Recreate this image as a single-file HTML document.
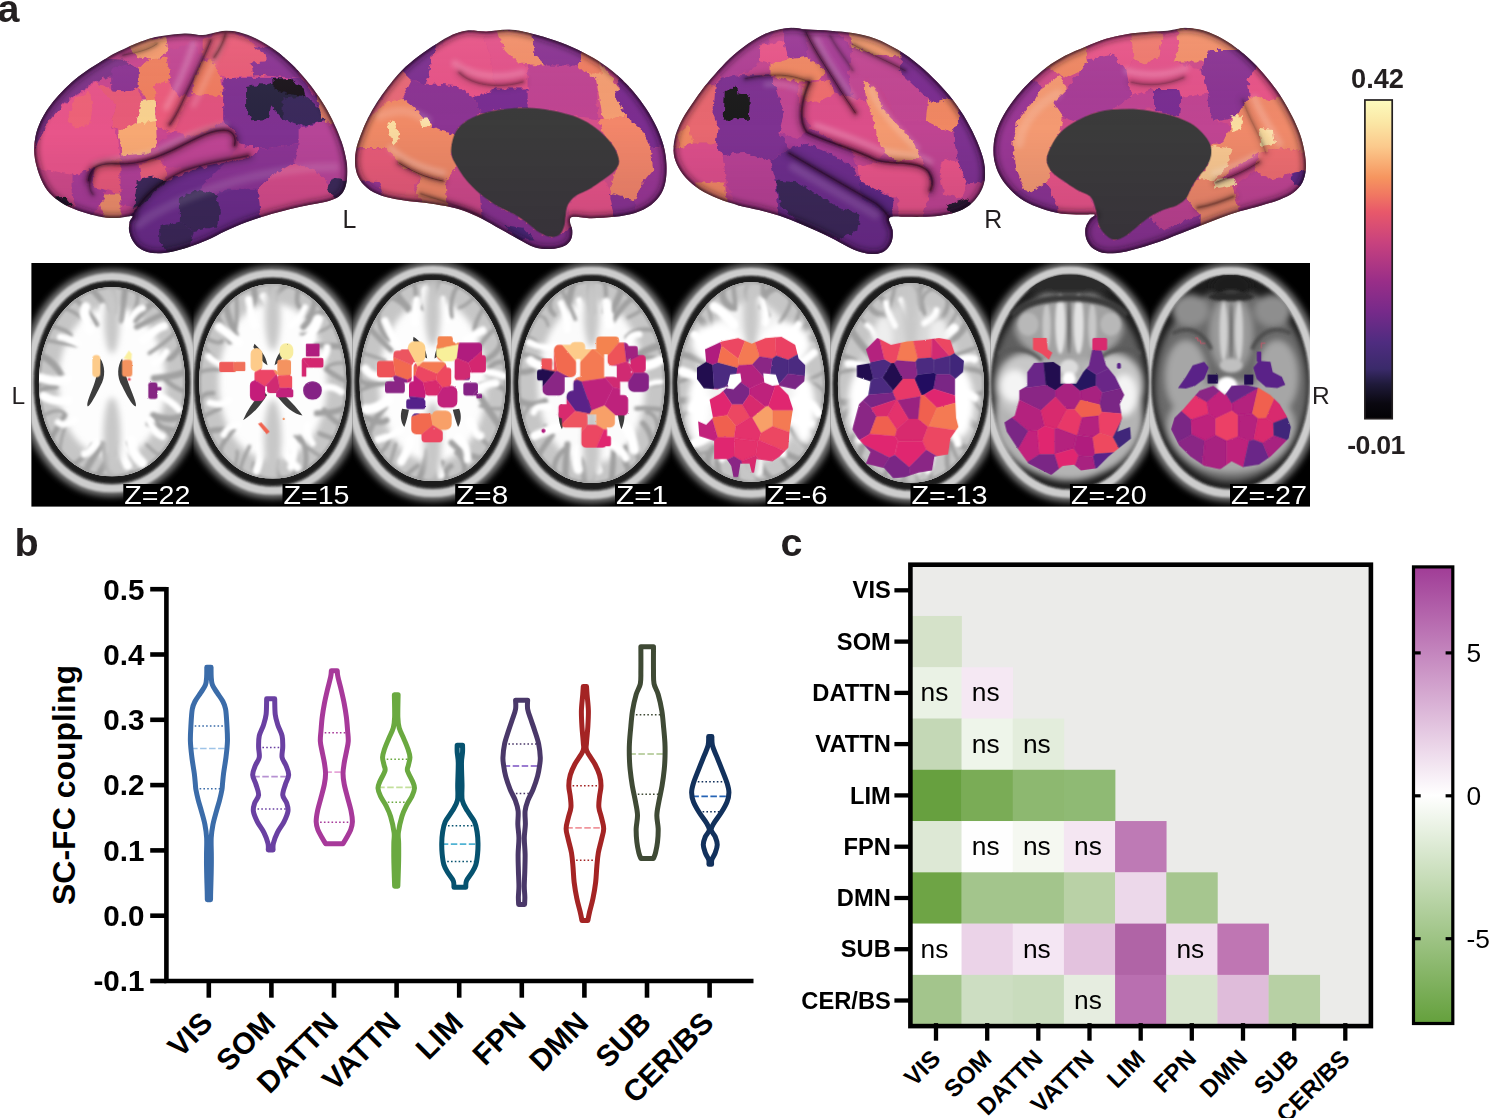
<!DOCTYPE html>
<html><head><meta charset="utf-8"><title>Figure</title>
<style>html,body{margin:0;padding:0;background:#fff}svg{display:block}text{font-family:"Liberation Sans",sans-serif}</style>
</head><body>
<svg width="1489" height="1118" viewBox="0 0 1489 1118">
<rect width="1489" height="1118" fill="#fff"/>
<g id="mri">
<defs>
<filter id="bl2" x="-30%" y="-30%" width="160%" height="160%"><feGaussianBlur stdDeviation="2"/></filter>
<filter id="bl3" x="-30%" y="-30%" width="160%" height="160%"><feGaussianBlur stdDeviation="3"/></filter>
<filter id="bl5" x="-30%" y="-30%" width="160%" height="160%"><feGaussianBlur stdDeviation="5"/></filter>
<filter id="bl8" x="-30%" y="-30%" width="160%" height="160%"><feGaussianBlur stdDeviation="8"/></filter>
<filter id="bl14" x="-30%" y="-30%" width="160%" height="160%"><feGaussianBlur stdDeviation="14"/></filter>
<filter id="bl22" x="-30%" y="-30%" width="160%" height="160%"><feGaussianBlur stdDeviation="22"/></filter>
<clipPath id="sc0"><rect x="31.4" y="263" width="161.9" height="243.6"/></clipPath>
<clipPath id="sc1"><rect x="193.3" y="263" width="159.2" height="243.6"/></clipPath>
<clipPath id="sc2"><rect x="352.5" y="263" width="158.7" height="243.6"/></clipPath>
<clipPath id="sc3"><rect x="511.2" y="263" width="159.8" height="243.6"/></clipPath>
<clipPath id="sc4"><rect x="671.0" y="263" width="159.6" height="243.6"/></clipPath>
<clipPath id="sc5"><rect x="830.6" y="263" width="159.9" height="243.6"/></clipPath>
<clipPath id="sc6"><rect x="990.5" y="263" width="159.4" height="243.6"/></clipPath>
<clipPath id="sc7"><rect x="1149.9" y="263" width="160.1" height="243.6"/></clipPath>
<clipPath id="strip"><rect x="31.4" y="263" width="1278.6" height="243.6"/></clipPath>
</defs>
<rect x="31.4" y="263" width="1278.6" height="243.6" fill="#000"/>
<g clip-path="url(#sc0)">
<g transform="translate(25 258) scale(0.22836)"><g filter="url(#bl14)"><path d="M381.0 48.0 L419.4 49.8 L455.0 55.2 L489.3 64.2 L522.3 76.6 L554.1 92.5 L584.3 111.8 L613.0 134.2 L640.0 159.6 L665.0 188.0 L688.0 219.1 L708.8 252.7 L727.2 288.6 L743.1 326.7 L756.4 366.7 L766.9 408.5 L774.6 452.0 L779.3 497.2 L781.0 546.0 L779.6 594.8 L775.2 640.0 L768.0 683.5 L758.0 725.3 L745.2 765.3 L729.8 803.4 L711.8 839.3 L691.3 872.9 L668.5 904.0 L643.6 932.4 L616.6 957.8 L587.7 980.2 L557.1 999.5 L525.0 1015.4 L491.4 1027.8 L456.5 1036.8 L420.2 1042.2 L381.0 1044.0 L341.8 1042.2 L305.5 1036.8 L270.6 1027.8 L237.0 1015.4 L204.9 999.5 L174.3 980.2 L145.4 957.8 L118.4 932.4 L93.5 904.0 L70.7 872.9 L50.2 839.3 L32.2 803.4 L16.8 765.3 L4.0 725.3 L-6.0 683.5 L-13.2 640.0 L-17.6 594.8 L-19.0 546.0 L-17.3 497.2 L-12.6 452.0 L-4.9 408.5 L5.6 366.7 L18.9 326.7 L34.8 288.6 L53.2 252.7 L74.0 219.1 L97.0 188.0 L122.0 159.6 L149.0 134.2 L177.7 111.8 L207.9 92.5 L239.7 76.6 L272.7 64.2 L307.0 55.2 L342.6 49.8Z" fill="#7c7c7c"/></g><g filter="url(#bl5)"><path d="M381.0 83.0 L415.6 84.7 L447.8 89.7 L478.7 98.0 L508.6 109.6 L537.2 124.4 L564.5 142.3 L590.4 163.1 L614.7 186.8 L637.3 213.2 L658.1 242.1 L676.8 273.3 L693.4 306.7 L707.8 342.1 L719.8 379.3 L729.3 418.2 L736.2 458.6 L740.5 500.7 L742.0 546.0 L740.7 591.3 L736.8 633.4 L730.3 673.8 L721.2 712.7 L709.7 749.9 L695.8 785.3 L679.5 818.7 L661.1 849.9 L640.5 878.8 L618.0 905.2 L593.6 928.9 L567.6 949.7 L540.0 967.6 L510.9 982.4 L480.6 994.0 L449.1 1002.3 L416.3 1007.3 L381.0 1009.0 L345.7 1007.3 L312.9 1002.3 L281.4 994.0 L251.1 982.4 L222.0 967.6 L194.4 949.7 L168.4 928.9 L144.0 905.2 L121.5 878.8 L100.9 849.9 L82.5 818.7 L66.2 785.3 L52.3 749.9 L40.8 712.7 L31.7 673.8 L25.2 633.4 L21.3 591.3 L20.0 546.0 L21.5 500.7 L25.8 458.6 L32.7 418.2 L42.2 379.3 L54.2 342.1 L68.6 306.7 L85.2 273.3 L103.9 242.1 L124.7 213.2 L147.3 186.8 L171.6 163.1 L197.5 142.3 L224.8 124.4 L253.4 109.6 L283.3 98.0 L314.2 89.7 L346.4 84.7Z" fill="none" stroke="#cdcdcd" stroke-width="34"/></g><g filter="url(#bl5)"><path d="M381.0 101.0 L413.6 102.6 L443.9 107.4 L473.0 115.4 L501.0 126.5 L528.0 140.6 L553.8 157.7 L578.2 177.7 L601.2 200.3 L622.5 225.5 L642.2 253.2 L659.9 283.1 L675.7 315.1 L689.3 348.9 L700.7 384.5 L709.8 421.7 L716.4 460.4 L720.5 500.6 L722.0 544.0 L720.8 587.4 L717.1 627.6 L710.9 666.3 L702.4 703.5 L691.5 739.1 L678.3 772.9 L663.0 804.9 L645.6 834.8 L626.1 862.5 L604.9 887.7 L581.8 910.3 L557.2 930.3 L531.1 947.4 L503.7 961.5 L475.1 972.6 L445.4 980.6 L414.4 985.4 L381.0 987.0 L347.6 985.4 L316.6 980.6 L286.9 972.6 L258.3 961.5 L230.9 947.4 L204.8 930.3 L180.2 910.3 L157.1 887.7 L135.9 862.5 L116.4 834.8 L99.0 804.9 L83.7 772.9 L70.5 739.1 L59.6 703.5 L51.1 666.3 L44.9 627.6 L41.2 587.4 L40.0 544.0 L41.5 500.6 L45.6 460.4 L52.2 421.7 L61.3 384.5 L72.7 348.9 L86.3 315.1 L102.1 283.1 L119.8 253.2 L139.5 225.5 L160.8 200.3 L183.8 177.7 L208.2 157.7 L234.0 140.6 L261.0 126.5 L289.0 115.4 L318.1 107.4 L348.4 102.6Z" fill="#1a1a1a"/></g><clipPath id="bc0"><path d="M381.0 128.0 L411.1 129.5 L439.0 134.0 L466.0 141.4 L492.0 151.8 L517.0 165.0 L541.0 181.0 L563.8 199.6 L585.3 220.8 L605.4 244.4 L624.0 270.2 L640.8 298.2 L655.9 328.1 L669.0 359.7 L680.0 393.0 L688.8 427.7 L695.3 463.9 L699.4 501.5 L701.0 542.0 L699.8 582.5 L696.4 620.1 L690.6 656.3 L682.6 691.0 L672.4 724.3 L660.0 755.9 L645.6 785.8 L629.3 813.8 L611.0 839.6 L591.1 863.2 L569.5 884.4 L546.4 903.0 L521.9 919.0 L496.2 932.2 L469.3 942.6 L441.4 950.0 L412.3 954.5 L381.0 956.0 L349.7 954.5 L320.6 950.0 L292.7 942.6 L265.8 932.2 L240.1 919.0 L215.6 903.0 L192.5 884.4 L170.9 863.2 L151.0 839.6 L132.7 813.8 L116.4 785.8 L102.0 755.9 L89.6 724.3 L79.4 691.0 L71.4 656.3 L65.6 620.1 L62.2 582.5 L61.0 542.0 L62.6 501.5 L66.7 463.9 L73.2 427.7 L82.0 393.0 L93.0 359.7 L106.1 328.1 L121.2 298.2 L138.0 270.2 L156.6 244.4 L176.7 220.8 L198.2 199.6 L221.0 181.0 L245.0 165.0 L270.0 151.8 L296.0 141.4 L323.0 134.0 L350.9 129.5Z"/></clipPath><g filter="url(#bl3)"><path d="M381.0 128.0 L411.1 129.5 L439.0 134.0 L466.0 141.4 L492.0 151.8 L517.0 165.0 L541.0 181.0 L563.8 199.6 L585.3 220.8 L605.4 244.4 L624.0 270.2 L640.8 298.2 L655.9 328.1 L669.0 359.7 L680.0 393.0 L688.8 427.7 L695.3 463.9 L699.4 501.5 L701.0 542.0 L699.8 582.5 L696.4 620.1 L690.6 656.3 L682.6 691.0 L672.4 724.3 L660.0 755.9 L645.6 785.8 L629.3 813.8 L611.0 839.6 L591.1 863.2 L569.5 884.4 L546.4 903.0 L521.9 919.0 L496.2 932.2 L469.3 942.6 L441.4 950.0 L412.3 954.5 L381.0 956.0 L349.7 954.5 L320.6 950.0 L292.7 942.6 L265.8 932.2 L240.1 919.0 L215.6 903.0 L192.5 884.4 L170.9 863.2 L151.0 839.6 L132.7 813.8 L116.4 785.8 L102.0 755.9 L89.6 724.3 L79.4 691.0 L71.4 656.3 L65.6 620.1 L62.2 582.5 L61.0 542.0 L62.6 501.5 L66.7 463.9 L73.2 427.7 L82.0 393.0 L93.0 359.7 L106.1 328.1 L121.2 298.2 L138.0 270.2 L156.6 244.4 L176.7 220.8 L198.2 199.6 L221.0 181.0 L245.0 165.0 L270.0 151.8 L296.0 141.4 L323.0 134.0 L350.9 129.5Z" fill="#fdfdfd"/></g><g clip-path="url(#bc0)"><g filter="url(#bl14)"><path d="M381.0 128.0 L411.1 129.5 L439.0 134.0 L466.0 141.4 L492.0 151.8 L517.0 165.0 L541.0 181.0 L563.8 199.6 L585.3 220.8 L605.4 244.4 L624.0 270.2 L640.8 298.2 L655.9 328.1 L669.0 359.7 L680.0 393.0 L688.8 427.7 L695.3 463.9 L699.4 501.5 L701.0 542.0 L699.8 582.5 L696.4 620.1 L690.6 656.3 L682.6 691.0 L672.4 724.3 L660.0 755.9 L645.6 785.8 L629.3 813.8 L611.0 839.6 L591.1 863.2 L569.5 884.4 L546.4 903.0 L521.9 919.0 L496.2 932.2 L469.3 942.6 L441.4 950.0 L412.3 954.5 L381.0 956.0 L349.7 954.5 L320.6 950.0 L292.7 942.6 L265.8 932.2 L240.1 919.0 L215.6 903.0 L192.5 884.4 L170.9 863.2 L151.0 839.6 L132.7 813.8 L116.4 785.8 L102.0 755.9 L89.6 724.3 L79.4 691.0 L71.4 656.3 L65.6 620.1 L62.2 582.5 L61.0 542.0 L62.6 501.5 L66.7 463.9 L73.2 427.7 L82.0 393.0 L93.0 359.7 L106.1 328.1 L121.2 298.2 L138.0 270.2 L156.6 244.4 L176.7 220.8 L198.2 199.6 L221.0 181.0 L245.0 165.0 L270.0 151.8 L296.0 141.4 L323.0 134.0 L350.9 129.5Z" fill="none" stroke="#c6c6c6" stroke-width="170"/></g><g filter="url(#bl5)"><path d="M381.0 128.0 L411.1 129.5 L439.0 134.0 L466.0 141.4 L492.0 151.8 L517.0 165.0 L541.0 181.0 L563.8 199.6 L585.3 220.8 L605.4 244.4 L624.0 270.2 L640.8 298.2 L655.9 328.1 L669.0 359.7 L680.0 393.0 L688.8 427.7 L695.3 463.9 L699.4 501.5 L701.0 542.0 L699.8 582.5 L696.4 620.1 L690.6 656.3 L682.6 691.0 L672.4 724.3 L660.0 755.9 L645.6 785.8 L629.3 813.8 L611.0 839.6 L591.1 863.2 L569.5 884.4 L546.4 903.0 L521.9 919.0 L496.2 932.2 L469.3 942.6 L441.4 950.0 L412.3 954.5 L381.0 956.0 L349.7 954.5 L320.6 950.0 L292.7 942.6 L265.8 932.2 L240.1 919.0 L215.6 903.0 L192.5 884.4 L170.9 863.2 L151.0 839.6 L132.7 813.8 L116.4 785.8 L102.0 755.9 L89.6 724.3 L79.4 691.0 L71.4 656.3 L65.6 620.1 L62.2 582.5 L61.0 542.0 L62.6 501.5 L66.7 463.9 L73.2 427.7 L82.0 393.0 L93.0 359.7 L106.1 328.1 L121.2 298.2 L138.0 270.2 L156.6 244.4 L176.7 220.8 L198.2 199.6 L221.0 181.0 L245.0 165.0 L270.0 151.8 L296.0 141.4 L323.0 134.0 L350.9 129.5Z" fill="none" stroke="#a4a4a4" stroke-width="16"/></g><g filter="url(#bl8)"><path d="M381 128 Q395 189 397 236" stroke="#a0a0a0" stroke-width="14" fill="none" stroke-linecap="round"/><path d="M439 134 Q432 186 419 274" stroke="#a0a0a0" stroke-width="27" fill="none" stroke-linecap="round"/><path d="M492 152 Q501 189 467 258" stroke="#a0a0a0" stroke-width="16" fill="none" stroke-linecap="round"/><path d="M564 200 Q534 209 483 270" stroke="#a0a0a0" stroke-width="30" fill="none" stroke-linecap="round"/><path d="M605 244 Q533 279 489 302" stroke="#a0a0a0" stroke-width="24" fill="none" stroke-linecap="round"/><path d="M656 328 Q618 369 544 417" stroke="#a0a0a0" stroke-width="16" fill="none" stroke-linecap="round"/><path d="M680 393 Q639 445 631 441" stroke="#a0a0a0" stroke-width="25" fill="none" stroke-linecap="round"/><path d="M699 501 Q652 519 565 527" stroke="#a0a0a0" stroke-width="29" fill="none" stroke-linecap="round"/><path d="M700 583 Q663 579 604 524" stroke="#a0a0a0" stroke-width="20" fill="none" stroke-linecap="round"/><path d="M683 691 Q644 719 562 690" stroke="#a0a0a0" stroke-width="30" fill="none" stroke-linecap="round"/><path d="M660 756 Q619 746 539 727" stroke="#a0a0a0" stroke-width="21" fill="none" stroke-linecap="round"/><path d="M646 786 Q608 740 573 713" stroke="#a0a0a0" stroke-width="14" fill="none" stroke-linecap="round"/><path d="M591 863 Q578 863 533 818" stroke="#a0a0a0" stroke-width="13" fill="none" stroke-linecap="round"/><path d="M522 919 Q492 868 452 811" stroke="#a0a0a0" stroke-width="20" fill="none" stroke-linecap="round"/><path d="M469 943 Q409 882 400 810" stroke="#a0a0a0" stroke-width="13" fill="none" stroke-linecap="round"/><path d="M381 956 Q350 896 348 812" stroke="#a0a0a0" stroke-width="22" fill="none" stroke-linecap="round"/><path d="M321 950 Q356 888 406 831" stroke="#a0a0a0" stroke-width="28" fill="none" stroke-linecap="round"/><path d="M266 932 Q278 902 338 815" stroke="#a0a0a0" stroke-width="28" fill="none" stroke-linecap="round"/><path d="M216 903 Q282 857 296 818" stroke="#a0a0a0" stroke-width="20" fill="none" stroke-linecap="round"/><path d="M151 840 Q158 791 176 733" stroke="#a0a0a0" stroke-width="12" fill="none" stroke-linecap="round"/><path d="M116 786 Q153 727 174 688" stroke="#a0a0a0" stroke-width="23" fill="none" stroke-linecap="round"/><path d="M79 691 Q139 656 170 677" stroke="#a0a0a0" stroke-width="13" fill="none" stroke-linecap="round"/><path d="M62 583 Q100 563 122 567" stroke="#a0a0a0" stroke-width="22" fill="none" stroke-linecap="round"/><path d="M61 542 Q118 539 135 563" stroke="#a0a0a0" stroke-width="24" fill="none" stroke-linecap="round"/><path d="M73 428 Q130 454 165 524" stroke="#a0a0a0" stroke-width="28" fill="none" stroke-linecap="round"/><path d="M93 360 Q139 368 223 384" stroke="#a0a0a0" stroke-width="15" fill="none" stroke-linecap="round"/><path d="M121 298 Q181 314 201 338" stroke="#a0a0a0" stroke-width="17" fill="none" stroke-linecap="round"/><path d="M177 221 Q233 242 282 291" stroke="#a0a0a0" stroke-width="15" fill="none" stroke-linecap="round"/><path d="M221 181 Q289 241 316 292" stroke="#a0a0a0" stroke-width="20" fill="none" stroke-linecap="round"/><path d="M296 141 Q347 198 384 243" stroke="#a0a0a0" stroke-width="25" fill="none" stroke-linecap="round"/></g><g filter="url(#bl8)"><path d="M381 279 Q349 273 344 213" stroke="#ffffff" stroke-width="32" fill="none" stroke-linecap="round"/><path d="M446 295 Q477 229 515 219" stroke="#ffffff" stroke-width="30" fill="none" stroke-linecap="round"/><path d="M518 359 Q585 301 609 298" stroke="#ffffff" stroke-width="36" fill="none" stroke-linecap="round"/><path d="M566 459 Q593 454 619 410" stroke="#ffffff" stroke-width="29" fill="none" stroke-linecap="round"/><path d="M576 599 Q639 622 674 664" stroke="#ffffff" stroke-width="30" fill="none" stroke-linecap="round"/><path d="M544 709 Q560 763 602 782" stroke="#ffffff" stroke-width="31" fill="none" stroke-linecap="round"/><path d="M465 800 Q463 854 513 898" stroke="#ffffff" stroke-width="44" fill="none" stroke-linecap="round"/><path d="M415 821 Q414 851 450 911" stroke="#ffffff" stroke-width="40" fill="none" stroke-linecap="round"/><path d="M313 809 Q278 859 262 858" stroke="#ffffff" stroke-width="35" fill="none" stroke-linecap="round"/><path d="M218 709 Q167 742 145 720" stroke="#ffffff" stroke-width="30" fill="none" stroke-linecap="round"/><path d="M189 623 Q132 634 80 605" stroke="#ffffff" stroke-width="39" fill="none" stroke-linecap="round"/><path d="M184 528 Q149 551 65 524" stroke="#ffffff" stroke-width="40" fill="none" stroke-linecap="round"/><path d="M232 376 Q181 347 154 346" stroke="#ffffff" stroke-width="28" fill="none" stroke-linecap="round"/><path d="M285 315 Q249 246 266 214" stroke="#ffffff" stroke-width="42" fill="none" stroke-linecap="round"/></g><g filter="url(#bl14)"><ellipse cx="381.0" cy="268.0" rx="34.0" ry="150.0" fill="#c8c8c8"/><ellipse cx="381.0" cy="786.0" rx="38.0" ry="175.0" fill="#c8c8c8"/></g><g filter="url(#bl5)"><path d="M381 133 V418 M381 951 V626" stroke="#8a8a8a" stroke-width="11" fill="none"/></g><g filter="url(#bl3)" transform="translate(0 0)"><path d="M330 440 C350 470 355 520 330 560 C310 600 290 640 275 650 C265 640 290 590 305 545 C320 500 322 470 330 440Z M425 440 C405 470 400 520 425 560 C445 600 465 640 485 650 C492 640 468 590 452 545 C436 500 433 470 425 440Z" fill="#3c3c3c"/></g></g></g>
</g>
<g clip-path="url(#sc1)">
<g transform="translate(25 258) scale(0.22836)"><g filter="url(#bl14)"><path d="M1085.0 34.0 L1123.6 35.8 L1159.4 41.4 L1193.9 50.6 L1227.1 63.3 L1258.9 79.6 L1289.4 99.3 L1318.2 122.2 L1345.3 148.3 L1370.5 177.4 L1393.6 209.2 L1414.4 243.6 L1432.9 280.4 L1448.9 319.4 L1462.2 360.4 L1472.8 403.2 L1480.5 447.7 L1485.3 494.1 L1487.0 544.0 L1485.5 593.9 L1481.2 640.3 L1473.9 684.8 L1463.9 727.6 L1451.0 768.6 L1435.5 807.6 L1417.4 844.4 L1396.9 878.8 L1374.0 910.6 L1348.9 939.7 L1321.8 965.8 L1292.7 988.7 L1262.0 1008.4 L1229.7 1024.7 L1196.0 1037.4 L1160.9 1046.6 L1124.4 1052.2 L1085.0 1054.0 L1045.6 1052.2 L1009.1 1046.6 L974.0 1037.4 L940.3 1024.7 L908.0 1008.4 L877.3 988.7 L848.2 965.8 L821.1 939.7 L796.0 910.6 L773.1 878.8 L752.6 844.4 L734.5 807.6 L719.0 768.6 L706.1 727.6 L696.1 684.8 L688.8 640.3 L684.5 593.9 L683.0 544.0 L684.7 494.1 L689.5 447.7 L697.2 403.2 L707.8 360.4 L721.1 319.4 L737.1 280.4 L755.6 243.6 L776.4 209.2 L799.5 177.4 L824.7 148.3 L851.8 122.2 L880.6 99.3 L911.1 79.6 L942.9 63.3 L976.1 50.6 L1010.6 41.4 L1046.4 35.8Z" fill="#7c7c7c"/></g><g filter="url(#bl5)"><path d="M1085.0 69.0 L1119.8 70.7 L1152.2 75.9 L1183.3 84.4 L1213.3 96.3 L1242.1 111.5 L1269.5 129.8 L1295.6 151.2 L1320.0 175.5 L1342.8 202.5 L1363.6 232.2 L1382.5 264.2 L1399.2 298.5 L1413.6 334.9 L1425.6 373.0 L1435.2 412.9 L1442.2 454.3 L1446.5 497.5 L1448.0 544.0 L1446.7 590.5 L1442.7 633.7 L1436.2 675.1 L1427.1 715.0 L1415.5 753.1 L1401.5 789.5 L1385.2 823.8 L1366.6 855.8 L1346.0 885.5 L1323.3 912.5 L1298.8 936.8 L1272.6 958.2 L1244.8 976.5 L1215.7 991.7 L1185.2 1003.6 L1153.5 1012.1 L1120.5 1017.3 L1085.0 1019.0 L1049.5 1017.3 L1016.5 1012.1 L984.8 1003.6 L954.3 991.7 L925.2 976.5 L897.4 958.2 L871.2 936.8 L846.7 912.5 L824.0 885.5 L803.4 855.8 L784.8 823.8 L768.5 789.5 L754.5 753.1 L742.9 715.0 L733.8 675.1 L727.3 633.7 L723.3 590.5 L722.0 544.0 L723.5 497.5 L727.8 454.3 L734.8 412.9 L744.4 373.0 L756.4 334.9 L770.8 298.5 L787.5 264.2 L806.4 232.2 L827.2 202.5 L850.0 175.5 L874.4 151.2 L900.5 129.8 L927.9 111.5 L956.7 96.3 L986.7 84.4 L1017.8 75.9 L1050.2 70.7Z" fill="none" stroke="#cdcdcd" stroke-width="34"/></g><g filter="url(#bl5)"><path d="M1085.0 87.0 L1117.8 88.6 L1148.2 93.6 L1177.5 101.8 L1205.8 113.2 L1232.9 127.7 L1258.8 145.3 L1283.4 165.7 L1306.5 189.0 L1328.0 214.9 L1347.7 243.3 L1365.6 274.0 L1381.4 306.9 L1395.1 341.7 L1406.6 378.2 L1415.7 416.4 L1422.4 456.1 L1426.5 497.5 L1428.0 542.0 L1426.8 586.5 L1423.0 627.9 L1416.9 667.6 L1408.3 705.8 L1397.3 742.3 L1384.1 777.1 L1368.7 810.0 L1351.1 840.7 L1331.6 869.1 L1310.2 895.0 L1287.0 918.3 L1262.3 938.7 L1236.0 956.3 L1208.5 970.8 L1179.7 982.2 L1149.7 990.4 L1118.6 995.4 L1085.0 997.0 L1051.4 995.4 L1020.3 990.4 L990.3 982.2 L961.5 970.8 L934.0 956.3 L907.7 938.7 L883.0 918.3 L859.8 895.0 L838.4 869.1 L818.9 840.7 L801.3 810.0 L785.9 777.1 L772.7 742.3 L761.7 705.8 L753.1 667.6 L747.0 627.9 L743.2 586.5 L742.0 542.0 L743.5 497.5 L747.6 456.1 L754.3 416.4 L763.4 378.2 L774.9 341.7 L788.6 306.9 L804.4 274.0 L822.3 243.3 L842.0 214.9 L863.5 189.0 L886.6 165.7 L911.2 145.3 L937.1 127.7 L964.2 113.2 L992.5 101.8 L1021.8 93.6 L1052.2 88.6Z" fill="#1a1a1a"/></g><clipPath id="bc1"><path d="M1085.0 114.0 L1115.3 115.5 L1143.4 120.2 L1170.5 127.8 L1196.7 138.5 L1221.9 152.1 L1246.0 168.5 L1268.9 187.7 L1290.6 209.5 L1310.8 233.8 L1329.5 260.3 L1346.5 289.1 L1361.6 319.9 L1374.8 352.4 L1385.9 386.7 L1394.7 422.4 L1401.3 459.6 L1405.4 498.3 L1407.0 540.0 L1405.8 581.7 L1402.3 620.4 L1396.5 657.6 L1388.5 693.3 L1378.2 727.6 L1365.8 760.1 L1351.3 790.9 L1334.8 819.7 L1316.5 846.2 L1296.4 870.5 L1274.6 892.3 L1251.4 911.5 L1226.8 927.9 L1200.9 941.5 L1173.9 952.2 L1145.8 959.8 L1116.5 964.5 L1085.0 966.0 L1053.5 964.5 L1024.2 959.8 L996.1 952.2 L969.1 941.5 L943.2 927.9 L918.6 911.5 L895.4 892.3 L873.6 870.5 L853.5 846.2 L835.2 819.7 L818.7 790.9 L804.2 760.1 L791.8 727.6 L781.5 693.3 L773.5 657.6 L767.7 620.4 L764.2 581.7 L763.0 540.0 L764.6 498.3 L768.7 459.6 L775.3 422.4 L784.1 386.7 L795.2 352.4 L808.4 319.9 L823.5 289.1 L840.5 260.3 L859.2 233.8 L879.4 209.5 L901.1 187.7 L924.0 168.5 L948.1 152.1 L973.3 138.5 L999.5 127.8 L1026.6 120.2 L1054.7 115.5Z"/></clipPath><g filter="url(#bl3)"><path d="M1085.0 114.0 L1115.3 115.5 L1143.4 120.2 L1170.5 127.8 L1196.7 138.5 L1221.9 152.1 L1246.0 168.5 L1268.9 187.7 L1290.6 209.5 L1310.8 233.8 L1329.5 260.3 L1346.5 289.1 L1361.6 319.9 L1374.8 352.4 L1385.9 386.7 L1394.7 422.4 L1401.3 459.6 L1405.4 498.3 L1407.0 540.0 L1405.8 581.7 L1402.3 620.4 L1396.5 657.6 L1388.5 693.3 L1378.2 727.6 L1365.8 760.1 L1351.3 790.9 L1334.8 819.7 L1316.5 846.2 L1296.4 870.5 L1274.6 892.3 L1251.4 911.5 L1226.8 927.9 L1200.9 941.5 L1173.9 952.2 L1145.8 959.8 L1116.5 964.5 L1085.0 966.0 L1053.5 964.5 L1024.2 959.8 L996.1 952.2 L969.1 941.5 L943.2 927.9 L918.6 911.5 L895.4 892.3 L873.6 870.5 L853.5 846.2 L835.2 819.7 L818.7 790.9 L804.2 760.1 L791.8 727.6 L781.5 693.3 L773.5 657.6 L767.7 620.4 L764.2 581.7 L763.0 540.0 L764.6 498.3 L768.7 459.6 L775.3 422.4 L784.1 386.7 L795.2 352.4 L808.4 319.9 L823.5 289.1 L840.5 260.3 L859.2 233.8 L879.4 209.5 L901.1 187.7 L924.0 168.5 L948.1 152.1 L973.3 138.5 L999.5 127.8 L1026.6 120.2 L1054.7 115.5Z" fill="#fdfdfd"/></g><g clip-path="url(#bc1)"><g filter="url(#bl14)"><path d="M1085.0 114.0 L1115.3 115.5 L1143.4 120.2 L1170.5 127.8 L1196.7 138.5 L1221.9 152.1 L1246.0 168.5 L1268.9 187.7 L1290.6 209.5 L1310.8 233.8 L1329.5 260.3 L1346.5 289.1 L1361.6 319.9 L1374.8 352.4 L1385.9 386.7 L1394.7 422.4 L1401.3 459.6 L1405.4 498.3 L1407.0 540.0 L1405.8 581.7 L1402.3 620.4 L1396.5 657.6 L1388.5 693.3 L1378.2 727.6 L1365.8 760.1 L1351.3 790.9 L1334.8 819.7 L1316.5 846.2 L1296.4 870.5 L1274.6 892.3 L1251.4 911.5 L1226.8 927.9 L1200.9 941.5 L1173.9 952.2 L1145.8 959.8 L1116.5 964.5 L1085.0 966.0 L1053.5 964.5 L1024.2 959.8 L996.1 952.2 L969.1 941.5 L943.2 927.9 L918.6 911.5 L895.4 892.3 L873.6 870.5 L853.5 846.2 L835.2 819.7 L818.7 790.9 L804.2 760.1 L791.8 727.6 L781.5 693.3 L773.5 657.6 L767.7 620.4 L764.2 581.7 L763.0 540.0 L764.6 498.3 L768.7 459.6 L775.3 422.4 L784.1 386.7 L795.2 352.4 L808.4 319.9 L823.5 289.1 L840.5 260.3 L859.2 233.8 L879.4 209.5 L901.1 187.7 L924.0 168.5 L948.1 152.1 L973.3 138.5 L999.5 127.8 L1026.6 120.2 L1054.7 115.5Z" fill="none" stroke="#c6c6c6" stroke-width="170"/></g><g filter="url(#bl5)"><path d="M1085.0 114.0 L1115.3 115.5 L1143.4 120.2 L1170.5 127.8 L1196.7 138.5 L1221.9 152.1 L1246.0 168.5 L1268.9 187.7 L1290.6 209.5 L1310.8 233.8 L1329.5 260.3 L1346.5 289.1 L1361.6 319.9 L1374.8 352.4 L1385.9 386.7 L1394.7 422.4 L1401.3 459.6 L1405.4 498.3 L1407.0 540.0 L1405.8 581.7 L1402.3 620.4 L1396.5 657.6 L1388.5 693.3 L1378.2 727.6 L1365.8 760.1 L1351.3 790.9 L1334.8 819.7 L1316.5 846.2 L1296.4 870.5 L1274.6 892.3 L1251.4 911.5 L1226.8 927.9 L1200.9 941.5 L1173.9 952.2 L1145.8 959.8 L1116.5 964.5 L1085.0 966.0 L1053.5 964.5 L1024.2 959.8 L996.1 952.2 L969.1 941.5 L943.2 927.9 L918.6 911.5 L895.4 892.3 L873.6 870.5 L853.5 846.2 L835.2 819.7 L818.7 790.9 L804.2 760.1 L791.8 727.6 L781.5 693.3 L773.5 657.6 L767.7 620.4 L764.2 581.7 L763.0 540.0 L764.6 498.3 L768.7 459.6 L775.3 422.4 L784.1 386.7 L795.2 352.4 L808.4 319.9 L823.5 289.1 L840.5 260.3 L859.2 233.8 L879.4 209.5 L901.1 187.7 L924.0 168.5 L948.1 152.1 L973.3 138.5 L999.5 127.8 L1026.6 120.2 L1054.7 115.5Z" fill="none" stroke="#a4a4a4" stroke-width="16"/></g><g filter="url(#bl8)"><path d="M1085 114 Q1068 122 1093 183" stroke="#a0a0a0" stroke-width="24" fill="none" stroke-linecap="round"/><path d="M1143 120 Q1089 154 1087 185" stroke="#a0a0a0" stroke-width="23" fill="none" stroke-linecap="round"/><path d="M1197 139 Q1183 202 1204 214" stroke="#a0a0a0" stroke-width="20" fill="none" stroke-linecap="round"/><path d="M1269 188 Q1263 238 1241 260" stroke="#a0a0a0" stroke-width="23" fill="none" stroke-linecap="round"/><path d="M1311 234 Q1265 248 1219 302" stroke="#a0a0a0" stroke-width="27" fill="none" stroke-linecap="round"/><path d="M1346 289 Q1304 331 1208 333" stroke="#a0a0a0" stroke-width="12" fill="none" stroke-linecap="round"/><path d="M1386 387 Q1351 385 1274 383" stroke="#a0a0a0" stroke-width="25" fill="none" stroke-linecap="round"/><path d="M1401 460 Q1344 456 1318 481" stroke="#a0a0a0" stroke-width="13" fill="none" stroke-linecap="round"/><path d="M1407 540 Q1365 522 1320 487" stroke="#a0a0a0" stroke-width="22" fill="none" stroke-linecap="round"/><path d="M1397 658 Q1362 677 1278 680" stroke="#a0a0a0" stroke-width="26" fill="none" stroke-linecap="round"/><path d="M1378 728 Q1334 700 1311 665" stroke="#a0a0a0" stroke-width="22" fill="none" stroke-linecap="round"/><path d="M1351 791 Q1336 787 1290 769" stroke="#a0a0a0" stroke-width="19" fill="none" stroke-linecap="round"/><path d="M1296 871 Q1211 817 1183 781" stroke="#a0a0a0" stroke-width="14" fill="none" stroke-linecap="round"/><path d="M1227 928 Q1242 827 1202 784" stroke="#a0a0a0" stroke-width="21" fill="none" stroke-linecap="round"/><path d="M1174 952 Q1192 938 1167 879" stroke="#a0a0a0" stroke-width="14" fill="none" stroke-linecap="round"/><path d="M1117 964 Q1089 919 1105 888" stroke="#a0a0a0" stroke-width="17" fill="none" stroke-linecap="round"/><path d="M1024 960 Q995 948 1005 902" stroke="#a0a0a0" stroke-width="23" fill="none" stroke-linecap="round"/><path d="M943 928 Q945 901 983 824" stroke="#a0a0a0" stroke-width="15" fill="none" stroke-linecap="round"/><path d="M919 911 Q934 858 928 847" stroke="#a0a0a0" stroke-width="13" fill="none" stroke-linecap="round"/><path d="M854 846 Q856 819 913 751" stroke="#a0a0a0" stroke-width="21" fill="none" stroke-linecap="round"/><path d="M804 760 Q851 744 901 758" stroke="#a0a0a0" stroke-width="25" fill="none" stroke-linecap="round"/><path d="M782 693 Q826 672 853 659" stroke="#a0a0a0" stroke-width="18" fill="none" stroke-linecap="round"/><path d="M768 620 Q780 589 824 592" stroke="#a0a0a0" stroke-width="19" fill="none" stroke-linecap="round"/><path d="M765 498 Q830 483 848 491" stroke="#a0a0a0" stroke-width="15" fill="none" stroke-linecap="round"/><path d="M784 387 Q826 440 849 458" stroke="#a0a0a0" stroke-width="13" fill="none" stroke-linecap="round"/><path d="M795 352 Q851 382 863 363" stroke="#a0a0a0" stroke-width="17" fill="none" stroke-linecap="round"/><path d="M840 260 Q878 331 898 365" stroke="#a0a0a0" stroke-width="28" fill="none" stroke-linecap="round"/><path d="M879 209 Q891 266 922 335" stroke="#a0a0a0" stroke-width="27" fill="none" stroke-linecap="round"/><path d="M924 169 Q933 215 922 316" stroke="#a0a0a0" stroke-width="16" fill="none" stroke-linecap="round"/><path d="M1000 128 Q1016 181 988 211" stroke="#a0a0a0" stroke-width="26" fill="none" stroke-linecap="round"/></g><g filter="url(#bl8)"><path d="M1085 269 Q1090 223 1046 168" stroke="#ffffff" stroke-width="35" fill="none" stroke-linecap="round"/><path d="M1166 295 Q1202 272 1227 215" stroke="#ffffff" stroke-width="26" fill="none" stroke-linecap="round"/><path d="M1235 369 Q1272 299 1283 268" stroke="#ffffff" stroke-width="44" fill="none" stroke-linecap="round"/><path d="M1271 454 Q1319 443 1323 392" stroke="#ffffff" stroke-width="32" fill="none" stroke-linecap="round"/><path d="M1284 575 Q1338 551 1385 586" stroke="#ffffff" stroke-width="29" fill="none" stroke-linecap="round"/><path d="M1238 731 Q1222 761 1260 813" stroke="#ffffff" stroke-width="26" fill="none" stroke-linecap="round"/><path d="M1169 805 Q1188 848 1164 916" stroke="#ffffff" stroke-width="30" fill="none" stroke-linecap="round"/><path d="M1120 827 Q1165 893 1192 917" stroke="#ffffff" stroke-width="33" fill="none" stroke-linecap="round"/><path d="M1033 822 Q1037 873 1013 933" stroke="#ffffff" stroke-width="34" fill="none" stroke-linecap="round"/><path d="M932 731 Q890 731 870 774" stroke="#ffffff" stroke-width="28" fill="none" stroke-linecap="round"/><path d="M892 623 Q872 649 809 634" stroke="#ffffff" stroke-width="30" fill="none" stroke-linecap="round"/><path d="M893 477 Q824 456 805 431" stroke="#ffffff" stroke-width="29" fill="none" stroke-linecap="round"/><path d="M935 369 Q907 347 851 302" stroke="#ffffff" stroke-width="39" fill="none" stroke-linecap="round"/><path d="M1004 295 Q994 264 980 182" stroke="#ffffff" stroke-width="33" fill="none" stroke-linecap="round"/></g><g filter="url(#bl14)"><ellipse cx="1085.0" cy="254.0" rx="34.0" ry="150.0" fill="#c8c8c8"/><ellipse cx="1085.0" cy="796.0" rx="38.0" ry="175.0" fill="#c8c8c8"/></g><g filter="url(#bl5)"><path d="M1085 119 V404 M1085 961 V636" stroke="#8a8a8a" stroke-width="11" fill="none"/></g><g filter="url(#bl3)" transform="translate(0 0)"><path d="M1005 375 C1030 400 1055 425 1062 470 C1040 460 1015 420 1000 390Z M1150 375 C1125 400 1100 425 1093 470 C1115 460 1140 420 1155 390Z M1040 580 C1010 620 975 660 955 710 C990 690 1030 650 1060 600Z M1120 580 C1150 620 1190 650 1215 690 C1180 685 1135 650 1100 600Z" fill="#3c3c3c"/></g></g></g>
</g>
<g clip-path="url(#sc2)">
<g transform="translate(345 258) scale(0.22836)"><g filter="url(#bl14)"><path d="M384.0 17.0 L422.0 18.9 L457.3 24.6 L491.3 34.0 L524.0 47.1 L555.5 63.9 L585.7 84.1 L614.3 107.7 L641.2 134.5 L666.3 164.3 L689.4 197.0 L710.3 232.4 L728.9 270.2 L745.0 310.3 L758.5 352.4 L769.3 396.4 L777.2 442.1 L782.2 489.7 L784.0 541.0 L782.6 592.3 L778.2 639.9 L771.0 685.6 L761.0 729.6 L748.2 771.7 L732.8 811.8 L714.8 849.6 L694.3 885.0 L671.5 917.7 L646.6 947.5 L619.6 974.3 L590.7 997.9 L560.1 1018.1 L528.0 1034.9 L494.4 1048.0 L459.5 1057.4 L423.2 1063.1 L384.0 1065.0 L344.8 1063.1 L308.5 1057.4 L273.6 1048.0 L240.0 1034.9 L207.9 1018.1 L177.3 997.9 L148.4 974.3 L121.4 947.5 L96.5 917.7 L73.7 885.0 L53.2 849.6 L35.2 811.8 L19.8 771.7 L7.0 729.6 L-3.0 685.6 L-10.2 639.9 L-14.6 592.3 L-16.0 541.0 L-14.2 489.7 L-9.2 442.1 L-1.3 396.4 L9.5 352.4 L23.0 310.3 L39.1 270.2 L57.7 232.4 L78.6 197.0 L101.7 164.3 L126.8 134.5 L153.7 107.7 L182.3 84.1 L212.5 63.9 L244.0 47.1 L276.7 34.0 L310.7 24.6 L346.0 18.9Z" fill="#7c7c7c"/></g><g filter="url(#bl5)"><path d="M384.0 52.0 L418.3 53.8 L450.1 59.1 L480.8 67.9 L510.4 80.1 L538.8 95.7 L566.0 114.6 L591.8 136.6 L616.1 161.6 L638.8 189.5 L659.6 220.0 L678.5 253.0 L695.3 288.3 L709.8 325.7 L722.0 365.0 L731.8 406.0 L738.9 448.7 L743.4 493.1 L745.0 541.0 L743.7 588.9 L739.8 633.3 L733.3 676.0 L724.2 717.0 L712.7 756.3 L698.8 793.7 L682.5 829.0 L664.1 862.0 L643.5 892.5 L621.0 920.4 L596.6 945.4 L570.6 967.4 L543.0 986.3 L513.9 1001.9 L483.6 1014.1 L452.1 1022.9 L419.3 1028.2 L384.0 1030.0 L348.7 1028.2 L315.9 1022.9 L284.4 1014.1 L254.1 1001.9 L225.0 986.3 L197.4 967.4 L171.4 945.4 L147.0 920.4 L124.5 892.5 L103.9 862.0 L85.5 829.0 L69.2 793.7 L55.3 756.3 L43.8 717.0 L34.7 676.0 L28.2 633.3 L24.3 588.9 L23.0 541.0 L24.6 493.1 L29.1 448.7 L36.2 406.0 L46.0 365.0 L58.2 325.7 L72.7 288.3 L89.5 253.0 L108.4 220.0 L129.2 189.5 L151.9 161.6 L176.2 136.6 L202.0 114.6 L229.2 95.7 L257.6 80.1 L287.2 67.9 L317.9 59.1 L349.7 53.8Z" fill="none" stroke="#cdcdcd" stroke-width="34"/></g><g filter="url(#bl5)"><path d="M384.0 70.0 L416.2 71.7 L446.1 76.8 L474.9 85.2 L502.7 97.0 L529.4 111.9 L555.1 130.0 L579.4 151.2 L602.3 175.1 L623.8 201.8 L643.5 231.1 L661.4 262.8 L677.4 296.6 L691.2 332.5 L702.9 370.2 L712.2 409.5 L719.1 450.5 L723.4 493.1 L725.0 539.0 L723.8 584.9 L720.1 627.5 L713.9 668.5 L705.4 707.8 L694.5 745.5 L681.3 781.4 L666.0 815.2 L648.6 846.9 L629.1 876.2 L607.9 902.9 L584.8 926.8 L560.2 948.0 L534.1 966.1 L506.7 981.0 L478.1 992.8 L448.4 1001.2 L417.4 1006.3 L384.0 1008.0 L350.6 1006.3 L319.6 1001.2 L289.9 992.8 L261.3 981.0 L233.9 966.1 L207.8 948.0 L183.2 926.8 L160.1 902.9 L138.9 876.2 L119.4 846.9 L102.0 815.2 L86.7 781.4 L73.5 745.5 L62.6 707.8 L54.1 668.5 L47.9 627.5 L44.2 584.9 L43.0 539.0 L44.6 493.1 L48.9 450.5 L55.8 409.5 L65.1 370.2 L76.8 332.5 L90.6 296.6 L106.6 262.8 L124.5 231.1 L144.2 201.8 L165.7 175.1 L188.6 151.2 L212.9 130.0 L238.6 111.9 L265.3 97.0 L293.1 85.2 L321.9 76.8 L351.8 71.7Z" fill="#1a1a1a"/></g><clipPath id="bc2"><path d="M384.0 97.0 L413.5 98.6 L440.9 103.4 L467.3 111.3 L492.9 122.3 L517.6 136.4 L541.3 153.3 L564.0 173.1 L585.5 195.6 L605.6 220.7 L624.3 248.2 L641.5 277.9 L656.8 309.6 L670.3 343.3 L681.7 378.6 L690.9 415.5 L697.8 454.0 L702.3 493.9 L704.0 537.0 L702.8 580.1 L699.4 620.0 L693.6 658.5 L685.6 695.4 L675.4 730.7 L663.0 764.4 L648.6 796.1 L632.3 825.8 L614.0 853.3 L594.1 878.4 L572.5 900.9 L549.4 920.7 L524.9 937.6 L499.2 951.7 L472.3 962.7 L444.4 970.6 L415.3 975.4 L384.0 977.0 L352.7 975.4 L323.6 970.6 L295.7 962.7 L268.8 951.7 L243.1 937.6 L218.6 920.7 L195.5 900.9 L173.9 878.4 L154.0 853.3 L135.7 825.8 L119.4 796.1 L105.0 764.4 L92.6 730.7 L82.4 695.4 L74.4 658.5 L68.6 620.0 L65.2 580.1 L64.0 537.0 L65.7 493.9 L70.2 454.0 L77.1 415.5 L86.3 378.6 L97.7 343.3 L111.2 309.6 L126.5 277.9 L143.7 248.2 L162.4 220.7 L182.5 195.6 L204.0 173.1 L226.7 153.3 L250.4 136.4 L275.1 122.3 L300.7 111.3 L327.1 103.4 L354.5 98.6Z"/></clipPath><g filter="url(#bl3)"><path d="M384.0 97.0 L413.5 98.6 L440.9 103.4 L467.3 111.3 L492.9 122.3 L517.6 136.4 L541.3 153.3 L564.0 173.1 L585.5 195.6 L605.6 220.7 L624.3 248.2 L641.5 277.9 L656.8 309.6 L670.3 343.3 L681.7 378.6 L690.9 415.5 L697.8 454.0 L702.3 493.9 L704.0 537.0 L702.8 580.1 L699.4 620.0 L693.6 658.5 L685.6 695.4 L675.4 730.7 L663.0 764.4 L648.6 796.1 L632.3 825.8 L614.0 853.3 L594.1 878.4 L572.5 900.9 L549.4 920.7 L524.9 937.6 L499.2 951.7 L472.3 962.7 L444.4 970.6 L415.3 975.4 L384.0 977.0 L352.7 975.4 L323.6 970.6 L295.7 962.7 L268.8 951.7 L243.1 937.6 L218.6 920.7 L195.5 900.9 L173.9 878.4 L154.0 853.3 L135.7 825.8 L119.4 796.1 L105.0 764.4 L92.6 730.7 L82.4 695.4 L74.4 658.5 L68.6 620.0 L65.2 580.1 L64.0 537.0 L65.7 493.9 L70.2 454.0 L77.1 415.5 L86.3 378.6 L97.7 343.3 L111.2 309.6 L126.5 277.9 L143.7 248.2 L162.4 220.7 L182.5 195.6 L204.0 173.1 L226.7 153.3 L250.4 136.4 L275.1 122.3 L300.7 111.3 L327.1 103.4 L354.5 98.6Z" fill="#fdfdfd"/></g><g clip-path="url(#bc2)"><g filter="url(#bl14)"><path d="M384.0 97.0 L413.5 98.6 L440.9 103.4 L467.3 111.3 L492.9 122.3 L517.6 136.4 L541.3 153.3 L564.0 173.1 L585.5 195.6 L605.6 220.7 L624.3 248.2 L641.5 277.9 L656.8 309.6 L670.3 343.3 L681.7 378.6 L690.9 415.5 L697.8 454.0 L702.3 493.9 L704.0 537.0 L702.8 580.1 L699.4 620.0 L693.6 658.5 L685.6 695.4 L675.4 730.7 L663.0 764.4 L648.6 796.1 L632.3 825.8 L614.0 853.3 L594.1 878.4 L572.5 900.9 L549.4 920.7 L524.9 937.6 L499.2 951.7 L472.3 962.7 L444.4 970.6 L415.3 975.4 L384.0 977.0 L352.7 975.4 L323.6 970.6 L295.7 962.7 L268.8 951.7 L243.1 937.6 L218.6 920.7 L195.5 900.9 L173.9 878.4 L154.0 853.3 L135.7 825.8 L119.4 796.1 L105.0 764.4 L92.6 730.7 L82.4 695.4 L74.4 658.5 L68.6 620.0 L65.2 580.1 L64.0 537.0 L65.7 493.9 L70.2 454.0 L77.1 415.5 L86.3 378.6 L97.7 343.3 L111.2 309.6 L126.5 277.9 L143.7 248.2 L162.4 220.7 L182.5 195.6 L204.0 173.1 L226.7 153.3 L250.4 136.4 L275.1 122.3 L300.7 111.3 L327.1 103.4 L354.5 98.6Z" fill="none" stroke="#c6c6c6" stroke-width="170"/></g><g filter="url(#bl5)"><path d="M384.0 97.0 L413.5 98.6 L440.9 103.4 L467.3 111.3 L492.9 122.3 L517.6 136.4 L541.3 153.3 L564.0 173.1 L585.5 195.6 L605.6 220.7 L624.3 248.2 L641.5 277.9 L656.8 309.6 L670.3 343.3 L681.7 378.6 L690.9 415.5 L697.8 454.0 L702.3 493.9 L704.0 537.0 L702.8 580.1 L699.4 620.0 L693.6 658.5 L685.6 695.4 L675.4 730.7 L663.0 764.4 L648.6 796.1 L632.3 825.8 L614.0 853.3 L594.1 878.4 L572.5 900.9 L549.4 920.7 L524.9 937.6 L499.2 951.7 L472.3 962.7 L444.4 970.6 L415.3 975.4 L384.0 977.0 L352.7 975.4 L323.6 970.6 L295.7 962.7 L268.8 951.7 L243.1 937.6 L218.6 920.7 L195.5 900.9 L173.9 878.4 L154.0 853.3 L135.7 825.8 L119.4 796.1 L105.0 764.4 L92.6 730.7 L82.4 695.4 L74.4 658.5 L68.6 620.0 L65.2 580.1 L64.0 537.0 L65.7 493.9 L70.2 454.0 L77.1 415.5 L86.3 378.6 L97.7 343.3 L111.2 309.6 L126.5 277.9 L143.7 248.2 L162.4 220.7 L182.5 195.6 L204.0 173.1 L226.7 153.3 L250.4 136.4 L275.1 122.3 L300.7 111.3 L327.1 103.4 L354.5 98.6Z" fill="none" stroke="#a4a4a4" stroke-width="16"/></g><g filter="url(#bl8)"><path d="M384 97 Q390 171 344 217" stroke="#a0a0a0" stroke-width="28" fill="none" stroke-linecap="round"/><path d="M413 99 Q395 166 358 184" stroke="#a0a0a0" stroke-width="15" fill="none" stroke-linecap="round"/><path d="M493 122 Q456 175 467 258" stroke="#a0a0a0" stroke-width="18" fill="none" stroke-linecap="round"/><path d="M564 173 Q526 211 501 217" stroke="#a0a0a0" stroke-width="14" fill="none" stroke-linecap="round"/><path d="M606 221 Q558 298 571 331" stroke="#a0a0a0" stroke-width="18" fill="none" stroke-linecap="round"/><path d="M657 310 Q595 358 572 429" stroke="#a0a0a0" stroke-width="18" fill="none" stroke-linecap="round"/><path d="M682 379 Q663 430 591 459" stroke="#a0a0a0" stroke-width="24" fill="none" stroke-linecap="round"/><path d="M698 454 Q638 453 620 504" stroke="#a0a0a0" stroke-width="21" fill="none" stroke-linecap="round"/><path d="M703 580 Q660 542 593 556" stroke="#a0a0a0" stroke-width="23" fill="none" stroke-linecap="round"/><path d="M694 658 Q641 666 591 648" stroke="#a0a0a0" stroke-width="13" fill="none" stroke-linecap="round"/><path d="M675 731 Q627 665 595 610" stroke="#a0a0a0" stroke-width="29" fill="none" stroke-linecap="round"/><path d="M632 826 Q572 764 570 757" stroke="#a0a0a0" stroke-width="17" fill="none" stroke-linecap="round"/><path d="M594 878 Q515 863 466 809" stroke="#a0a0a0" stroke-width="26" fill="none" stroke-linecap="round"/><path d="M525 938 Q524 872 490 853" stroke="#a0a0a0" stroke-width="23" fill="none" stroke-linecap="round"/><path d="M444 971 Q430 931 464 911" stroke="#a0a0a0" stroke-width="23" fill="none" stroke-linecap="round"/><path d="M384 977 Q407 925 425 896" stroke="#a0a0a0" stroke-width="22" fill="none" stroke-linecap="round"/><path d="M324 971 Q357 896 364 845" stroke="#a0a0a0" stroke-width="27" fill="none" stroke-linecap="round"/><path d="M269 952 Q295 925 318 910" stroke="#a0a0a0" stroke-width="19" fill="none" stroke-linecap="round"/><path d="M196 901 Q218 836 222 814" stroke="#a0a0a0" stroke-width="13" fill="none" stroke-linecap="round"/><path d="M154 853 Q201 816 190 771" stroke="#a0a0a0" stroke-width="16" fill="none" stroke-linecap="round"/><path d="M105 764 Q136 688 175 653" stroke="#a0a0a0" stroke-width="25" fill="none" stroke-linecap="round"/><path d="M82 695 Q153 732 182 711" stroke="#a0a0a0" stroke-width="26" fill="none" stroke-linecap="round"/><path d="M65 580 Q110 560 181 543" stroke="#a0a0a0" stroke-width="16" fill="none" stroke-linecap="round"/><path d="M64 537 Q112 566 198 542" stroke="#a0a0a0" stroke-width="22" fill="none" stroke-linecap="round"/><path d="M77 416 Q129 432 176 449" stroke="#a0a0a0" stroke-width="14" fill="none" stroke-linecap="round"/><path d="M111 310 Q166 372 201 403" stroke="#a0a0a0" stroke-width="23" fill="none" stroke-linecap="round"/><path d="M144 248 Q155 331 194 357" stroke="#a0a0a0" stroke-width="21" fill="none" stroke-linecap="round"/><path d="M204 173 Q261 199 275 229" stroke="#a0a0a0" stroke-width="20" fill="none" stroke-linecap="round"/><path d="M227 153 Q254 196 282 218" stroke="#a0a0a0" stroke-width="23" fill="none" stroke-linecap="round"/><path d="M301 111 Q319 161 298 229" stroke="#a0a0a0" stroke-width="17" fill="none" stroke-linecap="round"/></g><g filter="url(#bl8)"><path d="M384 257 Q353 213 355 141" stroke="#ffffff" stroke-width="43" fill="none" stroke-linecap="round"/><path d="M448 274 Q420 226 426 178" stroke="#ffffff" stroke-width="26" fill="none" stroke-linecap="round"/><path d="M531 360 Q562 336 603 317" stroke="#ffffff" stroke-width="34" fill="none" stroke-linecap="round"/><path d="M579 497 Q649 497 696 517" stroke="#ffffff" stroke-width="30" fill="none" stroke-linecap="round"/><path d="M582 572 Q614 552 660 548" stroke="#ffffff" stroke-width="37" fill="none" stroke-linecap="round"/><path d="M547 714 Q571 775 592 779" stroke="#ffffff" stroke-width="38" fill="none" stroke-linecap="round"/><path d="M498 785 Q540 826 537 883" stroke="#ffffff" stroke-width="32" fill="none" stroke-linecap="round"/><path d="M384 837 Q389 868 419 950" stroke="#ffffff" stroke-width="33" fill="none" stroke-linecap="round"/><path d="M285 798 Q286 825 246 892" stroke="#ffffff" stroke-width="37" fill="none" stroke-linecap="round"/><path d="M244 752 Q204 780 146 795" stroke="#ffffff" stroke-width="31" fill="none" stroke-linecap="round"/><path d="M192 622 Q129 668 92 662" stroke="#ffffff" stroke-width="43" fill="none" stroke-linecap="round"/><path d="M187 522 Q111 523 89 485" stroke="#ffffff" stroke-width="36" fill="none" stroke-linecap="round"/><path d="M226 380 Q205 341 175 275" stroke="#ffffff" stroke-width="32" fill="none" stroke-linecap="round"/><path d="M304 284 Q306 220 313 184" stroke="#ffffff" stroke-width="33" fill="none" stroke-linecap="round"/></g><g filter="url(#bl14)"><ellipse cx="384.0" cy="237.0" rx="34.0" ry="150.0" fill="#c8c8c8"/><ellipse cx="384.0" cy="807.0" rx="38.0" ry="175.0" fill="#c8c8c8"/></g><g filter="url(#bl5)"><path d="M384 102 V387 M384 972 V647" stroke="#8a8a8a" stroke-width="11" fill="none"/></g><g filter="url(#bl3)" transform="translate(0 0)"><path d="M300 345 C330 365 355 395 360 440 C340 430 315 395 298 360Z M450 345 C420 365 395 395 392 440 C412 430 435 395 452 360Z M250 660 C240 690 245 720 260 740 C270 715 275 690 280 665Z M500 660 C512 690 508 720 495 740 C485 715 478 690 472 665Z" fill="#3c3c3c"/></g></g></g>
</g>
<g clip-path="url(#sc3)">
<g transform="translate(345 258) scale(0.22836)"><g filter="url(#bl14)"><path d="M1080.0 21.0 L1117.6 22.9 L1152.5 28.6 L1186.2 38.1 L1218.7 51.3 L1250.0 68.0 L1280.0 88.3 L1308.5 112.0 L1335.4 138.9 L1360.5 168.9 L1383.7 201.7 L1404.8 237.2 L1423.6 275.2 L1440.0 315.4 L1453.7 357.7 L1464.8 401.8 L1472.9 447.7 L1478.1 495.5 L1480.0 547.0 L1478.6 598.5 L1474.2 646.3 L1467.0 692.2 L1457.0 736.3 L1444.2 778.6 L1428.8 818.8 L1410.8 856.8 L1390.3 892.3 L1367.5 925.1 L1342.6 955.1 L1315.6 982.0 L1286.7 1005.7 L1256.1 1026.0 L1224.0 1042.7 L1190.4 1055.9 L1155.5 1065.4 L1119.2 1071.1 L1080.0 1073.0 L1040.8 1071.1 L1004.5 1065.4 L969.6 1055.9 L936.0 1042.7 L903.9 1026.0 L873.3 1005.7 L844.4 982.0 L817.4 955.1 L792.5 925.1 L769.7 892.3 L749.2 856.8 L731.2 818.8 L715.8 778.6 L703.0 736.3 L693.0 692.2 L685.8 646.3 L681.4 598.5 L680.0 547.0 L681.9 495.5 L687.1 447.7 L695.2 401.8 L706.3 357.7 L720.0 315.4 L736.4 275.2 L755.2 237.2 L776.3 201.7 L799.5 168.9 L824.6 138.9 L851.5 112.0 L880.0 88.3 L910.0 68.0 L941.3 51.3 L973.8 38.1 L1007.5 28.6 L1042.4 22.9Z" fill="#7c7c7c"/></g><g filter="url(#bl5)"><path d="M1080.0 56.0 L1113.9 57.8 L1145.5 63.1 L1175.9 71.9 L1205.2 84.2 L1233.4 99.9 L1260.5 118.9 L1286.2 141.0 L1310.5 166.1 L1333.2 194.0 L1354.1 224.7 L1373.1 257.8 L1390.1 293.3 L1404.9 330.8 L1417.3 370.3 L1427.2 411.5 L1434.6 454.3 L1439.3 498.9 L1441.0 547.0 L1439.7 595.1 L1435.8 639.7 L1429.3 682.5 L1420.2 723.7 L1408.7 763.2 L1394.8 800.7 L1378.5 836.2 L1360.1 869.3 L1339.5 900.0 L1317.0 927.9 L1292.6 953.0 L1266.6 975.1 L1239.0 994.1 L1209.9 1009.8 L1179.6 1022.1 L1148.1 1030.9 L1115.3 1036.2 L1080.0 1038.0 L1044.7 1036.2 L1011.9 1030.9 L980.4 1022.1 L950.1 1009.8 L921.0 994.1 L893.4 975.1 L867.4 953.0 L843.0 927.9 L820.5 900.0 L799.9 869.3 L781.5 836.2 L765.2 800.7 L751.3 763.2 L739.8 723.7 L730.7 682.5 L724.2 639.7 L720.3 595.1 L719.0 547.0 L720.7 498.9 L725.4 454.3 L732.8 411.5 L742.7 370.3 L755.1 330.8 L769.9 293.3 L786.9 257.8 L805.9 224.7 L826.8 194.0 L849.5 166.1 L873.8 141.0 L899.5 118.9 L926.6 99.9 L954.8 84.2 L984.1 71.9 L1014.5 63.1 L1046.1 57.8Z" fill="none" stroke="#cdcdcd" stroke-width="34"/></g><g filter="url(#bl5)"><path d="M1080.0 74.0 L1111.8 75.7 L1141.3 80.8 L1169.8 89.3 L1197.4 101.1 L1223.9 116.1 L1249.3 134.3 L1273.6 155.5 L1296.5 179.6 L1318.0 206.4 L1337.8 235.8 L1355.9 267.6 L1372.0 301.6 L1386.1 337.6 L1398.1 375.5 L1407.6 415.0 L1414.7 456.1 L1419.3 498.9 L1421.0 545.0 L1419.8 591.1 L1416.1 633.9 L1409.9 675.0 L1401.4 714.5 L1390.5 752.4 L1377.3 788.4 L1362.0 822.4 L1344.6 854.2 L1325.1 883.6 L1303.9 910.4 L1280.8 934.5 L1256.2 955.7 L1230.1 973.9 L1202.7 988.9 L1174.1 1000.7 L1144.4 1009.2 L1113.4 1014.3 L1080.0 1016.0 L1046.6 1014.3 L1015.6 1009.2 L985.9 1000.7 L957.3 988.9 L929.9 973.9 L903.8 955.7 L879.2 934.5 L856.1 910.4 L834.9 883.6 L815.4 854.2 L798.0 822.4 L782.7 788.4 L769.5 752.4 L758.6 714.5 L750.1 675.0 L743.9 633.9 L740.2 591.1 L739.0 545.0 L740.7 498.9 L745.3 456.1 L752.4 415.0 L761.9 375.5 L773.9 337.6 L788.0 301.6 L804.1 267.6 L822.2 235.8 L842.0 206.4 L863.5 179.6 L886.4 155.5 L910.7 134.3 L936.1 116.1 L962.6 101.1 L990.2 89.3 L1018.7 80.8 L1048.2 75.7Z" fill="#1a1a1a"/></g><clipPath id="bc3"><path d="M1080.0 101.0 L1108.8 102.6 L1135.7 107.4 L1161.6 115.4 L1186.8 126.4 L1211.1 140.5 L1234.6 157.6 L1257.1 177.5 L1278.6 200.1 L1298.8 225.3 L1317.7 252.8 L1335.1 282.7 L1350.7 314.6 L1364.6 348.4 L1376.4 383.9 L1386.0 421.0 L1393.3 459.6 L1398.1 499.7 L1400.0 543.0 L1398.8 586.3 L1395.4 626.4 L1389.6 665.0 L1381.6 702.1 L1371.4 737.6 L1359.0 771.4 L1344.6 803.3 L1328.3 833.2 L1310.0 860.7 L1290.1 885.9 L1268.5 908.5 L1245.4 928.4 L1220.9 945.5 L1195.2 959.6 L1168.3 970.6 L1140.4 978.6 L1111.3 983.4 L1080.0 985.0 L1048.7 983.4 L1019.6 978.6 L991.7 970.6 L964.8 959.6 L939.1 945.5 L914.6 928.4 L891.5 908.5 L869.9 885.9 L850.0 860.7 L831.7 833.2 L815.4 803.3 L801.0 771.4 L788.6 737.6 L778.4 702.1 L770.4 665.0 L764.6 626.4 L761.2 586.3 L760.0 543.0 L761.9 499.7 L766.7 459.6 L774.0 421.0 L783.6 383.9 L795.4 348.4 L809.3 314.6 L824.9 282.7 L842.3 252.8 L861.2 225.3 L881.4 200.1 L902.9 177.5 L925.4 157.6 L948.9 140.5 L973.2 126.4 L998.4 115.4 L1024.3 107.4 L1051.2 102.6Z"/></clipPath><g filter="url(#bl3)"><path d="M1080.0 101.0 L1108.8 102.6 L1135.7 107.4 L1161.6 115.4 L1186.8 126.4 L1211.1 140.5 L1234.6 157.6 L1257.1 177.5 L1278.6 200.1 L1298.8 225.3 L1317.7 252.8 L1335.1 282.7 L1350.7 314.6 L1364.6 348.4 L1376.4 383.9 L1386.0 421.0 L1393.3 459.6 L1398.1 499.7 L1400.0 543.0 L1398.8 586.3 L1395.4 626.4 L1389.6 665.0 L1381.6 702.1 L1371.4 737.6 L1359.0 771.4 L1344.6 803.3 L1328.3 833.2 L1310.0 860.7 L1290.1 885.9 L1268.5 908.5 L1245.4 928.4 L1220.9 945.5 L1195.2 959.6 L1168.3 970.6 L1140.4 978.6 L1111.3 983.4 L1080.0 985.0 L1048.7 983.4 L1019.6 978.6 L991.7 970.6 L964.8 959.6 L939.1 945.5 L914.6 928.4 L891.5 908.5 L869.9 885.9 L850.0 860.7 L831.7 833.2 L815.4 803.3 L801.0 771.4 L788.6 737.6 L778.4 702.1 L770.4 665.0 L764.6 626.4 L761.2 586.3 L760.0 543.0 L761.9 499.7 L766.7 459.6 L774.0 421.0 L783.6 383.9 L795.4 348.4 L809.3 314.6 L824.9 282.7 L842.3 252.8 L861.2 225.3 L881.4 200.1 L902.9 177.5 L925.4 157.6 L948.9 140.5 L973.2 126.4 L998.4 115.4 L1024.3 107.4 L1051.2 102.6Z" fill="#fbfbfb"/></g><g clip-path="url(#bc3)"><g filter="url(#bl14)"><path d="M1080.0 101.0 L1108.8 102.6 L1135.7 107.4 L1161.6 115.4 L1186.8 126.4 L1211.1 140.5 L1234.6 157.6 L1257.1 177.5 L1278.6 200.1 L1298.8 225.3 L1317.7 252.8 L1335.1 282.7 L1350.7 314.6 L1364.6 348.4 L1376.4 383.9 L1386.0 421.0 L1393.3 459.6 L1398.1 499.7 L1400.0 543.0 L1398.8 586.3 L1395.4 626.4 L1389.6 665.0 L1381.6 702.1 L1371.4 737.6 L1359.0 771.4 L1344.6 803.3 L1328.3 833.2 L1310.0 860.7 L1290.1 885.9 L1268.5 908.5 L1245.4 928.4 L1220.9 945.5 L1195.2 959.6 L1168.3 970.6 L1140.4 978.6 L1111.3 983.4 L1080.0 985.0 L1048.7 983.4 L1019.6 978.6 L991.7 970.6 L964.8 959.6 L939.1 945.5 L914.6 928.4 L891.5 908.5 L869.9 885.9 L850.0 860.7 L831.7 833.2 L815.4 803.3 L801.0 771.4 L788.6 737.6 L778.4 702.1 L770.4 665.0 L764.6 626.4 L761.2 586.3 L760.0 543.0 L761.9 499.7 L766.7 459.6 L774.0 421.0 L783.6 383.9 L795.4 348.4 L809.3 314.6 L824.9 282.7 L842.3 252.8 L861.2 225.3 L881.4 200.1 L902.9 177.5 L925.4 157.6 L948.9 140.5 L973.2 126.4 L998.4 115.4 L1024.3 107.4 L1051.2 102.6Z" fill="none" stroke="#c6c6c6" stroke-width="170"/></g><g filter="url(#bl5)"><path d="M1080.0 101.0 L1108.8 102.6 L1135.7 107.4 L1161.6 115.4 L1186.8 126.4 L1211.1 140.5 L1234.6 157.6 L1257.1 177.5 L1278.6 200.1 L1298.8 225.3 L1317.7 252.8 L1335.1 282.7 L1350.7 314.6 L1364.6 348.4 L1376.4 383.9 L1386.0 421.0 L1393.3 459.6 L1398.1 499.7 L1400.0 543.0 L1398.8 586.3 L1395.4 626.4 L1389.6 665.0 L1381.6 702.1 L1371.4 737.6 L1359.0 771.4 L1344.6 803.3 L1328.3 833.2 L1310.0 860.7 L1290.1 885.9 L1268.5 908.5 L1245.4 928.4 L1220.9 945.5 L1195.2 959.6 L1168.3 970.6 L1140.4 978.6 L1111.3 983.4 L1080.0 985.0 L1048.7 983.4 L1019.6 978.6 L991.7 970.6 L964.8 959.6 L939.1 945.5 L914.6 928.4 L891.5 908.5 L869.9 885.9 L850.0 860.7 L831.7 833.2 L815.4 803.3 L801.0 771.4 L788.6 737.6 L778.4 702.1 L770.4 665.0 L764.6 626.4 L761.2 586.3 L760.0 543.0 L761.9 499.7 L766.7 459.6 L774.0 421.0 L783.6 383.9 L795.4 348.4 L809.3 314.6 L824.9 282.7 L842.3 252.8 L861.2 225.3 L881.4 200.1 L902.9 177.5 L925.4 157.6 L948.9 140.5 L973.2 126.4 L998.4 115.4 L1024.3 107.4 L1051.2 102.6Z" fill="none" stroke="#a4a4a4" stroke-width="16"/></g><g filter="url(#bl8)"><path d="M1080 101 Q1067 138 1082 235" stroke="#a0a0a0" stroke-width="30" fill="none" stroke-linecap="round"/><path d="M1136 107 Q1151 158 1133 236" stroke="#a0a0a0" stroke-width="18" fill="none" stroke-linecap="round"/><path d="M1211 141 Q1202 166 1171 229" stroke="#a0a0a0" stroke-width="29" fill="none" stroke-linecap="round"/><path d="M1257 177 Q1222 200 1174 272" stroke="#a0a0a0" stroke-width="25" fill="none" stroke-linecap="round"/><path d="M1299 225 Q1288 239 1240 260" stroke="#a0a0a0" stroke-width="15" fill="none" stroke-linecap="round"/><path d="M1351 315 Q1267 304 1232 347" stroke="#a0a0a0" stroke-width="18" fill="none" stroke-linecap="round"/><path d="M1376 384 Q1331 395 1247 442" stroke="#a0a0a0" stroke-width="30" fill="none" stroke-linecap="round"/><path d="M1393 460 Q1361 424 1271 444" stroke="#a0a0a0" stroke-width="23" fill="none" stroke-linecap="round"/><path d="M1400 543 Q1328 551 1303 558" stroke="#a0a0a0" stroke-width="28" fill="none" stroke-linecap="round"/><path d="M1390 665 Q1345 655 1275 659" stroke="#a0a0a0" stroke-width="19" fill="none" stroke-linecap="round"/><path d="M1371 738 Q1359 678 1322 676" stroke="#a0a0a0" stroke-width="17" fill="none" stroke-linecap="round"/><path d="M1345 803 Q1332 751 1305 723" stroke="#a0a0a0" stroke-width="24" fill="none" stroke-linecap="round"/><path d="M1290 886 Q1270 828 1252 809" stroke="#a0a0a0" stroke-width="24" fill="none" stroke-linecap="round"/><path d="M1245 928 Q1213 885 1230 830" stroke="#a0a0a0" stroke-width="26" fill="none" stroke-linecap="round"/><path d="M1168 971 Q1174 902 1178 836" stroke="#a0a0a0" stroke-width="25" fill="none" stroke-linecap="round"/><path d="M1080 985 Q1085 960 1095 909" stroke="#a0a0a0" stroke-width="17" fill="none" stroke-linecap="round"/><path d="M1049 983 Q1057 911 1029 877" stroke="#a0a0a0" stroke-width="28" fill="none" stroke-linecap="round"/><path d="M965 960 Q964 911 974 816" stroke="#a0a0a0" stroke-width="27" fill="none" stroke-linecap="round"/><path d="M915 928 Q916 875 961 837" stroke="#a0a0a0" stroke-width="21" fill="none" stroke-linecap="round"/><path d="M850 861 Q858 843 907 776" stroke="#a0a0a0" stroke-width="24" fill="none" stroke-linecap="round"/><path d="M801 771 Q868 768 878 737" stroke="#a0a0a0" stroke-width="17" fill="none" stroke-linecap="round"/><path d="M778 702 Q801 641 829 632" stroke="#a0a0a0" stroke-width="12" fill="none" stroke-linecap="round"/><path d="M765 626 Q813 655 876 626" stroke="#a0a0a0" stroke-width="27" fill="none" stroke-linecap="round"/><path d="M762 500 Q821 499 826 485" stroke="#a0a0a0" stroke-width="25" fill="none" stroke-linecap="round"/><path d="M774 421 Q811 427 899 465" stroke="#a0a0a0" stroke-width="23" fill="none" stroke-linecap="round"/><path d="M795 348 Q831 349 854 392" stroke="#a0a0a0" stroke-width="15" fill="none" stroke-linecap="round"/><path d="M842 253 Q879 249 889 296" stroke="#a0a0a0" stroke-width="12" fill="none" stroke-linecap="round"/><path d="M903 177 Q884 220 916 248" stroke="#a0a0a0" stroke-width="20" fill="none" stroke-linecap="round"/><path d="M949 141 Q990 222 1009 268" stroke="#a0a0a0" stroke-width="16" fill="none" stroke-linecap="round"/><path d="M998 115 Q988 149 980 190" stroke="#a0a0a0" stroke-width="29" fill="none" stroke-linecap="round"/></g><g filter="url(#bl8)"><path d="M1064 262 Q1043 235 1026 186" stroke="#ffffff" stroke-width="29" fill="none" stroke-linecap="round"/><path d="M1158 289 Q1146 234 1143 195" stroke="#ffffff" stroke-width="43" fill="none" stroke-linecap="round"/><path d="M1237 386 Q1236 336 1288 334" stroke="#ffffff" stroke-width="29" fill="none" stroke-linecap="round"/><path d="M1270 477 Q1325 479 1381 448" stroke="#ffffff" stroke-width="42" fill="none" stroke-linecap="round"/><path d="M1278 578 Q1335 541 1382 542" stroke="#ffffff" stroke-width="27" fill="none" stroke-linecap="round"/><path d="M1232 741 Q1251 766 1267 840" stroke="#ffffff" stroke-width="44" fill="none" stroke-linecap="round"/><path d="M1164 817 Q1217 844 1229 875" stroke="#ffffff" stroke-width="36" fill="none" stroke-linecap="round"/><path d="M1097 844 Q1081 861 1109 930" stroke="#ffffff" stroke-width="36" fill="none" stroke-linecap="round"/><path d="M1029 835 Q1007 886 1022 925" stroke="#ffffff" stroke-width="43" fill="none" stroke-linecap="round"/><path d="M928 741 Q893 751 830 778" stroke="#ffffff" stroke-width="39" fill="none" stroke-linecap="round"/><path d="M894 653 Q835 642 826 676" stroke="#ffffff" stroke-width="28" fill="none" stroke-linecap="round"/><path d="M890 477 Q840 475 812 449" stroke="#ffffff" stroke-width="39" fill="none" stroke-linecap="round"/><path d="M923 386 Q889 407 806 370" stroke="#ffffff" stroke-width="29" fill="none" stroke-linecap="round"/><path d="M973 314 Q979 273 946 198" stroke="#ffffff" stroke-width="29" fill="none" stroke-linecap="round"/></g><g filter="url(#bl14)"><ellipse cx="1080.0" cy="241.0" rx="34.0" ry="150.0" fill="#c8c8c8"/><ellipse cx="1080.0" cy="815.0" rx="38.0" ry="175.0" fill="#c8c8c8"/></g><g filter="url(#bl5)"><path d="M1080 106 V391 M1080 980 V655" stroke="#8a8a8a" stroke-width="11" fill="none"/></g><g filter="url(#bl3)" transform="translate(0 0)"><path d="M945 640 C930 680 935 720 950 750 C960 720 965 690 970 650Z M1215 640 C1230 680 1225 720 1210 750 C1200 720 1195 690 1190 650Z M1060 620 C1070 660 1090 660 1100 620Z" fill="#3c3c3c"/></g></g></g>
</g>
<g clip-path="url(#sc4)">
<g transform="translate(665 258) scale(0.22836)"><g filter="url(#bl14)"><path d="M377.0 26.0 L414.0 27.9 L448.4 33.5 L481.6 42.9 L513.8 56.0 L544.8 72.6 L574.6 92.7 L603.1 116.1 L630.1 142.8 L655.4 172.5 L678.9 205.0 L700.4 240.2 L719.7 277.8 L736.6 317.6 L751.0 359.5 L762.6 403.2 L771.2 448.7 L776.8 496.0 L779.0 547.0 L777.5 598.0 L773.2 645.3 L765.9 690.8 L755.9 734.5 L743.0 776.4 L727.5 816.2 L709.4 853.8 L688.9 889.0 L666.0 921.5 L640.9 951.2 L613.8 977.9 L584.7 1001.3 L554.0 1021.4 L521.7 1038.0 L488.0 1051.1 L452.9 1060.5 L416.4 1066.1 L377.0 1068.0 L337.6 1066.1 L301.1 1060.5 L266.0 1051.1 L232.3 1038.0 L200.0 1021.4 L169.3 1001.3 L140.2 977.9 L113.1 951.2 L88.0 921.5 L65.1 889.0 L44.6 853.8 L26.5 816.2 L11.0 776.4 L-1.9 734.5 L-11.9 690.8 L-19.2 645.3 L-23.5 598.0 L-25.0 547.0 L-22.8 496.0 L-17.2 448.7 L-8.6 403.2 L3.0 359.5 L17.4 317.6 L34.3 277.8 L53.6 240.2 L75.1 205.0 L98.6 172.5 L123.9 142.8 L150.9 116.1 L179.4 92.7 L209.2 72.6 L240.2 56.0 L272.4 42.9 L305.6 33.5 L340.0 27.9Z" fill="#7c7c7c"/></g><g filter="url(#bl5)"><path d="M377.0 61.0 L410.4 62.8 L441.5 68.0 L471.5 76.8 L500.5 89.0 L528.5 104.5 L555.4 123.2 L581.1 145.1 L605.5 169.9 L628.4 197.6 L649.6 228.0 L669.0 260.8 L686.5 295.8 L701.7 333.0 L714.7 372.1 L725.2 412.9 L733.0 455.3 L738.0 499.4 L740.0 547.0 L738.7 594.6 L734.7 638.7 L728.2 681.1 L719.1 721.9 L707.5 761.0 L693.5 798.2 L677.2 833.2 L658.6 866.0 L638.0 896.4 L615.3 924.1 L590.8 948.9 L564.6 970.8 L536.8 989.5 L507.7 1005.0 L477.2 1017.2 L445.5 1026.0 L412.5 1031.2 L377.0 1033.0 L341.5 1031.2 L308.5 1026.0 L276.8 1017.2 L246.3 1005.0 L217.2 989.5 L189.4 970.8 L163.2 948.9 L138.7 924.1 L116.0 896.4 L95.4 866.0 L76.8 833.2 L60.5 798.2 L46.5 761.0 L34.9 721.9 L25.8 681.1 L19.3 638.7 L15.3 594.6 L14.0 547.0 L16.0 499.4 L21.0 455.3 L28.8 412.9 L39.3 372.1 L52.3 333.0 L67.5 295.8 L85.0 260.8 L104.4 228.0 L125.6 197.6 L148.5 169.9 L172.9 145.1 L198.6 123.2 L225.5 104.5 L253.5 89.0 L282.5 76.8 L312.5 68.0 L343.6 62.8Z" fill="none" stroke="#cdcdcd" stroke-width="34"/></g><g filter="url(#bl5)"><path d="M377.0 79.0 L408.2 80.7 L437.2 85.7 L465.2 94.1 L492.3 105.8 L518.6 120.7 L543.9 138.7 L568.1 159.6 L591.1 183.5 L612.8 210.0 L632.9 239.1 L651.4 270.5 L668.1 304.2 L682.8 339.8 L695.2 377.3 L705.4 416.4 L713.0 457.0 L718.0 499.4 L720.0 545.0 L718.8 590.6 L715.0 633.0 L708.9 673.6 L700.3 712.7 L689.3 750.2 L676.1 785.8 L660.7 819.5 L643.1 850.9 L623.6 880.0 L602.2 906.5 L579.0 930.4 L554.3 951.3 L528.0 969.3 L500.5 984.2 L471.7 995.9 L441.7 1004.3 L410.6 1009.3 L377.0 1011.0 L343.4 1009.3 L312.3 1004.3 L282.3 995.9 L253.5 984.2 L226.0 969.3 L199.7 951.3 L175.0 930.4 L151.8 906.5 L130.4 880.0 L110.9 850.9 L93.3 819.5 L77.9 785.8 L64.7 750.2 L53.7 712.7 L45.1 673.6 L39.0 633.0 L35.2 590.6 L34.0 545.0 L36.0 499.4 L41.0 457.0 L48.6 416.4 L58.8 377.3 L71.2 339.8 L85.9 304.2 L102.6 270.5 L121.1 239.1 L141.2 210.0 L162.9 183.5 L185.9 159.6 L210.1 138.7 L235.4 120.7 L261.7 105.8 L288.8 94.1 L316.8 85.7 L345.8 80.7Z" fill="#1a1a1a"/></g><clipPath id="bc4"><path d="M377.0 106.0 L404.8 107.6 L430.6 112.3 L455.7 120.2 L480.2 131.1 L504.0 145.1 L527.1 161.9 L549.5 181.6 L571.0 204.0 L591.5 228.9 L610.9 256.1 L628.8 285.6 L645.3 317.2 L659.9 350.6 L672.6 385.7 L683.1 422.4 L691.2 460.5 L696.7 500.2 L699.0 543.0 L697.8 585.8 L694.3 625.5 L688.5 663.6 L680.5 700.3 L670.2 735.4 L657.8 768.8 L643.3 800.4 L626.8 829.9 L608.5 857.1 L588.4 882.0 L566.6 904.4 L543.4 924.1 L518.8 940.9 L492.9 954.9 L465.9 965.8 L437.8 973.7 L408.5 978.4 L377.0 980.0 L345.5 978.4 L316.2 973.7 L288.1 965.8 L261.1 954.9 L235.2 940.9 L210.6 924.1 L187.4 904.4 L165.6 882.0 L145.5 857.1 L127.2 829.9 L110.7 800.4 L96.2 768.8 L83.8 735.4 L73.5 700.3 L65.5 663.6 L59.7 625.5 L56.2 585.8 L55.0 543.0 L57.3 500.2 L62.8 460.5 L70.9 422.4 L81.4 385.7 L94.1 350.6 L108.7 317.2 L125.2 285.6 L143.1 256.1 L162.5 228.9 L183.0 204.0 L204.5 181.6 L226.9 161.9 L250.0 145.1 L273.8 131.1 L298.3 120.2 L323.4 112.3 L349.2 107.6Z"/></clipPath><g filter="url(#bl3)"><path d="M377.0 106.0 L404.8 107.6 L430.6 112.3 L455.7 120.2 L480.2 131.1 L504.0 145.1 L527.1 161.9 L549.5 181.6 L571.0 204.0 L591.5 228.9 L610.9 256.1 L628.8 285.6 L645.3 317.2 L659.9 350.6 L672.6 385.7 L683.1 422.4 L691.2 460.5 L696.7 500.2 L699.0 543.0 L697.8 585.8 L694.3 625.5 L688.5 663.6 L680.5 700.3 L670.2 735.4 L657.8 768.8 L643.3 800.4 L626.8 829.9 L608.5 857.1 L588.4 882.0 L566.6 904.4 L543.4 924.1 L518.8 940.9 L492.9 954.9 L465.9 965.8 L437.8 973.7 L408.5 978.4 L377.0 980.0 L345.5 978.4 L316.2 973.7 L288.1 965.8 L261.1 954.9 L235.2 940.9 L210.6 924.1 L187.4 904.4 L165.6 882.0 L145.5 857.1 L127.2 829.9 L110.7 800.4 L96.2 768.8 L83.8 735.4 L73.5 700.3 L65.5 663.6 L59.7 625.5 L56.2 585.8 L55.0 543.0 L57.3 500.2 L62.8 460.5 L70.9 422.4 L81.4 385.7 L94.1 350.6 L108.7 317.2 L125.2 285.6 L143.1 256.1 L162.5 228.9 L183.0 204.0 L204.5 181.6 L226.9 161.9 L250.0 145.1 L273.8 131.1 L298.3 120.2 L323.4 112.3 L349.2 107.6Z" fill="#f2f2f2"/></g><g clip-path="url(#bc4)"><g filter="url(#bl14)"><path d="M377.0 106.0 L404.8 107.6 L430.6 112.3 L455.7 120.2 L480.2 131.1 L504.0 145.1 L527.1 161.9 L549.5 181.6 L571.0 204.0 L591.5 228.9 L610.9 256.1 L628.8 285.6 L645.3 317.2 L659.9 350.6 L672.6 385.7 L683.1 422.4 L691.2 460.5 L696.7 500.2 L699.0 543.0 L697.8 585.8 L694.3 625.5 L688.5 663.6 L680.5 700.3 L670.2 735.4 L657.8 768.8 L643.3 800.4 L626.8 829.9 L608.5 857.1 L588.4 882.0 L566.6 904.4 L543.4 924.1 L518.8 940.9 L492.9 954.9 L465.9 965.8 L437.8 973.7 L408.5 978.4 L377.0 980.0 L345.5 978.4 L316.2 973.7 L288.1 965.8 L261.1 954.9 L235.2 940.9 L210.6 924.1 L187.4 904.4 L165.6 882.0 L145.5 857.1 L127.2 829.9 L110.7 800.4 L96.2 768.8 L83.8 735.4 L73.5 700.3 L65.5 663.6 L59.7 625.5 L56.2 585.8 L55.0 543.0 L57.3 500.2 L62.8 460.5 L70.9 422.4 L81.4 385.7 L94.1 350.6 L108.7 317.2 L125.2 285.6 L143.1 256.1 L162.5 228.9 L183.0 204.0 L204.5 181.6 L226.9 161.9 L250.0 145.1 L273.8 131.1 L298.3 120.2 L323.4 112.3 L349.2 107.6Z" fill="none" stroke="#c6c6c6" stroke-width="170"/></g><g filter="url(#bl5)"><path d="M377.0 106.0 L404.8 107.6 L430.6 112.3 L455.7 120.2 L480.2 131.1 L504.0 145.1 L527.1 161.9 L549.5 181.6 L571.0 204.0 L591.5 228.9 L610.9 256.1 L628.8 285.6 L645.3 317.2 L659.9 350.6 L672.6 385.7 L683.1 422.4 L691.2 460.5 L696.7 500.2 L699.0 543.0 L697.8 585.8 L694.3 625.5 L688.5 663.6 L680.5 700.3 L670.2 735.4 L657.8 768.8 L643.3 800.4 L626.8 829.9 L608.5 857.1 L588.4 882.0 L566.6 904.4 L543.4 924.1 L518.8 940.9 L492.9 954.9 L465.9 965.8 L437.8 973.7 L408.5 978.4 L377.0 980.0 L345.5 978.4 L316.2 973.7 L288.1 965.8 L261.1 954.9 L235.2 940.9 L210.6 924.1 L187.4 904.4 L165.6 882.0 L145.5 857.1 L127.2 829.9 L110.7 800.4 L96.2 768.8 L83.8 735.4 L73.5 700.3 L65.5 663.6 L59.7 625.5 L56.2 585.8 L55.0 543.0 L57.3 500.2 L62.8 460.5 L70.9 422.4 L81.4 385.7 L94.1 350.6 L108.7 317.2 L125.2 285.6 L143.1 256.1 L162.5 228.9 L183.0 204.0 L204.5 181.6 L226.9 161.9 L250.0 145.1 L273.8 131.1 L298.3 120.2 L323.4 112.3 L349.2 107.6Z" fill="none" stroke="#a4a4a4" stroke-width="16"/></g><g filter="url(#bl8)"><path d="M377 106 Q345 144 365 179" stroke="#a0a0a0" stroke-width="23" fill="none" stroke-linecap="round"/><path d="M431 112 Q417 177 453 252" stroke="#a0a0a0" stroke-width="19" fill="none" stroke-linecap="round"/><path d="M480 131 Q427 153 420 209" stroke="#a0a0a0" stroke-width="30" fill="none" stroke-linecap="round"/><path d="M550 182 Q555 205 503 284" stroke="#a0a0a0" stroke-width="16" fill="none" stroke-linecap="round"/><path d="M592 229 Q570 283 571 299" stroke="#a0a0a0" stroke-width="17" fill="none" stroke-linecap="round"/><path d="M629 286 Q576 346 571 381" stroke="#a0a0a0" stroke-width="30" fill="none" stroke-linecap="round"/><path d="M660 351 Q618 351 585 374" stroke="#a0a0a0" stroke-width="30" fill="none" stroke-linecap="round"/><path d="M697 500 Q635 534 611 535" stroke="#a0a0a0" stroke-width="14" fill="none" stroke-linecap="round"/><path d="M698 586 Q665 546 605 533" stroke="#a0a0a0" stroke-width="14" fill="none" stroke-linecap="round"/><path d="M689 664 Q627 636 607 610" stroke="#a0a0a0" stroke-width="13" fill="none" stroke-linecap="round"/><path d="M658 769 Q648 768 604 729" stroke="#a0a0a0" stroke-width="22" fill="none" stroke-linecap="round"/><path d="M627 830 Q586 808 550 746" stroke="#a0a0a0" stroke-width="20" fill="none" stroke-linecap="round"/><path d="M588 882 Q546 866 479 833" stroke="#a0a0a0" stroke-width="26" fill="none" stroke-linecap="round"/><path d="M543 924 Q500 877 514 834" stroke="#a0a0a0" stroke-width="17" fill="none" stroke-linecap="round"/><path d="M466 966 Q425 936 410 878" stroke="#a0a0a0" stroke-width="24" fill="none" stroke-linecap="round"/><path d="M409 978 Q369 922 336 861" stroke="#a0a0a0" stroke-width="16" fill="none" stroke-linecap="round"/><path d="M316 974 Q306 896 307 836" stroke="#a0a0a0" stroke-width="24" fill="none" stroke-linecap="round"/><path d="M235 941 Q221 888 240 867" stroke="#a0a0a0" stroke-width="27" fill="none" stroke-linecap="round"/><path d="M187 904 Q179 870 213 832" stroke="#a0a0a0" stroke-width="30" fill="none" stroke-linecap="round"/><path d="M146 857 Q205 852 210 827" stroke="#a0a0a0" stroke-width="13" fill="none" stroke-linecap="round"/><path d="M111 800 Q190 793 247 778" stroke="#a0a0a0" stroke-width="24" fill="none" stroke-linecap="round"/><path d="M74 700 Q81 666 141 683" stroke="#a0a0a0" stroke-width="18" fill="none" stroke-linecap="round"/><path d="M60 625 Q71 626 129 619" stroke="#a0a0a0" stroke-width="29" fill="none" stroke-linecap="round"/><path d="M55 543 Q118 527 135 497" stroke="#a0a0a0" stroke-width="16" fill="none" stroke-linecap="round"/><path d="M71 422 Q136 429 204 482" stroke="#a0a0a0" stroke-width="27" fill="none" stroke-linecap="round"/><path d="M109 317 Q127 321 194 373" stroke="#a0a0a0" stroke-width="22" fill="none" stroke-linecap="round"/><path d="M143 256 Q173 281 200 342" stroke="#a0a0a0" stroke-width="28" fill="none" stroke-linecap="round"/><path d="M183 204 Q208 252 203 324" stroke="#a0a0a0" stroke-width="14" fill="none" stroke-linecap="round"/><path d="M250 145 Q251 198 292 217" stroke="#a0a0a0" stroke-width="29" fill="none" stroke-linecap="round"/><path d="M298 120 Q309 190 307 225" stroke="#a0a0a0" stroke-width="18" fill="none" stroke-linecap="round"/></g><g filter="url(#bl8)"><path d="M377 265 Q376 205 413 179" stroke="#ffffff" stroke-width="26" fill="none" stroke-linecap="round"/><path d="M438 282 Q447 248 424 192" stroke="#ffffff" stroke-width="35" fill="none" stroke-linecap="round"/><path d="M520 368 Q564 318 585 290" stroke="#ffffff" stroke-width="28" fill="none" stroke-linecap="round"/><path d="M567 478 Q610 452 652 415" stroke="#ffffff" stroke-width="34" fill="none" stroke-linecap="round"/><path d="M570 628 Q649 626 672 680" stroke="#ffffff" stroke-width="38" fill="none" stroke-linecap="round"/><path d="M550 697 Q574 725 642 724" stroke="#ffffff" stroke-width="27" fill="none" stroke-linecap="round"/><path d="M492 789 Q516 838 515 857" stroke="#ffffff" stroke-width="36" fill="none" stroke-linecap="round"/><path d="M394 840 Q418 867 406 936" stroke="#ffffff" stroke-width="41" fill="none" stroke-linecap="round"/><path d="M293 814 Q262 867 249 882" stroke="#ffffff" stroke-width="27" fill="none" stroke-linecap="round"/><path d="M236 757 Q187 790 129 810" stroke="#ffffff" stroke-width="43" fill="none" stroke-linecap="round"/><path d="M184 628 Q135 621 122 661" stroke="#ffffff" stroke-width="36" fill="none" stroke-linecap="round"/><path d="M179 528 Q157 527 75 496" stroke="#ffffff" stroke-width="41" fill="none" stroke-linecap="round"/><path d="M211 409 Q190 379 129 335" stroke="#ffffff" stroke-width="35" fill="none" stroke-linecap="round"/><path d="M301 292 Q254 233 215 213" stroke="#ffffff" stroke-width="42" fill="none" stroke-linecap="round"/></g><g filter="url(#bl14)"><ellipse cx="377.0" cy="246.0" rx="34.0" ry="150.0" fill="#c8c8c8"/><ellipse cx="377.0" cy="810.0" rx="38.0" ry="175.0" fill="#c8c8c8"/></g><g filter="url(#bl5)"><path d="M377 111 V396 M377 975 V650" stroke="#8a8a8a" stroke-width="11" fill="none"/></g><g filter="url(#bl14)"><ellipse cx="227.0" cy="373.0" rx="110.0" ry="90.0" fill="#fff"/><ellipse cx="527.0" cy="373.0" rx="110.0" ry="90.0" fill="#fff"/><ellipse cx="147.0" cy="663.0" rx="50.0" ry="150.0" fill="#fff"/><ellipse cx="607.0" cy="663.0" rx="50.0" ry="150.0" fill="#fff"/></g></g></g>
</g>
<g clip-path="url(#sc5)">
<g transform="translate(665 258) scale(0.22836)"><g filter="url(#bl14)"><path d="M1077.0 30.0 L1112.7 31.9 L1145.9 37.5 L1178.0 46.9 L1209.1 60.0 L1239.4 76.6 L1268.6 96.7 L1296.6 120.1 L1323.4 146.8 L1348.8 176.5 L1372.5 209.0 L1394.3 244.2 L1414.1 281.8 L1431.6 321.6 L1446.7 363.5 L1459.0 407.2 L1468.3 452.7 L1474.5 500.0 L1477.0 551.0 L1475.6 602.0 L1471.2 649.3 L1464.0 694.8 L1454.0 738.5 L1441.2 780.4 L1425.8 820.2 L1407.8 857.8 L1387.3 893.0 L1364.5 925.5 L1339.6 955.2 L1312.6 981.9 L1283.7 1005.3 L1253.1 1025.4 L1221.0 1042.0 L1187.4 1055.1 L1152.5 1064.5 L1116.2 1070.1 L1077.0 1072.0 L1037.8 1070.1 L1001.5 1064.5 L966.6 1055.1 L933.0 1042.0 L900.9 1025.4 L870.3 1005.3 L841.4 981.9 L814.4 955.2 L789.5 925.5 L766.7 893.0 L746.2 857.8 L728.2 820.2 L712.8 780.4 L700.0 738.5 L690.0 694.8 L682.8 649.3 L678.4 602.0 L677.0 551.0 L679.5 500.0 L685.7 452.7 L695.0 407.2 L707.3 363.5 L722.4 321.6 L739.9 281.8 L759.7 244.2 L781.5 209.0 L805.2 176.5 L830.6 146.8 L857.4 120.1 L885.4 96.7 L914.6 76.6 L944.9 60.0 L976.0 46.9 L1008.1 37.5 L1041.3 31.9Z" fill="#7c7c7c"/></g><g filter="url(#bl5)"><path d="M1077.0 65.0 L1109.2 66.8 L1139.1 72.0 L1168.1 80.8 L1196.2 93.0 L1223.5 108.5 L1249.9 127.2 L1275.2 149.1 L1299.4 173.9 L1322.3 201.6 L1343.7 232.0 L1363.4 264.8 L1381.3 299.8 L1397.1 337.0 L1410.6 376.1 L1421.7 416.9 L1430.1 459.3 L1435.7 503.4 L1438.0 551.0 L1436.7 598.6 L1432.8 642.7 L1426.3 685.1 L1417.2 725.9 L1405.7 765.0 L1391.8 802.2 L1375.5 837.2 L1357.1 870.0 L1336.5 900.4 L1314.0 928.1 L1289.6 952.9 L1263.6 974.8 L1236.0 993.5 L1206.9 1009.0 L1176.6 1021.2 L1145.1 1030.0 L1112.3 1035.2 L1077.0 1037.0 L1041.7 1035.2 L1008.9 1030.0 L977.4 1021.2 L947.1 1009.0 L918.0 993.5 L890.4 974.8 L864.4 952.9 L840.0 928.1 L817.5 900.4 L796.9 870.0 L778.5 837.2 L762.2 802.2 L748.3 765.0 L736.8 725.9 L727.7 685.1 L721.2 642.7 L717.3 598.6 L716.0 551.0 L718.3 503.4 L723.9 459.3 L732.3 416.9 L743.4 376.1 L756.9 337.0 L772.7 299.8 L790.6 264.8 L810.3 232.0 L831.7 201.6 L854.6 173.9 L878.8 149.1 L904.1 127.2 L930.5 108.5 L957.8 93.0 L985.9 80.8 L1014.9 72.0 L1044.8 66.8Z" fill="none" stroke="#cdcdcd" stroke-width="34"/></g><g filter="url(#bl5)"><path d="M1077.0 83.0 L1106.8 84.7 L1134.6 89.7 L1161.5 98.1 L1187.6 109.8 L1213.1 124.7 L1237.7 142.7 L1261.5 163.6 L1284.3 187.5 L1306.0 214.0 L1326.4 243.1 L1345.2 274.5 L1362.4 308.2 L1377.7 343.8 L1390.9 381.3 L1401.8 420.4 L1410.1 461.0 L1415.6 503.4 L1418.0 549.0 L1416.8 594.6 L1413.1 637.0 L1406.9 677.6 L1398.4 716.7 L1387.5 754.2 L1374.3 789.8 L1359.0 823.5 L1341.6 854.9 L1322.1 884.0 L1300.9 910.5 L1277.8 934.4 L1253.2 955.3 L1227.1 973.3 L1199.7 988.2 L1171.1 999.9 L1141.4 1008.3 L1110.4 1013.3 L1077.0 1015.0 L1043.6 1013.3 L1012.6 1008.3 L982.9 999.9 L954.3 988.2 L926.9 973.3 L900.8 955.3 L876.2 934.4 L853.1 910.5 L831.9 884.0 L812.4 854.9 L795.0 823.5 L779.7 789.8 L766.5 754.2 L755.6 716.7 L747.1 677.6 L740.9 637.0 L737.2 594.6 L736.0 549.0 L738.4 503.4 L743.9 461.0 L752.2 420.4 L763.1 381.3 L776.3 343.8 L791.6 308.2 L808.8 274.5 L827.6 243.1 L848.0 214.0 L869.7 187.5 L892.5 163.6 L916.3 142.7 L940.9 124.7 L966.4 109.8 L992.5 98.1 L1019.4 89.7 L1047.2 84.7Z" fill="#1a1a1a"/></g><clipPath id="bc5"><path d="M1077.0 110.0 L1102.7 111.6 L1126.8 116.3 L1150.2 124.2 L1173.2 135.1 L1195.9 149.1 L1218.1 165.9 L1240.0 185.6 L1261.2 208.0 L1281.8 232.9 L1301.5 260.1 L1320.1 289.6 L1337.4 321.2 L1353.1 354.6 L1366.9 389.7 L1378.5 426.4 L1387.7 464.5 L1394.1 504.2 L1397.0 547.0 L1395.8 589.8 L1392.4 629.5 L1386.6 667.6 L1378.6 704.3 L1368.4 739.4 L1356.0 772.8 L1341.6 804.4 L1325.3 833.9 L1307.0 861.1 L1287.1 886.0 L1265.5 908.4 L1242.4 928.1 L1217.9 944.9 L1192.2 958.9 L1165.3 969.8 L1137.4 977.7 L1108.3 982.4 L1077.0 984.0 L1045.7 982.4 L1016.6 977.7 L988.7 969.8 L961.8 958.9 L936.1 944.9 L911.6 928.1 L888.5 908.4 L866.9 886.0 L847.0 861.1 L828.7 833.9 L812.4 804.4 L798.0 772.8 L785.6 739.4 L775.4 704.3 L767.4 667.6 L761.6 629.5 L758.2 589.8 L757.0 547.0 L759.9 504.2 L766.3 464.5 L775.5 426.4 L787.1 389.7 L800.9 354.6 L816.6 321.2 L833.9 289.6 L852.5 260.1 L872.2 232.9 L892.8 208.0 L914.0 185.6 L935.9 165.9 L958.1 149.1 L980.8 135.1 L1003.8 124.2 L1027.2 116.3 L1051.3 111.6Z"/></clipPath><g filter="url(#bl3)"><path d="M1077.0 110.0 L1102.7 111.6 L1126.8 116.3 L1150.2 124.2 L1173.2 135.1 L1195.9 149.1 L1218.1 165.9 L1240.0 185.6 L1261.2 208.0 L1281.8 232.9 L1301.5 260.1 L1320.1 289.6 L1337.4 321.2 L1353.1 354.6 L1366.9 389.7 L1378.5 426.4 L1387.7 464.5 L1394.1 504.2 L1397.0 547.0 L1395.8 589.8 L1392.4 629.5 L1386.6 667.6 L1378.6 704.3 L1368.4 739.4 L1356.0 772.8 L1341.6 804.4 L1325.3 833.9 L1307.0 861.1 L1287.1 886.0 L1265.5 908.4 L1242.4 928.1 L1217.9 944.9 L1192.2 958.9 L1165.3 969.8 L1137.4 977.7 L1108.3 982.4 L1077.0 984.0 L1045.7 982.4 L1016.6 977.7 L988.7 969.8 L961.8 958.9 L936.1 944.9 L911.6 928.1 L888.5 908.4 L866.9 886.0 L847.0 861.1 L828.7 833.9 L812.4 804.4 L798.0 772.8 L785.6 739.4 L775.4 704.3 L767.4 667.6 L761.6 629.5 L758.2 589.8 L757.0 547.0 L759.9 504.2 L766.3 464.5 L775.5 426.4 L787.1 389.7 L800.9 354.6 L816.6 321.2 L833.9 289.6 L852.5 260.1 L872.2 232.9 L892.8 208.0 L914.0 185.6 L935.9 165.9 L958.1 149.1 L980.8 135.1 L1003.8 124.2 L1027.2 116.3 L1051.3 111.6Z" fill="#d8d8d8"/></g><g clip-path="url(#bc5)"><g filter="url(#bl14)"><path d="M1077.0 110.0 L1102.7 111.6 L1126.8 116.3 L1150.2 124.2 L1173.2 135.1 L1195.9 149.1 L1218.1 165.9 L1240.0 185.6 L1261.2 208.0 L1281.8 232.9 L1301.5 260.1 L1320.1 289.6 L1337.4 321.2 L1353.1 354.6 L1366.9 389.7 L1378.5 426.4 L1387.7 464.5 L1394.1 504.2 L1397.0 547.0 L1395.8 589.8 L1392.4 629.5 L1386.6 667.6 L1378.6 704.3 L1368.4 739.4 L1356.0 772.8 L1341.6 804.4 L1325.3 833.9 L1307.0 861.1 L1287.1 886.0 L1265.5 908.4 L1242.4 928.1 L1217.9 944.9 L1192.2 958.9 L1165.3 969.8 L1137.4 977.7 L1108.3 982.4 L1077.0 984.0 L1045.7 982.4 L1016.6 977.7 L988.7 969.8 L961.8 958.9 L936.1 944.9 L911.6 928.1 L888.5 908.4 L866.9 886.0 L847.0 861.1 L828.7 833.9 L812.4 804.4 L798.0 772.8 L785.6 739.4 L775.4 704.3 L767.4 667.6 L761.6 629.5 L758.2 589.8 L757.0 547.0 L759.9 504.2 L766.3 464.5 L775.5 426.4 L787.1 389.7 L800.9 354.6 L816.6 321.2 L833.9 289.6 L852.5 260.1 L872.2 232.9 L892.8 208.0 L914.0 185.6 L935.9 165.9 L958.1 149.1 L980.8 135.1 L1003.8 124.2 L1027.2 116.3 L1051.3 111.6Z" fill="none" stroke="#c6c6c6" stroke-width="170"/></g><g filter="url(#bl5)"><path d="M1077.0 110.0 L1102.7 111.6 L1126.8 116.3 L1150.2 124.2 L1173.2 135.1 L1195.9 149.1 L1218.1 165.9 L1240.0 185.6 L1261.2 208.0 L1281.8 232.9 L1301.5 260.1 L1320.1 289.6 L1337.4 321.2 L1353.1 354.6 L1366.9 389.7 L1378.5 426.4 L1387.7 464.5 L1394.1 504.2 L1397.0 547.0 L1395.8 589.8 L1392.4 629.5 L1386.6 667.6 L1378.6 704.3 L1368.4 739.4 L1356.0 772.8 L1341.6 804.4 L1325.3 833.9 L1307.0 861.1 L1287.1 886.0 L1265.5 908.4 L1242.4 928.1 L1217.9 944.9 L1192.2 958.9 L1165.3 969.8 L1137.4 977.7 L1108.3 982.4 L1077.0 984.0 L1045.7 982.4 L1016.6 977.7 L988.7 969.8 L961.8 958.9 L936.1 944.9 L911.6 928.1 L888.5 908.4 L866.9 886.0 L847.0 861.1 L828.7 833.9 L812.4 804.4 L798.0 772.8 L785.6 739.4 L775.4 704.3 L767.4 667.6 L761.6 629.5 L758.2 589.8 L757.0 547.0 L759.9 504.2 L766.3 464.5 L775.5 426.4 L787.1 389.7 L800.9 354.6 L816.6 321.2 L833.9 289.6 L852.5 260.1 L872.2 232.9 L892.8 208.0 L914.0 185.6 L935.9 165.9 L958.1 149.1 L980.8 135.1 L1003.8 124.2 L1027.2 116.3 L1051.3 111.6Z" fill="none" stroke="#a4a4a4" stroke-width="16"/></g><g filter="url(#bl8)"><path d="M1077 110 Q1119 152 1136 244" stroke="#a0a0a0" stroke-width="19" fill="none" stroke-linecap="round"/><path d="M1127 116 Q1097 168 1123 222" stroke="#a0a0a0" stroke-width="24" fill="none" stroke-linecap="round"/><path d="M1173 135 Q1125 150 1127 197" stroke="#a0a0a0" stroke-width="12" fill="none" stroke-linecap="round"/><path d="M1240 186 Q1240 246 1190 280" stroke="#a0a0a0" stroke-width="20" fill="none" stroke-linecap="round"/><path d="M1282 233 Q1266 266 1211 346" stroke="#a0a0a0" stroke-width="13" fill="none" stroke-linecap="round"/><path d="M1320 290 Q1283 353 1227 369" stroke="#a0a0a0" stroke-width="30" fill="none" stroke-linecap="round"/><path d="M1367 390 Q1286 422 1260 431" stroke="#a0a0a0" stroke-width="16" fill="none" stroke-linecap="round"/><path d="M1394 504 Q1361 483 1283 488" stroke="#a0a0a0" stroke-width="23" fill="none" stroke-linecap="round"/><path d="M1396 590 Q1355 605 1301 616" stroke="#a0a0a0" stroke-width="22" fill="none" stroke-linecap="round"/><path d="M1387 668 Q1330 604 1273 576" stroke="#a0a0a0" stroke-width="16" fill="none" stroke-linecap="round"/><path d="M1368 739 Q1353 735 1301 687" stroke="#a0a0a0" stroke-width="29" fill="none" stroke-linecap="round"/><path d="M1325 834 Q1276 811 1245 817" stroke="#a0a0a0" stroke-width="25" fill="none" stroke-linecap="round"/><path d="M1287 886 Q1264 856 1251 807" stroke="#a0a0a0" stroke-width="15" fill="none" stroke-linecap="round"/><path d="M1242 928 Q1226 884 1245 808" stroke="#a0a0a0" stroke-width="21" fill="none" stroke-linecap="round"/><path d="M1165 970 Q1161 913 1116 848" stroke="#a0a0a0" stroke-width="19" fill="none" stroke-linecap="round"/><path d="M1108 982 Q1073 902 1087 874" stroke="#a0a0a0" stroke-width="15" fill="none" stroke-linecap="round"/><path d="M1046 982 Q1070 906 1090 871" stroke="#a0a0a0" stroke-width="28" fill="none" stroke-linecap="round"/><path d="M962 959 Q959 951 994 893" stroke="#a0a0a0" stroke-width="22" fill="none" stroke-linecap="round"/><path d="M889 908 Q921 899 972 834" stroke="#a0a0a0" stroke-width="12" fill="none" stroke-linecap="round"/><path d="M847 861 Q867 833 874 760" stroke="#a0a0a0" stroke-width="30" fill="none" stroke-linecap="round"/><path d="M812 804 Q823 756 879 744" stroke="#a0a0a0" stroke-width="19" fill="none" stroke-linecap="round"/><path d="M775 704 Q789 673 849 632" stroke="#a0a0a0" stroke-width="26" fill="none" stroke-linecap="round"/><path d="M762 629 Q798 643 884 606" stroke="#a0a0a0" stroke-width="30" fill="none" stroke-linecap="round"/><path d="M760 504 Q787 492 851 486" stroke="#a0a0a0" stroke-width="15" fill="none" stroke-linecap="round"/><path d="M775 426 Q827 448 831 451" stroke="#a0a0a0" stroke-width="25" fill="none" stroke-linecap="round"/><path d="M817 321 Q870 397 911 435" stroke="#a0a0a0" stroke-width="30" fill="none" stroke-linecap="round"/><path d="M853 260 Q895 299 907 319" stroke="#a0a0a0" stroke-width="12" fill="none" stroke-linecap="round"/><path d="M893 208 Q920 254 968 250" stroke="#a0a0a0" stroke-width="24" fill="none" stroke-linecap="round"/><path d="M936 166 Q981 198 968 246" stroke="#a0a0a0" stroke-width="22" fill="none" stroke-linecap="round"/><path d="M1004 124 Q1004 168 971 236" stroke="#a0a0a0" stroke-width="15" fill="none" stroke-linecap="round"/></g><g filter="url(#bl8)"><path d="M1077 269 Q1046 200 1035 183" stroke="#ffffff" stroke-width="26" fill="none" stroke-linecap="round"/><path d="M1134 286 Q1183 266 1189 229" stroke="#ffffff" stroke-width="28" fill="none" stroke-linecap="round"/><path d="M1202 353 Q1217 350 1267 306" stroke="#ffffff" stroke-width="39" fill="none" stroke-linecap="round"/><path d="M1257 458 Q1331 431 1355 443" stroke="#ffffff" stroke-width="34" fill="none" stroke-linecap="round"/><path d="M1272 607 Q1309 580 1356 611" stroke="#ffffff" stroke-width="36" fill="none" stroke-linecap="round"/><path d="M1240 722 Q1276 778 1283 813" stroke="#ffffff" stroke-width="34" fill="none" stroke-linecap="round"/><path d="M1161 818 Q1181 868 1151 935" stroke="#ffffff" stroke-width="26" fill="none" stroke-linecap="round"/><path d="M1094 844 Q1083 879 1107 928" stroke="#ffffff" stroke-width="38" fill="none" stroke-linecap="round"/><path d="M1009 828 Q1010 899 1025 924" stroke="#ffffff" stroke-width="26" fill="none" stroke-linecap="round"/><path d="M925 742 Q905 760 851 799" stroke="#ffffff" stroke-width="31" fill="none" stroke-linecap="round"/><path d="M891 656 Q891 667 838 727" stroke="#ffffff" stroke-width="44" fill="none" stroke-linecap="round"/><path d="M890 482 Q828 459 803 463" stroke="#ffffff" stroke-width="33" fill="none" stroke-linecap="round"/><path d="M939 372 Q912 312 886 294" stroke="#ffffff" stroke-width="26" fill="none" stroke-linecap="round"/><path d="M1006 296 Q968 228 968 196" stroke="#ffffff" stroke-width="28" fill="none" stroke-linecap="round"/></g><g filter="url(#bl14)"><ellipse cx="1077.0" cy="250.0" rx="34.0" ry="150.0" fill="#c8c8c8"/><ellipse cx="1077.0" cy="814.0" rx="38.0" ry="175.0" fill="#c8c8c8"/></g><g filter="url(#bl5)"><path d="M1077 115 V400 M1077 979 V654" stroke="#8a8a8a" stroke-width="11" fill="none"/></g><g filter="url(#bl14)"><ellipse cx="862.0" cy="637.0" rx="60.0" ry="150.0" fill="#fff"/><ellipse cx="1292.0" cy="637.0" rx="60.0" ry="150.0" fill="#fff"/><ellipse cx="957.0" cy="347.0" rx="40.0" ry="90.0" fill="#eee"/><ellipse cx="1197.0" cy="347.0" rx="40.0" ry="90.0" fill="#eee"/></g></g></g>
</g>
<g clip-path="url(#sc6)">
<g transform="translate(985 258) scale(0.22836)"><g filter="url(#bl14)"><path d="M372.0 20.0 L409.4 21.9 L444.2 27.6 L477.7 37.0 L510.1 50.1 L541.3 66.9 L571.3 87.1 L599.9 110.7 L626.9 137.5 L652.2 167.3 L675.6 200.0 L696.9 235.4 L716.0 273.2 L732.7 313.3 L746.8 355.4 L758.1 399.4 L766.6 445.1 L771.9 492.7 L774.0 544.0 L772.5 595.3 L768.2 642.9 L760.9 688.6 L750.9 732.6 L738.0 774.7 L722.5 814.8 L704.4 852.6 L683.9 888.0 L661.0 920.7 L635.9 950.5 L608.8 977.3 L579.7 1000.9 L549.0 1021.1 L516.7 1037.9 L483.0 1051.0 L447.9 1060.4 L411.4 1066.1 L372.0 1068.0 L332.6 1066.1 L296.1 1060.4 L261.0 1051.0 L227.3 1037.9 L195.0 1021.1 L164.3 1000.9 L135.2 977.3 L108.1 950.5 L83.0 920.7 L60.1 888.0 L39.6 852.6 L21.5 814.8 L6.0 774.7 L-6.9 732.6 L-16.9 688.6 L-24.2 642.9 L-28.5 595.3 L-30.0 544.0 L-27.9 492.7 L-22.6 445.1 L-14.1 399.4 L-2.8 355.4 L11.3 313.3 L28.0 273.2 L47.1 235.4 L68.4 200.0 L91.8 167.3 L117.1 137.5 L144.1 110.7 L172.7 87.1 L202.7 66.9 L233.9 50.1 L266.3 37.0 L299.8 27.6 L334.6 21.9Z" fill="#7c7c7c"/></g><g filter="url(#bl5)"><path d="M372.0 55.0 L405.8 56.8 L437.2 62.1 L467.4 70.9 L496.7 83.1 L524.9 98.7 L552.0 117.6 L577.8 139.6 L602.2 164.6 L625.0 192.5 L646.1 223.0 L665.4 256.0 L682.6 291.3 L697.7 328.7 L710.4 368.0 L720.7 409.0 L728.3 451.7 L733.1 496.1 L735.0 544.0 L733.7 591.9 L729.7 636.3 L723.2 679.0 L714.1 720.0 L702.5 759.3 L688.5 796.7 L672.2 832.0 L653.6 865.0 L633.0 895.5 L610.3 923.4 L585.8 948.4 L559.6 970.4 L531.8 989.3 L502.7 1004.9 L472.2 1017.1 L440.5 1025.9 L407.5 1031.2 L372.0 1033.0 L336.5 1031.2 L303.5 1025.9 L271.8 1017.1 L241.3 1004.9 L212.2 989.3 L184.4 970.4 L158.2 948.4 L133.7 923.4 L111.0 895.5 L90.4 865.0 L71.8 832.0 L55.5 796.7 L41.5 759.3 L29.9 720.0 L20.8 679.0 L14.3 636.3 L10.3 591.9 L9.0 544.0 L10.9 496.1 L15.7 451.7 L23.3 409.0 L33.6 368.0 L46.3 328.7 L61.4 291.3 L78.6 256.0 L97.9 223.0 L119.0 192.5 L141.8 164.6 L166.2 139.6 L192.0 117.6 L219.1 98.7 L247.3 83.1 L276.6 70.9 L306.8 62.1 L338.2 56.8Z" fill="none" stroke="#cdcdcd" stroke-width="34"/></g><g filter="url(#bl5)"><path d="M372.0 73.0 L403.6 74.7 L432.9 79.8 L461.3 88.2 L488.7 100.0 L515.2 114.9 L540.6 133.0 L564.9 154.2 L587.9 178.1 L609.6 204.8 L629.6 234.1 L648.0 265.8 L664.4 299.6 L678.8 335.5 L691.1 373.2 L701.0 412.5 L708.4 453.5 L713.1 496.1 L715.0 542.0 L713.8 587.9 L710.0 630.5 L703.9 671.5 L695.3 710.8 L684.3 748.5 L671.1 784.4 L655.7 818.2 L638.1 849.9 L618.6 879.2 L597.2 905.9 L574.0 929.8 L549.3 951.0 L523.0 969.1 L495.5 984.0 L466.7 995.8 L436.7 1004.2 L405.6 1009.3 L372.0 1011.0 L338.4 1009.3 L307.3 1004.2 L277.3 995.8 L248.5 984.0 L221.0 969.1 L194.7 951.0 L170.0 929.8 L146.8 905.9 L125.4 879.2 L105.9 849.9 L88.3 818.2 L72.9 784.4 L59.7 748.5 L48.7 710.8 L40.1 671.5 L34.0 630.5 L30.2 587.9 L29.0 542.0 L30.9 496.1 L35.6 453.5 L43.0 412.5 L52.9 373.2 L65.2 335.5 L79.6 299.6 L96.0 265.8 L114.4 234.1 L134.4 204.8 L156.1 178.1 L179.1 154.2 L203.4 133.0 L228.8 114.9 L255.3 100.0 L282.7 88.2 L311.1 79.8 L340.4 74.7Z" fill="#1a1a1a"/></g><clipPath id="bc6"><path d="M372.0 72.0 L404.4 73.7 L434.5 78.8 L463.6 87.3 L491.7 99.1 L518.9 114.2 L545.0 132.4 L570.0 153.7 L593.6 177.8 L615.8 204.7 L636.4 234.2 L655.2 266.0 L672.1 300.1 L686.9 336.2 L699.5 374.1 L709.6 413.7 L717.2 454.9 L722.1 497.8 L724.0 544.0 L722.7 590.2 L718.9 633.1 L712.6 674.3 L703.8 713.9 L692.5 751.8 L678.9 787.9 L663.1 822.0 L645.1 853.8 L625.0 883.3 L603.1 910.2 L579.3 934.3 L553.9 955.6 L527.0 973.8 L498.7 988.9 L469.2 1000.7 L438.4 1009.2 L406.5 1014.3 L372.0 1016.0 L337.5 1014.3 L305.6 1009.2 L274.8 1000.7 L245.3 988.9 L217.0 973.8 L190.1 955.6 L164.7 934.3 L140.9 910.2 L119.0 883.3 L98.9 853.8 L80.9 822.0 L65.1 787.9 L51.5 751.8 L40.2 713.9 L31.4 674.3 L25.1 633.1 L21.3 590.2 L20.0 544.0 L21.9 497.8 L26.8 454.9 L34.4 413.7 L44.5 374.1 L57.1 336.2 L71.9 300.1 L88.8 266.0 L107.6 234.2 L128.2 204.7 L150.4 177.8 L174.0 153.7 L199.0 132.4 L225.1 114.2 L252.3 99.1 L280.4 87.3 L309.5 78.8 L339.6 73.7Z"/></clipPath><g clip-path="url(#bc6)"><g filter="url(#bl14)"><ellipse cx="368.0" cy="560.0" rx="335.0" ry="420.0" fill="#5e5e5e"/><ellipse cx="368.0" cy="700.0" rx="325.0" ry="270.0" fill="#b4b4b4"/><ellipse cx="180.0" cy="560.0" rx="130.0" ry="140.0" fill="#c8c8c8"/><ellipse cx="560.0" cy="560.0" rx="130.0" ry="140.0" fill="#c8c8c8"/><ellipse cx="368.0" cy="300.0" rx="235.0" ry="150.0" fill="#a2a2a2"/><ellipse cx="368.0" cy="115.0" rx="200.0" ry="55.0" fill="#2a2a2a"/><ellipse cx="130.0" cy="560.0" rx="60.0" ry="70.0" fill="#f4f4f4"/><ellipse cx="610.0" cy="600.0" rx="55.0" ry="90.0" fill="#f4f4f4"/></g><g filter="url(#bl8)"><ellipse cx="330.0" cy="290.0" rx="22.0" ry="130.0" fill="#e2e2e2"/><ellipse cx="410.0" cy="290.0" rx="22.0" ry="130.0" fill="#e2e2e2"/><ellipse cx="270.0" cy="300.0" rx="18.0" ry="100.0" fill="#c8c8c8"/><ellipse cx="470.0" cy="300.0" rx="18.0" ry="100.0" fill="#c8c8c8"/><ellipse cx="368.0" cy="290.0" rx="8.0" ry="130.0" fill="#6a6a6a"/><ellipse cx="190.0" cy="290.0" rx="45.0" ry="50.0" fill="#b8b8b8"/><ellipse cx="550.0" cy="290.0" rx="45.0" ry="50.0" fill="#b8b8b8"/><ellipse cx="368.0" cy="480.0" rx="40.0" ry="35.0" fill="#dcdcdc"/><ellipse cx="368.0" cy="530.0" rx="30.0" ry="30.0" fill="#fff"/></g><g filter="url(#bl8)"><path d="M120 250 C200 150 540 150 620 250" stroke="#3a3a3a" stroke-width="30" fill="none"/><path d="M60 420 C120 380 200 400 250 450 M680 420 C620 380 540 400 490 450" stroke="#5a5a5a" stroke-width="16" fill="none"/></g></g></g>
</g>
<g clip-path="url(#sc7)">
<g transform="translate(985 258) scale(0.22836)"><g filter="url(#bl14)"><path d="M1074.0 22.0 L1111.4 23.9 L1146.2 29.6 L1179.7 39.0 L1212.1 52.0 L1243.3 68.7 L1273.3 88.8 L1301.9 112.3 L1328.9 139.0 L1354.2 168.7 L1377.6 201.3 L1398.9 236.6 L1418.0 274.2 L1434.7 314.2 L1448.8 356.1 L1460.1 399.9 L1468.6 445.5 L1473.9 492.9 L1476.0 544.0 L1474.5 595.1 L1470.2 642.5 L1462.9 688.1 L1452.9 731.9 L1440.0 773.8 L1424.5 813.8 L1406.4 851.4 L1385.9 886.7 L1363.0 919.3 L1337.9 949.0 L1310.8 975.7 L1281.7 999.2 L1251.0 1019.3 L1218.7 1036.0 L1185.0 1049.0 L1149.9 1058.4 L1113.4 1064.1 L1074.0 1066.0 L1034.6 1064.1 L998.1 1058.4 L963.0 1049.0 L929.3 1036.0 L897.0 1019.3 L866.3 999.2 L837.2 975.7 L810.1 949.0 L785.0 919.3 L762.1 886.7 L741.6 851.4 L723.5 813.8 L708.0 773.8 L695.1 731.9 L685.1 688.1 L677.8 642.5 L673.5 595.1 L672.0 544.0 L674.1 492.9 L679.4 445.5 L687.9 399.9 L699.2 356.1 L713.3 314.2 L730.0 274.2 L749.1 236.6 L770.4 201.3 L793.8 168.7 L819.1 139.0 L846.1 112.3 L874.7 88.8 L904.7 68.7 L935.9 52.0 L968.3 39.0 L1001.8 29.6 L1036.6 23.9Z" fill="#7c7c7c"/></g><g filter="url(#bl5)"><path d="M1074.0 57.0 L1107.8 58.8 L1139.2 64.0 L1169.4 72.8 L1198.7 85.0 L1226.9 100.6 L1254.0 119.3 L1279.8 141.3 L1304.2 166.2 L1327.0 193.9 L1348.1 224.3 L1367.4 257.2 L1384.6 292.3 L1399.7 329.6 L1412.4 368.7 L1422.7 409.6 L1430.3 452.1 L1435.1 496.3 L1437.0 544.0 L1435.7 591.7 L1431.7 635.9 L1425.2 678.4 L1416.1 719.3 L1404.5 758.4 L1390.5 795.7 L1374.2 830.8 L1355.6 863.7 L1335.0 894.1 L1312.3 921.8 L1287.8 946.7 L1261.6 968.7 L1233.8 987.4 L1204.7 1003.0 L1174.2 1015.2 L1142.5 1024.0 L1109.5 1029.2 L1074.0 1031.0 L1038.5 1029.2 L1005.5 1024.0 L973.8 1015.2 L943.3 1003.0 L914.2 987.4 L886.4 968.7 L860.2 946.7 L835.7 921.8 L813.0 894.1 L792.4 863.7 L773.8 830.8 L757.5 795.7 L743.5 758.4 L731.9 719.3 L722.8 678.4 L716.3 635.9 L712.3 591.7 L711.0 544.0 L712.9 496.3 L717.7 452.1 L725.3 409.6 L735.6 368.7 L748.3 329.6 L763.4 292.3 L780.6 257.2 L799.9 224.3 L821.0 193.9 L843.8 166.2 L868.2 141.3 L894.0 119.3 L921.1 100.6 L949.3 85.0 L978.6 72.8 L1008.8 64.0 L1040.2 58.8Z" fill="none" stroke="#cdcdcd" stroke-width="34"/></g><g filter="url(#bl5)"><path d="M1074.0 75.0 L1105.6 76.7 L1134.9 81.8 L1163.3 90.2 L1190.7 101.9 L1217.2 116.8 L1242.6 134.8 L1266.9 155.8 L1289.9 179.7 L1311.6 206.3 L1331.6 235.4 L1350.0 267.0 L1366.4 300.7 L1380.8 336.4 L1393.1 373.9 L1403.0 413.1 L1410.4 453.9 L1415.1 496.3 L1417.0 542.0 L1415.8 587.7 L1412.0 630.1 L1405.9 670.9 L1397.3 710.1 L1386.3 747.6 L1373.1 783.3 L1357.7 817.0 L1340.1 848.6 L1320.6 877.7 L1299.2 904.3 L1276.0 928.2 L1251.3 949.2 L1225.0 967.2 L1197.5 982.1 L1168.7 993.8 L1138.7 1002.2 L1107.6 1007.3 L1074.0 1009.0 L1040.4 1007.3 L1009.3 1002.2 L979.3 993.8 L950.5 982.1 L923.0 967.2 L896.7 949.2 L872.0 928.2 L848.8 904.3 L827.4 877.7 L807.9 848.6 L790.3 817.0 L774.9 783.3 L761.7 747.6 L750.7 710.1 L742.1 670.9 L736.0 630.1 L732.2 587.7 L731.0 542.0 L732.9 496.3 L737.6 453.9 L745.0 413.1 L754.9 373.9 L767.2 336.4 L781.6 300.7 L798.0 267.0 L816.4 235.4 L836.4 206.3 L858.1 179.7 L881.1 155.8 L905.4 134.8 L930.8 116.8 L957.3 101.9 L984.7 90.2 L1013.1 81.8 L1042.4 76.7Z" fill="#1a1a1a"/></g><clipPath id="bc7"><path d="M1074.0 74.0 L1106.4 75.7 L1136.5 80.8 L1165.6 89.3 L1193.7 101.0 L1220.9 116.0 L1247.0 134.2 L1272.0 155.3 L1295.6 179.4 L1317.8 206.1 L1338.4 235.5 L1357.2 267.2 L1374.1 301.1 L1388.9 337.1 L1401.5 374.8 L1411.6 414.3 L1419.2 455.3 L1424.1 498.0 L1426.0 544.0 L1424.7 590.0 L1420.9 632.7 L1414.6 673.7 L1405.8 713.2 L1394.5 750.9 L1380.9 786.9 L1365.1 820.8 L1347.1 852.5 L1327.0 881.9 L1305.1 908.6 L1281.3 932.7 L1255.9 953.8 L1229.0 972.0 L1200.7 987.0 L1171.2 998.7 L1140.4 1007.2 L1108.5 1012.3 L1074.0 1014.0 L1039.5 1012.3 L1007.6 1007.2 L976.8 998.7 L947.3 987.0 L919.0 972.0 L892.1 953.8 L866.7 932.7 L842.9 908.6 L821.0 881.9 L800.9 852.5 L782.9 820.8 L767.1 786.9 L753.5 750.9 L742.2 713.2 L733.4 673.7 L727.1 632.7 L723.3 590.0 L722.0 544.0 L723.9 498.0 L728.8 455.3 L736.4 414.3 L746.5 374.8 L759.1 337.1 L773.9 301.1 L790.8 267.2 L809.6 235.5 L830.2 206.1 L852.4 179.4 L876.0 155.3 L901.0 134.2 L927.1 116.0 L954.3 101.0 L982.4 89.3 L1011.5 80.8 L1041.6 75.7Z"/></clipPath><g clip-path="url(#bc7)"><g filter="url(#bl14)"><ellipse cx="1078.0" cy="560.0" rx="335.0" ry="420.0" fill="#6a6a6a"/><ellipse cx="1078.0" cy="740.0" rx="280.0" ry="200.0" fill="#a8a8a8"/><ellipse cx="880.0" cy="520.0" rx="90.0" ry="160.0" fill="#a6a6a6"/><ellipse cx="1280.0" cy="520.0" rx="90.0" ry="160.0" fill="#a6a6a6"/><ellipse cx="1078.0" cy="130.0" rx="90.0" ry="70.0" fill="#1c1c1c"/><ellipse cx="900.0" cy="230.0" rx="80.0" ry="70.0" fill="#8e8e8e"/><ellipse cx="1260.0" cy="230.0" rx="80.0" ry="70.0" fill="#8e8e8e"/><ellipse cx="1078.0" cy="330.0" rx="95.0" ry="170.0" fill="#9a9a9a"/></g><g filter="url(#bl8)"><ellipse cx="1045.0" cy="320.0" rx="18.0" ry="130.0" fill="#d0d0d0"/><ellipse cx="1112.0" cy="320.0" rx="18.0" ry="130.0" fill="#d0d0d0"/><ellipse cx="1078.0" cy="320.0" rx="8.0" ry="130.0" fill="#707070"/><ellipse cx="1078.0" cy="470.0" rx="50.0" ry="30.0" fill="#c0c0c0"/><ellipse cx="1060.0" cy="560.0" rx="45.0" ry="40.0" fill="#fff"/><ellipse cx="1078.0" cy="170.0" rx="100.0" ry="20.0" fill="#2a2a2a"/></g><g filter="url(#bl8)"><path d="M820 330 C900 290 960 330 990 400 M1340 330 C1260 290 1200 330 1170 400" stroke="#4e4e4e" stroke-width="18" fill="none"/></g></g></g>
</g>
<g clip-path="url(#strip)"><defs><filter id="jag2" x="-2%" y="-5%" width="104%" height="110%"><feTurbulence type="fractalNoise" baseFrequency="0.09" numOctaves="2" seed="3" result="n"/><feDisplacementMap in="SourceGraphic" in2="n" scale="7" xChannelSelector="R" yChannelSelector="G"/></filter></defs>
<g transform="translate(25 258) scale(0.22836)" filter="url(#jag2)"><rect x="295" y="425" width="35" height="97" rx="17" fill="#FDCB8A"/><path d="M432 440 L455 405 L468 420 L466 448Z" fill="#FBF0A0"/><rect x="425" y="445" width="45" height="75" rx="14" fill="#F4935F"/><rect x="450" y="525" width="13" height="13" rx="5" fill="#EE4A5C"/><rect x="540" y="545" width="40" height="72" rx="10" fill="#862583"/><rect x="575" y="565" width="23" height="15" rx="4" fill="#862583"/><clipPath id="m2"><rect x="850" y="455" width="75" height="45" rx="8"/><rect x="920" y="455" width="45" height="40" rx="4"/><rect x="988" y="395" width="52" height="102" rx="25"/><rect x="1115" y="373" width="60" height="72" rx="28"/><rect x="1105" y="445" width="60" height="72" rx="12"/><rect x="1005" y="490" width="100" height="72" rx="14"/><rect x="1105" y="515" width="65" height="62" rx="8"/><rect x="985" y="535" width="67" height="92" rx="24"/><rect x="1060" y="520" width="52" height="72" rx="14"/><rect x="1100" y="575" width="75" height="35" rx="6"/><rect x="1230" y="375" width="60" height="57" rx="4"/><rect x="1212" y="437" width="96" height="43" rx="10"/><rect x="1212" y="455" width="20" height="65" rx="3"/><rect x="1218" y="540" width="82" height="80" rx="38"/><rect x="1128" y="700" width="10" height="10" rx="4"/></clipPath><g clip-path="url(#m2)"><path d="M768 284 L906 284 L919 572 L768 764Z" fill="#EE5A58" stroke="#EE5A58" stroke-width="1.5"/><path d="M906 284 L906 284 L996 505 L989 522 L919 572Z" fill="#F0705A" stroke="#F0705A" stroke-width="1.5"/><path d="M906 284 L1039 284 L1082 437 L1074 466 L996 505Z" fill="#FDCB8A" stroke="#FDCB8A" stroke-width="1.5"/><path d="M1039 284 L1197 284 L1204 429 L1181 451 L1082 437Z" fill="#F8EDA0" stroke="#F8EDA0" stroke-width="1.5"/><path d="M1176 512 L1105 515 L1099 511 L1074 466 L1082 437 L1181 451Z" fill="#F49360" stroke="#F49360" stroke-width="1.5"/><path d="M989 522 L996 505 L1074 466 L1099 511 L1050 562Z" fill="#EC4466" stroke="#EC4466" stroke-width="1.5"/><path d="M1197 569 L1115 569 L1105 515 L1176 512 L1202 549Z" fill="#F05060" stroke="#F05060" stroke-width="1.5"/><path d="M879 825 L768 825 L768 764 L919 572 L989 522 L1050 562 L1074 627 L1072 646Z" fill="#C41E7A" stroke="#C41E7A" stroke-width="1.5"/><path d="M1074 627 L1050 562 L1099 511 L1105 515 L1115 569Z" fill="#D02A72" stroke="#D02A72" stroke-width="1.5"/><path d="M1072 646 L1074 627 L1115 569 L1197 569 L1205 652Z" fill="#C2207C" stroke="#C2207C" stroke-width="1.5"/><path d="M1197 284 L1380 284 L1380 431 L1209 431 L1204 429Z" fill="#B01E7E" stroke="#B01E7E" stroke-width="1.5"/><path d="M1380 431 L1380 520 L1276 519 L1209 431Z" fill="#D42670" stroke="#D42670" stroke-width="1.5"/><path d="M1202 549 L1176 512 L1181 451 L1204 429 L1209 431 L1276 519Z" fill="#D42670" stroke="#D42670" stroke-width="1.5"/><path d="M1380 520 L1380 825 L1377 825 L1205 652 L1197 569 L1202 549 L1276 519Z" fill="#852485" stroke="#852485" stroke-width="1.5"/><path d="M1377 825 L879 825 L1072 646 L1205 652Z" fill="#F49360" stroke="#F49360" stroke-width="1.5"/></g><path d="M1020 725 L1035 720 L1072 760 L1058 772Z" fill="#F06450"/></g>
<g transform="translate(345 258) scale(0.22836)" filter="url(#jag2)"><clipPath id="m3"><rect x="140" y="450" width="80" height="72" rx="14"/><rect x="212" y="405" width="80" height="140" rx="18"/><rect x="238" y="400" width="62" height="70" rx="14"/><rect x="175" y="540" width="87" height="52" rx="14"/><rect x="275" y="365" width="77" height="92" rx="28"/><rect x="405" y="343" width="67" height="57" rx="10"/><rect x="400" y="365" width="92" height="87" rx="28"/><rect x="300" y="458" width="145" height="107" rx="20"/><rect x="330" y="455" width="112" height="50" rx="12"/><rect x="400" y="480" width="65" height="82" rx="14"/><rect x="280" y="540" width="72" height="82" rx="18"/><rect x="350" y="530" width="62" height="72" rx="14"/><rect x="405" y="560" width="87" height="95" rx="26"/><rect x="268" y="618" width="84" height="44" rx="10"/><rect x="482" y="370" width="118" height="102" rx="16"/><rect x="540" y="425" width="77" height="77" rx="14"/><rect x="480" y="440" width="68" height="95" rx="14"/><rect x="518" y="545" width="64" height="57" rx="12"/><rect x="575" y="595" width="25" height="20" rx="5"/><rect x="290" y="680" width="98" height="92" rx="22"/><rect x="380" y="668" width="87" height="84" rx="26"/><rect x="335" y="750" width="93" height="57" rx="16"/></clipPath><g clip-path="url(#m3)"><path d="M60 252 L105 252 L209 433 L221 515 L60 593Z" fill="#EE5358" stroke="#EE5358" stroke-width="1.5"/><path d="M273 534 L221 515 L209 433 L317 479 L306 515Z" fill="#F26A50" stroke="#F26A50" stroke-width="1.5"/><path d="M105 252 L199 252 L319 475 L317 479 L209 433Z" fill="#EC5460" stroke="#EC5460" stroke-width="1.5"/><path d="M60 811 L60 593 L221 515 L273 534 L262 605 L153 741Z" fill="#8A2585" stroke="#8A2585" stroke-width="1.5"/><path d="M199 252 L332 252 L380 403 L380 414 L324 472 L319 475Z" fill="#FDD088" stroke="#FDD088" stroke-width="1.5"/><path d="M332 252 L560 252 L498 379 L380 403Z" fill="#F4834F" stroke="#F4834F" stroke-width="1.5"/><path d="M458 467 L441 465 L380 414 L380 403 L498 379 L490 439Z" fill="#F8F09A" stroke="#F8F09A" stroke-width="1.5"/><path d="M306 515 L317 479 L319 475 L324 472 L404 506 L399 535 L342 544Z" fill="#EC4662" stroke="#EC4662" stroke-width="1.5"/><path d="M324 472 L380 414 L441 465 L404 506Z" fill="#F47A52" stroke="#F47A52" stroke-width="1.5"/><path d="M488 556 L427 567 L399 535 L404 506 L441 465 L458 467 L491 548Z" fill="#EE4A5E" stroke="#EE4A5E" stroke-width="1.5"/><path d="M262 605 L273 534 L306 515 L342 544 L358 615Z" fill="#C41E7A" stroke="#C41E7A" stroke-width="1.5"/><path d="M358 615 L342 544 L399 535 L427 567 L383 639Z" fill="#D8296E" stroke="#D8296E" stroke-width="1.5"/><path d="M385 646 L383 639 L427 567 L488 556 L519 649 L519 679Z" fill="#C2207C" stroke="#C2207C" stroke-width="1.5"/><path d="M153 741 L262 605 L358 615 L383 639 L385 646 L372 667Z" fill="#54208A" stroke="#54208A" stroke-width="1.5"/><path d="M560 252 L708 252 L708 312 L540 459 L490 439 L498 379Z" fill="#B01E7E" stroke="#B01E7E" stroke-width="1.5"/><path d="M708 312 L708 526 L617 532 L562 518 L540 459Z" fill="#D42670" stroke="#D42670" stroke-width="1.5"/><path d="M491 548 L458 467 L490 439 L540 459 L562 518Z" fill="#D02A72" stroke="#D02A72" stroke-width="1.5"/><path d="M519 649 L488 556 L491 548 L562 518 L617 532Z" fill="#852485" stroke="#852485" stroke-width="1.5"/><path d="M708 526 L708 898 L660 898 L519 679 L519 649 L617 532Z" fill="#852485" stroke="#852485" stroke-width="1.5"/><path d="M180 898 L60 898 L60 811 L153 741 L372 667 L384 733Z" fill="#F26A50" stroke="#F26A50" stroke-width="1.5"/><path d="M660 898 L654 898 L384 733 L372 667 L385 646 L519 679Z" fill="#F8A068" stroke="#F8A068" stroke-width="1.5"/><path d="M654 898 L180 898 L384 733Z" fill="#EC4662" stroke="#EC4662" stroke-width="1.5"/></g><clipPath id="m4"><rect x="860" y="440" width="47" height="52" rx="6"/><rect x="840" y="488" width="67" height="49" rx="14"/><rect x="865" y="490" width="97" height="112" rx="24"/><rect x="915" y="380" width="97" height="142" rx="22"/><rect x="985" y="368" width="67" height="74" rx="20"/><rect x="1030" y="400" width="105" height="125" rx="10"/><rect x="1100" y="343" width="100" height="79" rx="18"/><rect x="1150" y="370" width="92" height="102" rx="20"/><rect x="1235" y="385" width="47" height="57" rx="10"/><rect x="1250" y="425" width="67" height="77" rx="16"/><rect x="1190" y="460" width="62" height="82" rx="14"/><rect x="1240" y="500" width="92" height="87" rx="26"/><rect x="1000" y="520" width="205" height="165" rx="30"/><rect x="1140" y="600" width="100" height="90" rx="20"/><rect x="970" y="580" width="102" height="102" rx="28"/><rect x="935" y="640" width="67" height="62" rx="14"/><rect x="950" y="680" width="112" height="62" rx="14"/><rect x="1100" y="658" width="82" height="84" rx="20"/><rect x="1035" y="730" width="113" height="102" rx="22"/><rect x="1120" y="780" width="45" height="45" rx="8"/><rect x="860" y="748" width="18" height="18" rx="8"/></clipPath><g clip-path="url(#m4)"><path d="M749 262 L873 262 L897 315 L930 494 L920 498 L749 461Z" fill="#EE5358" stroke="#EE5358" stroke-width="1.5"/><path d="M749 632 L749 461 L920 498 L806 634Z" fill="#231050" stroke="#231050" stroke-width="1.5"/><path d="M806 634 L920 498 L930 494 L1009 536 L957 601 L859 645Z" fill="#8A2585" stroke="#8A2585" stroke-width="1.5"/><path d="M1009 536 L930 494 L897 315 L1022 465 L1016 534Z" fill="#F26A50" stroke="#F26A50" stroke-width="1.5"/><path d="M873 262 L1062 262 L1085 396 L1022 465 L897 315Z" fill="#FDCB8A" stroke="#FDCB8A" stroke-width="1.5"/><path d="M1016 534 L1022 465 L1085 396 L1139 442 L1153 478 L1140 526 L1035 541Z" fill="#F47A52" stroke="#F47A52" stroke-width="1.5"/><path d="M1062 262 L1243 262 L1219 347 L1139 442 L1085 396Z" fill="#F4834F" stroke="#F4834F" stroke-width="1.5"/><path d="M1153 478 L1139 442 L1219 347 L1232 454Z" fill="#EE5358" stroke="#EE5358" stroke-width="1.5"/><path d="M1243 262 L1406 262 L1406 371 L1236 456 L1232 454 L1219 347Z" fill="#A02080" stroke="#A02080" stroke-width="1.5"/><path d="M1406 371 L1406 500 L1265 504 L1236 456Z" fill="#D42670" stroke="#D42670" stroke-width="1.5"/><path d="M1140 526 L1153 478 L1232 454 L1236 456 L1265 504 L1218 576 L1174 566Z" fill="#D02A72" stroke="#D02A72" stroke-width="1.5"/><path d="M1406 500 L1406 753 L1218 576 L1265 504Z" fill="#852485" stroke="#852485" stroke-width="1.5"/><path d="M1035 541 L1140 526 L1174 566 L1136 646 L1080 668Z" fill="#BE207C" stroke="#BE207C" stroke-width="1.5"/><path d="M1406 753 L1406 796 L1252 750 L1136 646 L1174 566 L1218 576Z" fill="#BE207C" stroke="#BE207C" stroke-width="1.5"/><path d="M957 601 L1009 536 L1016 534 L1035 541 L1080 668 L1072 682 L1009 670Z" fill="#5A2488" stroke="#5A2488" stroke-width="1.5"/><path d="M859 645 L957 601 L1009 670 L938 737Z" fill="#D8296E" stroke="#D8296E" stroke-width="1.5"/><path d="M938 737 L1009 670 L1072 682 L1074 715 L973 839Z" fill="#EE5560" stroke="#EE5560" stroke-width="1.5"/><path d="M1134 751 L1074 715 L1072 682 L1080 668 L1136 646 L1252 750Z" fill="#F8A068" stroke="#F8A068" stroke-width="1.5"/><path d="M1062 922 L964 922 L973 839 L1074 715 L1134 751Z" fill="#EC4662" stroke="#EC4662" stroke-width="1.5"/><path d="M1406 796 L1406 922 L1062 922 L1134 751 L1252 750Z" fill="#E02870" stroke="#E02870" stroke-width="1.5"/><path d="M964 922 L749 922 L749 632 L806 634 L859 645 L938 737 L973 839Z" fill="#B01E7E" stroke="#B01E7E" stroke-width="1.5"/></g></g>
<g transform="translate(665 258) scale(0.22836)" filter="url(#jag2)"><clipPath id="m5"><path d="M175 400 L250 365 L320 350 L380 375 L440 350 L510 345 L570 380 L585 440 L615 470 L610 540 L570 575 L500 560 L540 600 L560 660 L545 760 L540 830 L500 870 L470 890 L400 880 L390 940 L380 940 L370 900 L330 900 L320 960 L300 960 L290 910 L270 880 L215 880 L215 800 L150 780 L145 715 L180 730 L210 700 L195 620 L240 595 L280 560 L230 575 L170 570 L140 530 L140 480 L180 455Z"/></clipPath><g clip-path="url(#m5)"><path d="M208 467 L215 573 L135 612 L135 433Z" fill="#231050" stroke="#231050" stroke-width="1.5"/><path d="M215 573 L208 467 L231 457 L317 480 L311 530 L248 574Z" fill="#4B2A80" stroke="#4B2A80" stroke-width="1.5"/><path d="M135 340 L232 340 L248 386 L231 457 L208 467 L135 433Z" fill="#B01E7E" stroke="#B01E7E" stroke-width="1.5"/><path d="M232 340 L359 340 L321 441 L248 386Z" fill="#EC4662" stroke="#EC4662" stroke-width="1.5"/><path d="M317 480 L231 457 L248 386 L321 441 L324 470Z" fill="#F4704F" stroke="#F4704F" stroke-width="1.5"/><path d="M359 340 L386 340 L414 432 L382 467 L324 470 L321 441Z" fill="#F47A52" stroke="#F47A52" stroke-width="1.5"/><path d="M386 340 L482 340 L487 428 L470 440 L414 432Z" fill="#EE4A5E" stroke="#EE4A5E" stroke-width="1.5"/><path d="M482 340 L620 340 L620 400 L539 446 L487 428Z" fill="#EA4064" stroke="#EA4064" stroke-width="1.5"/><path d="M470 440 L487 428 L539 446 L539 507 L496 555 L484 556 L456 537Z" fill="#4B2A80" stroke="#4B2A80" stroke-width="1.5"/><path d="M620 400 L620 517 L539 507 L539 446Z" fill="#4B2A80" stroke="#4B2A80" stroke-width="1.5"/><path d="M620 517 L620 644 L496 555 L539 507Z" fill="#7A2585" stroke="#7A2585" stroke-width="1.5"/><path d="M382 467 L414 432 L470 440 L456 537 L445 537Z" fill="#8A2585" stroke="#8A2585" stroke-width="1.5"/><path d="M311 530 L317 480 L324 470 L382 467 L445 537 L370 572Z" fill="#B4207E" stroke="#B4207E" stroke-width="1.5"/><path d="M248 574 L311 530 L370 572 L370 597 L339 642 L294 642Z" fill="#7A2585" stroke="#7A2585" stroke-width="1.5"/><path d="M370 597 L370 572 L445 537 L456 537 L484 556 L452 649 L439 651Z" fill="#BE207C" stroke="#BE207C" stroke-width="1.5"/><path d="M135 657 L135 612 L215 573 L248 574 L294 643 L272 689 L205 699Z" fill="#E02870" stroke="#E02870" stroke-width="1.5"/><path d="M272 689 L294 642 L339 642 L372 698 L310 736Z" fill="#EC4662" stroke="#EC4662" stroke-width="1.5"/><path d="M620 644 L620 668 L471 668 L452 649 L484 556 L496 555Z" fill="#E02870" stroke="#E02870" stroke-width="1.5"/><path d="M439 651 L452 649 L471 668 L471 737 L420 766 L381 699Z" fill="#F8A068" stroke="#F8A068" stroke-width="1.5"/><path d="M620 668 L620 788 L471 737 L471 668Z" fill="#F47A52" stroke="#F47A52" stroke-width="1.5"/><path d="M205 699 L272 689 L310 736 L303 785 L230 785Z" fill="#F06050" stroke="#F06050" stroke-width="1.5"/><path d="M303 785 L310 736 L372 698 L381 699 L420 766 L411 797 L407 801 L306 790Z" fill="#E4306C" stroke="#E4306C" stroke-width="1.5"/><path d="M620 788 L620 886 L411 797 L420 766 L471 737Z" fill="#EC4662" stroke="#EC4662" stroke-width="1.5"/><path d="M135 948 L135 880 L230 785 L303 785 L306 790 L302 869Z" fill="#E02870" stroke="#E02870" stroke-width="1.5"/><path d="M302 869 L306 790 L407 801 L397 865 L336 889Z" fill="#E4306C" stroke="#E4306C" stroke-width="1.5"/><path d="M620 886 L620 965 L484 965 L397 865 L407 801 L411 797Z" fill="#E4306C" stroke="#E4306C" stroke-width="1.5"/><path d="M135 880 L135 657 L205 699 L230 785Z" fill="#C2207C" stroke="#C2207C" stroke-width="1.5"/><path d="M346 965 L135 965 L135 948 L302 869 L336 889Z" fill="#8A2585" stroke="#8A2585" stroke-width="1.5"/><path d="M484 965 L346 965 L336 889 L397 865Z" fill="#D8296E" stroke="#D8296E" stroke-width="1.5"/><path d="M372 697 L339 643 L370 597 L439 651 L381 699Z" fill="#D8296E" stroke="#D8296E" stroke-width="1.5"/><path d="M285 510 L330 505 L335 540 L300 575 L270 570Z" fill="#fff"/><path d="M430 505 L485 510 L500 555 L470 560 L435 545Z" fill="#fff"/></g><clipPath id="m6"><path d="M880 400 L930 350 L990 380 L1060 365 L1130 360 L1200 350 L1250 360 L1270 420 L1310 450 L1305 500 L1270 530 L1270 600 L1275 700 L1285 740 L1250 790 L1240 860 L1180 870 L1170 930 L1110 940 L1050 960 L1000 965 L960 920 L880 900 L900 850 L845 790 L820 750 L850 640 L890 600 L900 540 L840 520 L840 470 L900 460Z"/></clipPath><g clip-path="url(#m6)"><path d="M895 457 L912 527 L840 601 L815 602 L815 412Z" fill="#231050" stroke="#231050" stroke-width="1.5"/><path d="M999 581 L952 524 L990 460 L1004 459 L1042 530Z" fill="#231050" stroke="#231050" stroke-width="1.5"/><path d="M1092 530 L1104 511 L1179 502 L1188 510 L1176 573 L1132 600 L1123 601Z" fill="#231060" stroke="#231060" stroke-width="1.5"/><path d="M990 460 L952 524 L912 527 L895 457 L961 443Z" fill="#4B2A80" stroke="#4B2A80" stroke-width="1.5"/><path d="M840 601 L912 527 L952 524 L999 581 L998 590 L845 603Z" fill="#4B2A80" stroke="#4B2A80" stroke-width="1.5"/><path d="M815 345 L938 345 L961 443 L895 457 L815 412Z" fill="#B4207E" stroke="#B4207E" stroke-width="1.5"/><path d="M938 345 L1041 345 L1015 449 L1004 459 L990 460 L961 443Z" fill="#EC4662" stroke="#EC4662" stroke-width="1.5"/><path d="M1041 345 L1083 345 L1107 441 L1097 455 L1015 449Z" fill="#F47A52" stroke="#F47A52" stroke-width="1.5"/><path d="M1083 345 L1170 345 L1166 437 L1107 441Z" fill="#EC4662" stroke="#EC4662" stroke-width="1.5"/><path d="M1170 345 L1171 345 L1246 429 L1176 445 L1166 437Z" fill="#D02A72" stroke="#D02A72" stroke-width="1.5"/><path d="M1171 345 L1315 345 L1315 389 L1248 429 L1246 429Z" fill="#EC4662" stroke="#EC4662" stroke-width="1.5"/><path d="M1179 502 L1104 511 L1097 455 L1107 441 L1166 437 L1176 445Z" fill="#4B2A80" stroke="#4B2A80" stroke-width="1.5"/><path d="M1188 510 L1179 502 L1176 445 L1246 429 L1248 429 L1248 510Z" fill="#4B2A80" stroke="#4B2A80" stroke-width="1.5"/><path d="M1315 389 L1315 565 L1248 510 L1248 429Z" fill="#40287A" stroke="#40287A" stroke-width="1.5"/><path d="M1104 511 L1092 530 L1042 530 L1004 459 L1015 449 L1097 455Z" fill="#8A2585" stroke="#8A2585" stroke-width="1.5"/><path d="M1315 565 L1315 616 L1176 573 L1188 510 L1248 510Z" fill="#7A2585" stroke="#7A2585" stroke-width="1.5"/><path d="M1011 620 L998 590 L999 581 L1042 530 L1092 530 L1123 601 L1118 606 L1017 624 L1014 623Z" fill="#E83868" stroke="#E83868" stroke-width="1.5"/><path d="M845 603 L998 590 L1011 620 L903 656Z" fill="#7A2585" stroke="#7A2585" stroke-width="1.5"/><path d="M1315 616 L1315 623 L1191 656 L1132 600 L1176 573Z" fill="#E02870" stroke="#E02870" stroke-width="1.5"/><path d="M1118 606 L1123 601 L1132 600 L1191 656 L1156 738 L1151 740 L1108 705Z" fill="#F06050" stroke="#F06050" stroke-width="1.5"/><path d="M1315 623 L1315 760 L1156 738 L1191 656Z" fill="#F47A52" stroke="#F47A52" stroke-width="1.5"/><path d="M1017 624 L1118 606 L1108 705 L1066 705Z" fill="#9A2080" stroke="#9A2080" stroke-width="1.5"/><path d="M815 810 L815 602 L840 601 L845 603 L903 656 L926 694 L897 770 L842 803Z" fill="#8A2585" stroke="#8A2585" stroke-width="1.5"/><path d="M897 770 L926 694 L975 692 L1015 751 L1008 780Z" fill="#F06050" stroke="#F06050" stroke-width="1.5"/><path d="M1014 623 L1017 624 L1066 705 L1015 751 L975 692Z" fill="#E4306C" stroke="#E4306C" stroke-width="1.5"/><path d="M1008 780 L1015 751 L1066 705 L1108 705 L1151 740 L1128 802 L1020 802Z" fill="#D8296E" stroke="#D8296E" stroke-width="1.5"/><path d="M1315 760 L1315 942 L1144 841 L1128 802 L1151 740 L1156 738Z" fill="#EC4662" stroke="#EC4662" stroke-width="1.5"/><path d="M842 803 L897 770 L1008 780 L1020 802 L1006 862 L983 874Z" fill="#E02870" stroke="#E02870" stroke-width="1.5"/><path d="M1069 916 L1006 862 L1020 802 L1128 802 L1144 841Z" fill="#E02870" stroke="#E02870" stroke-width="1.5"/><path d="M923 970 L815 970 L815 810 L842 803 L983 874Z" fill="#8A2585" stroke="#8A2585" stroke-width="1.5"/><path d="M1078 970 L923 970 L983 874 L1006 862 L1069 916Z" fill="#7A2585" stroke="#7A2585" stroke-width="1.5"/><path d="M1315 942 L1315 970 L1078 970 L1069 916 L1144 841Z" fill="#8A2585" stroke="#8A2585" stroke-width="1.5"/><path d="M903 656 L1011 620 L1014 623 L975 692 L926 694Z" fill="#D8296E" stroke="#D8296E" stroke-width="1.5"/></g></g>
<g transform="translate(985 258) scale(0.22836)" filter="url(#jag2)"><clipPath id="m7"><path d="M185 500 L215 460 L300 455 L330 475 L330 550 L400 550 L430 500 L455 470 L470 400 L510 405 L530 470 L570 520 L590 560 L610 600 L590 640 L600 700 L580 760 L635 740 L640 790 L590 830 L540 870 L490 920 L420 930 L390 905 L340 910 L290 950 L250 930 L190 900 L140 830 L95 760 L85 720 L130 690 L150 620 L150 580 L185 560Z"/></clipPath><g clip-path="url(#m7)"><path d="M80 395 L250 395 L267 557 L80 582Z" fill="#6A2888" stroke="#6A2888" stroke-width="1.5"/><path d="M250 395 L372 395 L385 443 L364 538 L308 580 L267 557Z" fill="#231050" stroke="#231050" stroke-width="1.5"/><path d="M364 538 L385 443 L487 511 L486 559 L416 582Z" fill="#271560" stroke="#271560" stroke-width="1.5"/><path d="M372 395 L645 395 L645 432 L487 511 L385 443Z" fill="#6A2888" stroke="#6A2888" stroke-width="1.5"/><path d="M645 432 L645 559 L513 590 L486 559 L487 511Z" fill="#6A2888" stroke="#6A2888" stroke-width="1.5"/><path d="M80 587 L80 582 L267 557 L308 580 L308 608 L245 667Z" fill="#8A2585" stroke="#8A2585" stroke-width="1.5"/><path d="M308 608 L308 580 L364 538 L416 582 L418 622 L393 662 L359 663Z" fill="#A82080" stroke="#A82080" stroke-width="1.5"/><path d="M418 622 L416 582 L486 559 L513 590 L502 642Z" fill="#A82080" stroke="#A82080" stroke-width="1.5"/><path d="M645 559 L645 669 L612 683 L511 674 L502 642 L513 590Z" fill="#7A2585" stroke="#7A2585" stroke-width="1.5"/><path d="M80 668 L80 587 L245 667 L261 735 L230 755 L189 758Z" fill="#B4207E" stroke="#B4207E" stroke-width="1.5"/><path d="M261 735 L245 667 L308 608 L359 663 L316 745 L305 748Z" fill="#D8296E" stroke="#D8296E" stroke-width="1.5"/><path d="M316 745 L359 663 L393 662 L425 698 L404 776 L402 777Z" fill="#E83868" stroke="#E83868" stroke-width="1.5"/><path d="M393 662 L418 622 L502 642 L511 674 L498 691 L425 698Z" fill="#F06050" stroke="#F06050" stroke-width="1.5"/><path d="M404 776 L425 698 L498 691 L502 766 L472 786Z" fill="#B4207E" stroke="#B4207E" stroke-width="1.5"/><path d="M561 785 L502 766 L498 691 L511 674 L612 683Z" fill="#EC4066" stroke="#EC4066" stroke-width="1.5"/><path d="M80 955 L80 955 L80 668 L189 758Z" fill="#7A2585" stroke="#7A2585" stroke-width="1.5"/><path d="M89 955 L80 955 L189 758 L230 755 L239 860Z" fill="#C2207C" stroke="#C2207C" stroke-width="1.5"/><path d="M239 860 L230 755 L261 735 L305 748 L305 859 L305 860Z" fill="#E02870" stroke="#E02870" stroke-width="1.5"/><path d="M305 859 L305 748 L316 745 L402 777 L389 835Z" fill="#B4207E" stroke="#B4207E" stroke-width="1.5"/><path d="M378 955 L333 955 L304 860 L305 859 L389 835 L410 866Z" fill="#E02870" stroke="#E02870" stroke-width="1.5"/><path d="M410 866 L389 835 L402 777 L404 776 L472 786 L482 858 L473 870Z" fill="#B01E7E" stroke="#B01E7E" stroke-width="1.5"/><path d="M596 849 L482 858 L472 786 L502 766 L561 785Z" fill="#EE4A5E" stroke="#EE4A5E" stroke-width="1.5"/><path d="M645 886 L645 955 L488 955 L473 870 L482 858 L596 849Z" fill="#5A2488" stroke="#5A2488" stroke-width="1.5"/><path d="M333 955 L89 955 L239 860 L304 860Z" fill="#7A2585" stroke="#7A2585" stroke-width="1.5"/><path d="M645 669 L645 886 L596 849 L561 785 L612 683Z" fill="#40287A" stroke="#40287A" stroke-width="1.5"/><path d="M488 955 L378 955 L410 866 L473 870Z" fill="#A82080" stroke="#A82080" stroke-width="1.5"/></g><path d="M210 350 L270 350 L275 400 L295 415 L280 445 L250 420 L210 400Z" fill="#EE4A5E"/><rect x="470" y="350" width="65" height="55" rx="8" fill="#D8296E"/><rect x="578" y="460" width="17" height="25" rx="7" fill="#5A2488"/><clipPath id="m8"><path d="M905 620 L940 580 L1000 560 L1050 600 L1080 560 L1140 555 L1200 570 L1250 600 L1290 640 L1320 690 L1340 740 L1330 790 L1290 830 L1250 870 L1200 905 L1130 915 L1080 890 L1030 925 L960 910 L900 870 L850 820 L815 750 L830 700 L870 660Z"/></clipPath><g clip-path="url(#m8)"><path d="M810 550 L830 550 L971 630 L979 682 L902 708 L810 627Z" fill="#E4306C" stroke="#E4306C" stroke-width="1.5"/><path d="M1040 572 L1080 635 L1081 669 L1010 703 L979 682 L971 630Z" fill="#C2207C" stroke="#C2207C" stroke-width="1.5"/><path d="M1081 669 L1080 635 L1196 568 L1170 682 L1107 689Z" fill="#B4207E" stroke="#B4207E" stroke-width="1.5"/><path d="M1041 550 L1208 550 L1196 568 L1080 635 L1040 572Z" fill="#6A2888" stroke="#6A2888" stroke-width="1.5"/><path d="M1208 550 L1296 550 L1231 701 L1195 703 L1170 682 L1196 568Z" fill="#F06050" stroke="#F06050" stroke-width="1.5"/><path d="M1296 550 L1345 550 L1345 690 L1263 723 L1231 701Z" fill="#D8296E" stroke="#D8296E" stroke-width="1.5"/><path d="M810 825 L810 627 L902 708 L905 773Z" fill="#7A2585" stroke="#7A2585" stroke-width="1.5"/><path d="M905 773 L902 708 L979 682 L1010 703 L1010 776 L961 801Z" fill="#BE207C" stroke="#BE207C" stroke-width="1.5"/><path d="M1010 776 L1010 703 L1081 669 L1108 689 L1108 782 L1058 800Z" fill="#EC4066" stroke="#EC4066" stroke-width="1.5"/><path d="M1108 782 L1108 689 L1170 682 L1195 703 L1177 796 L1156 802Z" fill="#B4207E" stroke="#B4207E" stroke-width="1.5"/><path d="M1177 796 L1195 703 L1231 701 L1263 723 L1265 778 L1216 810Z" fill="#D8296E" stroke="#D8296E" stroke-width="1.5"/><path d="M1345 690 L1345 806 L1265 778 L1263 723Z" fill="#40287A" stroke="#40287A" stroke-width="1.5"/><path d="M949 930 L810 930 L810 825 L905 773 L961 801Z" fill="#8A2585" stroke="#8A2585" stroke-width="1.5"/><path d="M1058 930 L949 930 L961 801 L1010 776 L1058 800Z" fill="#A82080" stroke="#A82080" stroke-width="1.5"/><path d="M1128 930 L1058 930 L1058 800 L1108 782 L1156 802Z" fill="#BE207C" stroke="#BE207C" stroke-width="1.5"/><path d="M1266 930 L1128 930 L1156 802 L1177 796 L1216 810Z" fill="#6A2888" stroke="#6A2888" stroke-width="1.5"/><path d="M1345 806 L1345 930 L1266 930 L1216 810 L1265 778Z" fill="#A82080" stroke="#A82080" stroke-width="1.5"/><path d="M830 550 L1041 550 L1040 572 L971 630Z" fill="#8A2585" stroke="#8A2585" stroke-width="1.5"/></g><path d="M845 570 L880 520 L910 470 L960 455 L980 480 L960 530 L920 560 L880 572Z" fill="#5A2488"/><path d="M1175 480 L1200 450 L1250 455 L1260 500 L1300 520 L1315 555 L1280 570 L1230 565 L1190 530Z" fill="#5A2488"/><rect x="1190" y="410" width="20" height="45" rx="4" fill="#5A2488"/><rect x="975" y="510" width="45" height="40" rx="3" fill="#231050"/><rect x="1135" y="510" width="40" height="45" rx="3" fill="#231050"/><path d="M920 350 h12 v12 h12 v12 h22" stroke="#E8506A" stroke-width="3" fill="none"/><path d="M1210 395 v-22 h18" stroke="#E8506A" stroke-width="3" fill="none"/></g></g>
<rect x="123.3" y="484" width="68.0" height="22" fill="#000"/>
<text x="124.3" y="503.5" font-size="25" fill="#fff" textLength="66" lengthAdjust="spacingAndGlyphs">Z=22</text>
<rect x="282.5" y="484" width="68.0" height="22" fill="#000"/>
<text x="283.5" y="503.5" font-size="25" fill="#fff" textLength="66" lengthAdjust="spacingAndGlyphs">Z=15</text>
<rect x="455.2" y="484" width="54.0" height="22" fill="#000"/>
<text x="456.2" y="503.5" font-size="25" fill="#fff" textLength="52" lengthAdjust="spacingAndGlyphs">Z=8</text>
<rect x="615.0" y="484" width="54.0" height="22" fill="#000"/>
<text x="616.0" y="503.5" font-size="25" fill="#fff" textLength="52" lengthAdjust="spacingAndGlyphs">Z=1</text>
<rect x="765.6" y="484" width="63.0" height="22" fill="#000"/>
<text x="766.6" y="503.5" font-size="25" fill="#fff" textLength="61" lengthAdjust="spacingAndGlyphs">Z=-6</text>
<rect x="910.5" y="484" width="78.0" height="22" fill="#000"/>
<text x="911.5" y="503.5" font-size="25" fill="#fff" textLength="76" lengthAdjust="spacingAndGlyphs">Z=-13</text>
<rect x="1069.9" y="484" width="78.0" height="22" fill="#000"/>
<text x="1070.9" y="503.5" font-size="25" fill="#fff" textLength="76" lengthAdjust="spacingAndGlyphs">Z=-20</text>
<rect x="1230.0" y="484" width="78.0" height="22" fill="#000"/>
<text x="1231.0" y="503.5" font-size="25" fill="#fff" textLength="76" lengthAdjust="spacingAndGlyphs">Z=-27</text>
<text x="11.5" y="404" font-size="24.5" fill="#231F20">L</text>
<text x="1312" y="404" font-size="24.5" fill="#231F20">R</text>
</g>
<g id="brains"><defs>
<filter id="bb2" x="-20%" y="-20%" width="140%" height="140%"><feGaussianBlur stdDeviation="2"/></filter>
<filter id="bb4" x="-20%" y="-20%" width="140%" height="140%"><feGaussianBlur stdDeviation="4"/></filter>
<filter id="bb6" x="-20%" y="-20%" width="140%" height="140%"><feGaussianBlur stdDeviation="6"/></filter>
<filter id="bb12" x="-20%" y="-20%" width="140%" height="140%"><feGaussianBlur stdDeviation="12"/></filter>
<filter id="bb16" x="-20%" y="-20%" width="140%" height="140%"><feGaussianBlur stdDeviation="16"/></filter>
<filter id="jag" x="-5%" y="-5%" width="110%" height="110%"><feTurbulence type="fractalNoise" baseFrequency="0.045" numOctaves="2" seed="7" result="n"/><feDisplacementMap in="SourceGraphic" in2="n" scale="26" xChannelSelector="R" yChannelSelector="G"/><feGaussianBlur stdDeviation="1.2"/></filter>
<linearGradient id="shade" x1="0" y1="0" x2="0" y2="1"><stop offset="0" stop-color="#fff" stop-opacity=".06"/><stop offset=".45" stop-color="#200030" stop-opacity="0"/><stop offset="1" stop-color="#200030" stop-opacity=".16"/></linearGradient>
</defs>
<g transform="translate(20 30) scale(0.22836)"><clipPath id="brc1"><path d="M420.0 100.0 C446.7 86.7 490.0 66.7 520.0 55.0 C550.0 43.3 566.7 36.7 600.0 30.0 C633.3 23.3 686.7 16.3 720.0 15.0 C753.3 13.7 778.3 22.5 800.0 22.0 C821.7 21.5 833.3 15.2 850.0 12.0 C866.7 8.8 881.7 3.3 900.0 3.0 C918.3 2.7 936.7 3.8 960.0 10.0 C983.3 16.2 1013.3 26.7 1040.0 40.0 C1066.7 53.3 1095.0 71.7 1120.0 90.0 C1145.0 108.3 1168.3 129.2 1190.0 150.0 C1211.7 170.8 1231.7 193.3 1250.0 215.0 C1268.3 236.7 1284.2 257.5 1300.0 280.0 C1315.8 302.5 1330.8 325.0 1345.0 350.0 C1359.2 375.0 1373.3 403.3 1385.0 430.0 C1396.7 456.7 1407.2 483.3 1415.0 510.0 C1422.8 536.7 1429.2 566.7 1432.0 590.0 C1434.8 613.3 1434.0 631.7 1432.0 650.0 C1430.0 668.3 1426.2 686.7 1420.0 700.0 C1413.8 713.3 1408.3 721.3 1395.0 730.0 C1381.7 738.7 1360.8 746.2 1340.0 752.0 C1319.2 757.8 1296.7 759.5 1270.0 765.0 C1243.3 770.5 1211.7 777.2 1180.0 785.0 C1148.3 792.8 1111.7 802.5 1080.0 812.0 C1048.3 821.5 1020.0 830.7 990.0 842.0 C960.0 853.3 928.3 867.0 900.0 880.0 C871.7 893.0 846.7 908.3 820.0 920.0 C793.3 931.7 766.7 941.3 740.0 950.0 C713.3 958.7 685.0 967.3 660.0 972.0 C635.0 976.7 611.7 980.0 590.0 978.0 C568.3 976.0 545.8 968.8 530.0 960.0 C514.2 951.2 503.7 938.3 495.0 925.0 C486.3 911.7 480.5 894.2 478.0 880.0 C475.5 865.8 477.7 850.8 480.0 840.0 C482.3 829.2 498.7 818.0 492.0 815.0 C485.3 812.0 458.7 820.8 440.0 822.0 C421.3 823.2 401.7 824.3 380.0 822.0 C358.3 819.7 333.3 814.2 310.0 808.0 C286.7 801.8 261.7 793.8 240.0 785.0 C218.3 776.2 198.3 766.7 180.0 755.0 C161.7 743.3 144.2 730.8 130.0 715.0 C115.8 699.2 104.7 680.0 95.0 660.0 C85.3 640.0 77.5 616.7 72.0 595.0 C66.5 573.3 62.7 551.7 62.0 530.0 C61.3 508.3 63.3 486.7 68.0 465.0 C72.7 443.3 80.5 420.8 90.0 400.0 C99.5 379.2 111.7 359.2 125.0 340.0 C138.3 320.8 153.3 303.3 170.0 285.0 C186.7 266.7 205.0 247.5 225.0 230.0 C245.0 212.5 267.5 195.8 290.0 180.0 C312.5 164.2 338.3 148.3 360.0 135.0 C381.7 121.7 393.3 113.3 420.0 100.0Z"/></clipPath><g clip-path="url(#brc1)"><path d="M420.0 100.0 C446.7 86.7 490.0 66.7 520.0 55.0 C550.0 43.3 566.7 36.7 600.0 30.0 C633.3 23.3 686.7 16.3 720.0 15.0 C753.3 13.7 778.3 22.5 800.0 22.0 C821.7 21.5 833.3 15.2 850.0 12.0 C866.7 8.8 881.7 3.3 900.0 3.0 C918.3 2.7 936.7 3.8 960.0 10.0 C983.3 16.2 1013.3 26.7 1040.0 40.0 C1066.7 53.3 1095.0 71.7 1120.0 90.0 C1145.0 108.3 1168.3 129.2 1190.0 150.0 C1211.7 170.8 1231.7 193.3 1250.0 215.0 C1268.3 236.7 1284.2 257.5 1300.0 280.0 C1315.8 302.5 1330.8 325.0 1345.0 350.0 C1359.2 375.0 1373.3 403.3 1385.0 430.0 C1396.7 456.7 1407.2 483.3 1415.0 510.0 C1422.8 536.7 1429.2 566.7 1432.0 590.0 C1434.8 613.3 1434.0 631.7 1432.0 650.0 C1430.0 668.3 1426.2 686.7 1420.0 700.0 C1413.8 713.3 1408.3 721.3 1395.0 730.0 C1381.7 738.7 1360.8 746.2 1340.0 752.0 C1319.2 757.8 1296.7 759.5 1270.0 765.0 C1243.3 770.5 1211.7 777.2 1180.0 785.0 C1148.3 792.8 1111.7 802.5 1080.0 812.0 C1048.3 821.5 1020.0 830.7 990.0 842.0 C960.0 853.3 928.3 867.0 900.0 880.0 C871.7 893.0 846.7 908.3 820.0 920.0 C793.3 931.7 766.7 941.3 740.0 950.0 C713.3 958.7 685.0 967.3 660.0 972.0 C635.0 976.7 611.7 980.0 590.0 978.0 C568.3 976.0 545.8 968.8 530.0 960.0 C514.2 951.2 503.7 938.3 495.0 925.0 C486.3 911.7 480.5 894.2 478.0 880.0 C475.5 865.8 477.7 850.8 480.0 840.0 C482.3 829.2 498.7 818.0 492.0 815.0 C485.3 812.0 458.7 820.8 440.0 822.0 C421.3 823.2 401.7 824.3 380.0 822.0 C358.3 819.7 333.3 814.2 310.0 808.0 C286.7 801.8 261.7 793.8 240.0 785.0 C218.3 776.2 198.3 766.7 180.0 755.0 C161.7 743.3 144.2 730.8 130.0 715.0 C115.8 699.2 104.7 680.0 95.0 660.0 C85.3 640.0 77.5 616.7 72.0 595.0 C66.5 573.3 62.7 551.7 62.0 530.0 C61.3 508.3 63.3 486.7 68.0 465.0 C72.7 443.3 80.5 420.8 90.0 400.0 C99.5 379.2 111.7 359.2 125.0 340.0 C138.3 320.8 153.3 303.3 170.0 285.0 C186.7 266.7 205.0 247.5 225.0 230.0 C245.0 212.5 267.5 195.8 290.0 180.0 C312.5 164.2 338.3 148.3 360.0 135.0 C381.7 121.7 393.3 113.3 420.0 100.0Z" fill="#C9478F"/><g filter="url(#jag)"><path d="M50 470 L120 380 L230 300 L330 230 L400 260 L420 330 L400 420 L430 480 L440 560 L330 600 L250 640 L150 620 L60 600Z" fill="#E8558A"/><path d="M40 600 L150 620 L250 640 L230 700 L260 790 L180 790 L100 740 L50 680Z" fill="#D04C8A"/><path d="M72 517 L114 414 L185 329 L256 273 L326 226 L401 202 L401 273 L514 258 L524 178 L458 130 L345 125 L232 200 L138 300 L50 461Z" fill="#7F3589"/><path d="M204 395 L241 301 L307 273 L317 338 L307 414 L246 433Z" fill="#EE6478"/><path d="M230 640 L330 600 L320 690 L380 700 L370 720 L350 770 L300 830 L240 800 L230 700Z" fill="#A83C96"/><path d="M470 70 L560 40 L640 30 L650 90 L600 130 L520 120Z" fill="#F49B6E"/><path d="M400 170 L470 150 L520 170 L520 250 L480 270 L400 265Z" fill="#8C3493"/><path d="M520 170 L560 130 L640 120 L660 200 L640 260 L600 310 L560 310 L520 250Z" fill="#F0805F"/><path d="M330 230 L400 265 L480 270 L520 250 L530 310 L510 410 L430 440 L400 420 L420 330Z" fill="#E85C78"/><path d="M530 310 L590 305 L595 400 L560 420 L510 410Z" fill="#F9D28F"/><path d="M430 440 L510 410 L595 400 L600 500 L560 540 L450 550Z" fill="#F7A873"/><path d="M650 90 L760 50 L800 120 L760 250 L720 330 L640 300 L660 200Z" fill="#C24792"/><path d="M838 47 L915 65 L921 141 L838 153Z" fill="#8B3593"/><path d="M591 235 L656 223 L680 282 L750 294 L738 447 L680 459 L597 423Z" fill="#EC5C7C"/><path d="M790 140 L840 130 L880 200 L890 290 L800 290 L750 280 L770 200Z" fill="#F07C60"/><path d="M800 40 L900 0 L1000 40 L1080 110 L1080 200 L900 210 L880 200 L840 130 L800 120Z" fill="#E95B77"/><path d="M1020 70 L1100 80 L1200 150 L1230 210 L1080 200 L1080 110Z" fill="#8B3593"/><path d="M1015 147 L1085 141 L1115 194 L1021 200Z" fill="#8B3593"/><path d="M720 330 L760 280 L890 290 L890 400 L830 440 L740 470 L680 440Z" fill="#E2527E"/><path d="M890 210 L1230 210 L1300 300 L1340 400 L1230 430 L1220 500 L1060 520 L960 500 L940 440 L890 400Z" fill="#7F3091"/><path d="M990 250 L1100 230 L1250 290 L1240 400 L1150 390 L1100 330 L1090 390 L1010 395 L990 340Z" fill="#2C2542"/><path d="M1110 215 L1180 210 L1240 250 L1250 290 L1180 280 L1110 260Z" fill="#1B171F"/><path d="M1150 300 L1250 290 L1310 340 L1330 400 L1230 420 L1150 390Z" fill="#3B2B5C"/><path d="M1290 270 L1360 350 L1380 410 L1330 400 L1310 340Z" fill="#E8836A"/><path d="M1220 430 L1340 400 L1440 520 L1450 640 L1400 720 L1300 620 L1200 580 L1220 500Z" fill="#B64497"/><path d="M1100 640 L1200 580 L1300 620 L1400 720 L1340 772 L1180 805 L1060 832 L1040 700Z" fill="#D54E8A"/><path d="M1340 700 L1370 650 L1440 660 L1440 700 L1395 750Z" fill="#3A2A58"/><path d="M600 500 L680 440 L740 470 L830 440 L890 400 L940 440 L960 500 L900 580 L760 610 L640 600Z" fill="#BE4593"/><path d="M480 815 L560 720 L640 660 L760 610 L900 580 L1000 560 L1060 520 L1100 640 L1040 700 L1060 832 L900 900 L740 970 L590 998 L475 935Z" fill="#6D2E8C"/><path d="M900 580 L1000 560 L1060 520 L1220 500 L1200 580 L1100 640 L1040 700 L900 700 L860 720 L780 700Z" fill="#8A3493"/><path d="M510 660 L580 640 L640 660 L600 700 L540 760 L500 780Z" fill="#3C2C5A"/><path d="M700 730 L780 700 L860 720 L880 800 L860 860 L760 880 L700 840Z" fill="#3A2A58"/><path d="M610 860 L700 840 L760 880 L740 960 L660 990 L610 930Z" fill="#3A2A58"/><path d="M520 590 L600 560 L640 600 L640 660 L580 640 L530 650Z" fill="#E8607A"/><path d="M330 600 L440 560 L450 620 L440 720 L380 700 L320 690Z" fill="#E85A7A"/><path d="M370 720 L440 720 L440 842 L380 842 L350 770Z" fill="#F0906A"/><path d="M440 580 L520 590 L530 650 L510 660 L500 780 L440 760Z" fill="#B04096"/><path d="M140 735 L200 730 L230 770 L180 790 L150 760Z" fill="#1F1A28"/></g><g filter="url(#bb12)" fill="none" stroke="#fff" stroke-linecap="round"><path d="M330 590 C420 560 520 560 600 530 C700 480 800 430 900 415" stroke-width="26" opacity="0.22"/><path d="M760 60 C730 150 690 250 640 340" stroke-width="26" opacity="0.22"/><path d="M880 60 C850 150 800 250 760 330" stroke-width="22" opacity="0.18"/><path d="M520 850 C600 790 750 720 950 660 C1100 620 1250 600 1380 600" stroke-width="40" opacity="0.12"/></g><g filter="url(#bb12)" fill="none" stroke="#1a0818" stroke-linecap="round"><path d="M300 660 C305 605 340 580 420 585 C520 590 600 560 700 510 C780 470 850 430 910 440 C940 450 948 480 940 505" stroke-width="48" opacity="0.21"/><path d="M495 810 C540 730 600 670 720 615 C800 585 900 570 1000 550" stroke-width="54" opacity="0.17"/><path d="M835 45 C805 120 765 200 722 290 C700 340 680 380 655 415" stroke-width="42" opacity="0.19"/><path d="M900 15 C890 60 870 90 850 120" stroke-width="36" opacity="0.15"/><path d="M600 60 C560 90 500 100 450 110" stroke-width="36" opacity="0.11"/><path d="M320 620 C300 660 300 700 320 720" stroke-width="36" opacity="0.13"/></g><g filter="url(#bb6)" fill="none" stroke="#14060f" stroke-linecap="round"><path d="M300 660 C305 605 340 580 420 585 C520 590 600 560 700 510 C780 470 850 430 910 440 C940 450 948 480 940 505" stroke-width="16" opacity="0.55"/><path d="M495 810 C540 730 600 670 720 615 C800 585 900 570 1000 550" stroke-width="18" opacity="0.45"/><path d="M835 45 C805 120 765 200 722 290 C700 340 680 380 655 415" stroke-width="14" opacity="0.50"/><path d="M900 15 C890 60 870 90 850 120" stroke-width="12" opacity="0.40"/><path d="M600 60 C560 90 500 100 450 110" stroke-width="12" opacity="0.30"/><path d="M320 620 C300 660 300 700 320 720" stroke-width="12" opacity="0.35"/></g><g filter="url(#bb2)" fill="none" stroke="#14060f" stroke-linecap="round"><path d="M300 660 C305 605 340 580 420 585 C520 590 600 560 700 510 C780 470 850 430 910 440 C940 450 948 480 940 505" stroke-width="5" opacity="0.44"/><path d="M495 810 C540 730 600 670 720 615 C800 585 900 570 1000 550" stroke-width="6" opacity="0.36"/><path d="M835 45 C805 120 765 200 722 290 C700 340 680 380 655 415" stroke-width="4" opacity="0.40"/><path d="M900 15 C890 60 870 90 850 120" stroke-width="4" opacity="0.32"/><path d="M600 60 C560 90 500 100 450 110" stroke-width="4" opacity="0.24"/><path d="M320 620 C300 660 300 700 320 720" stroke-width="4" opacity="0.28"/></g><rect x="0" y="0" width="1500" height="1010" fill="url(#shade)"/><g filter="url(#bb12)"><path d="M420.0 100.0 C446.7 86.7 490.0 66.7 520.0 55.0 C550.0 43.3 566.7 36.7 600.0 30.0 C633.3 23.3 686.7 16.3 720.0 15.0 C753.3 13.7 778.3 22.5 800.0 22.0 C821.7 21.5 833.3 15.2 850.0 12.0 C866.7 8.8 881.7 3.3 900.0 3.0 C918.3 2.7 936.7 3.8 960.0 10.0 C983.3 16.2 1013.3 26.7 1040.0 40.0 C1066.7 53.3 1095.0 71.7 1120.0 90.0 C1145.0 108.3 1168.3 129.2 1190.0 150.0 C1211.7 170.8 1231.7 193.3 1250.0 215.0 C1268.3 236.7 1284.2 257.5 1300.0 280.0 C1315.8 302.5 1330.8 325.0 1345.0 350.0 C1359.2 375.0 1373.3 403.3 1385.0 430.0 C1396.7 456.7 1407.2 483.3 1415.0 510.0 C1422.8 536.7 1429.2 566.7 1432.0 590.0 C1434.8 613.3 1434.0 631.7 1432.0 650.0 C1430.0 668.3 1426.2 686.7 1420.0 700.0 C1413.8 713.3 1408.3 721.3 1395.0 730.0 C1381.7 738.7 1360.8 746.2 1340.0 752.0 C1319.2 757.8 1296.7 759.5 1270.0 765.0 C1243.3 770.5 1211.7 777.2 1180.0 785.0 C1148.3 792.8 1111.7 802.5 1080.0 812.0 C1048.3 821.5 1020.0 830.7 990.0 842.0 C960.0 853.3 928.3 867.0 900.0 880.0 C871.7 893.0 846.7 908.3 820.0 920.0 C793.3 931.7 766.7 941.3 740.0 950.0 C713.3 958.7 685.0 967.3 660.0 972.0 C635.0 976.7 611.7 980.0 590.0 978.0 C568.3 976.0 545.8 968.8 530.0 960.0 C514.2 951.2 503.7 938.3 495.0 925.0 C486.3 911.7 480.5 894.2 478.0 880.0 C475.5 865.8 477.7 850.8 480.0 840.0 C482.3 829.2 498.7 818.0 492.0 815.0 C485.3 812.0 458.7 820.8 440.0 822.0 C421.3 823.2 401.7 824.3 380.0 822.0 C358.3 819.7 333.3 814.2 310.0 808.0 C286.7 801.8 261.7 793.8 240.0 785.0 C218.3 776.2 198.3 766.7 180.0 755.0 C161.7 743.3 144.2 730.8 130.0 715.0 C115.8 699.2 104.7 680.0 95.0 660.0 C85.3 640.0 77.5 616.7 72.0 595.0 C66.5 573.3 62.7 551.7 62.0 530.0 C61.3 508.3 63.3 486.7 68.0 465.0 C72.7 443.3 80.5 420.8 90.0 400.0 C99.5 379.2 111.7 359.2 125.0 340.0 C138.3 320.8 153.3 303.3 170.0 285.0 C186.7 266.7 205.0 247.5 225.0 230.0 C245.0 212.5 267.5 195.8 290.0 180.0 C312.5 164.2 338.3 148.3 360.0 135.0 C381.7 121.7 393.3 113.3 420.0 100.0Z" fill="none" stroke="#1a0a1e" stroke-width="44" opacity=".34"/></g><g filter="url(#bb4)"><path d="M420.0 100.0 C446.7 86.7 490.0 66.7 520.0 55.0 C550.0 43.3 566.7 36.7 600.0 30.0 C633.3 23.3 686.7 16.3 720.0 15.0 C753.3 13.7 778.3 22.5 800.0 22.0 C821.7 21.5 833.3 15.2 850.0 12.0 C866.7 8.8 881.7 3.3 900.0 3.0 C918.3 2.7 936.7 3.8 960.0 10.0 C983.3 16.2 1013.3 26.7 1040.0 40.0 C1066.7 53.3 1095.0 71.7 1120.0 90.0 C1145.0 108.3 1168.3 129.2 1190.0 150.0 C1211.7 170.8 1231.7 193.3 1250.0 215.0 C1268.3 236.7 1284.2 257.5 1300.0 280.0 C1315.8 302.5 1330.8 325.0 1345.0 350.0 C1359.2 375.0 1373.3 403.3 1385.0 430.0 C1396.7 456.7 1407.2 483.3 1415.0 510.0 C1422.8 536.7 1429.2 566.7 1432.0 590.0 C1434.8 613.3 1434.0 631.7 1432.0 650.0 C1430.0 668.3 1426.2 686.7 1420.0 700.0 C1413.8 713.3 1408.3 721.3 1395.0 730.0 C1381.7 738.7 1360.8 746.2 1340.0 752.0 C1319.2 757.8 1296.7 759.5 1270.0 765.0 C1243.3 770.5 1211.7 777.2 1180.0 785.0 C1148.3 792.8 1111.7 802.5 1080.0 812.0 C1048.3 821.5 1020.0 830.7 990.0 842.0 C960.0 853.3 928.3 867.0 900.0 880.0 C871.7 893.0 846.7 908.3 820.0 920.0 C793.3 931.7 766.7 941.3 740.0 950.0 C713.3 958.7 685.0 967.3 660.0 972.0 C635.0 976.7 611.7 980.0 590.0 978.0 C568.3 976.0 545.8 968.8 530.0 960.0 C514.2 951.2 503.7 938.3 495.0 925.0 C486.3 911.7 480.5 894.2 478.0 880.0 C475.5 865.8 477.7 850.8 480.0 840.0 C482.3 829.2 498.7 818.0 492.0 815.0 C485.3 812.0 458.7 820.8 440.0 822.0 C421.3 823.2 401.7 824.3 380.0 822.0 C358.3 819.7 333.3 814.2 310.0 808.0 C286.7 801.8 261.7 793.8 240.0 785.0 C218.3 776.2 198.3 766.7 180.0 755.0 C161.7 743.3 144.2 730.8 130.0 715.0 C115.8 699.2 104.7 680.0 95.0 660.0 C85.3 640.0 77.5 616.7 72.0 595.0 C66.5 573.3 62.7 551.7 62.0 530.0 C61.3 508.3 63.3 486.7 68.0 465.0 C72.7 443.3 80.5 420.8 90.0 400.0 C99.5 379.2 111.7 359.2 125.0 340.0 C138.3 320.8 153.3 303.3 170.0 285.0 C186.7 266.7 205.0 247.5 225.0 230.0 C245.0 212.5 267.5 195.8 290.0 180.0 C312.5 164.2 338.3 148.3 360.0 135.0 C381.7 121.7 393.3 113.3 420.0 100.0Z" fill="none" stroke="#1a0a1e" stroke-width="13" opacity=".7"/></g></g></g>
<g transform="translate(345 20) scale(0.22836)"><clipPath id="brc2"><path d="M540.0 45.0 C565.0 42.5 590.0 50.5 620.0 50.0 C650.0 49.5 686.7 40.3 720.0 42.0 C753.3 43.7 786.7 52.0 820.0 60.0 C853.3 68.0 886.7 78.3 920.0 90.0 C953.3 101.7 988.3 115.0 1020.0 130.0 C1051.7 145.0 1081.7 161.7 1110.0 180.0 C1138.3 198.3 1165.0 218.3 1190.0 240.0 C1215.0 261.7 1238.3 285.0 1260.0 310.0 C1281.7 335.0 1302.5 363.3 1320.0 390.0 C1337.5 416.7 1352.5 443.3 1365.0 470.0 C1377.5 496.7 1387.8 523.3 1395.0 550.0 C1402.2 576.7 1406.3 605.0 1408.0 630.0 C1409.7 655.0 1408.8 678.3 1405.0 700.0 C1401.2 721.7 1395.8 741.7 1385.0 760.0 C1374.2 778.3 1359.2 795.8 1340.0 810.0 C1320.8 824.2 1296.7 836.3 1270.0 845.0 C1243.3 853.7 1211.7 858.2 1180.0 862.0 C1148.3 865.8 1110.0 868.0 1080.0 868.0 C1050.0 868.0 1015.8 860.0 1000.0 862.0 C984.2 864.0 985.8 870.3 985.0 880.0 C984.2 889.7 994.2 906.7 995.0 920.0 C995.8 933.3 995.8 948.3 990.0 960.0 C984.2 971.7 975.0 982.8 960.0 990.0 C945.0 997.2 921.7 1002.2 900.0 1003.0 C878.3 1003.8 853.3 1002.2 830.0 995.0 C806.7 987.8 785.0 973.3 760.0 960.0 C735.0 946.7 706.7 930.0 680.0 915.0 C653.3 900.0 626.7 883.3 600.0 870.0 C573.3 856.7 546.7 844.2 520.0 835.0 C493.3 825.8 468.3 820.8 440.0 815.0 C411.7 809.2 380.0 804.2 350.0 800.0 C320.0 795.8 288.3 794.2 260.0 790.0 C231.7 785.8 205.0 782.5 180.0 775.0 C155.0 767.5 129.2 757.5 110.0 745.0 C90.8 732.5 75.8 717.5 65.0 700.0 C54.2 682.5 47.8 661.7 45.0 640.0 C42.2 618.3 43.8 593.3 48.0 570.0 C52.2 546.7 61.3 523.3 70.0 500.0 C78.7 476.7 88.3 453.3 100.0 430.0 C111.7 406.7 125.0 383.3 140.0 360.0 C155.0 336.7 171.7 313.3 190.0 290.0 C208.3 266.7 228.3 241.7 250.0 220.0 C271.7 198.3 295.0 179.2 320.0 160.0 C345.0 140.8 375.0 120.8 400.0 105.0 C425.0 89.2 446.7 75.0 470.0 65.0 C493.3 55.0 515.0 47.5 540.0 45.0Z"/></clipPath><g clip-path="url(#brc2)"><path d="M540.0 45.0 C565.0 42.5 590.0 50.5 620.0 50.0 C650.0 49.5 686.7 40.3 720.0 42.0 C753.3 43.7 786.7 52.0 820.0 60.0 C853.3 68.0 886.7 78.3 920.0 90.0 C953.3 101.7 988.3 115.0 1020.0 130.0 C1051.7 145.0 1081.7 161.7 1110.0 180.0 C1138.3 198.3 1165.0 218.3 1190.0 240.0 C1215.0 261.7 1238.3 285.0 1260.0 310.0 C1281.7 335.0 1302.5 363.3 1320.0 390.0 C1337.5 416.7 1352.5 443.3 1365.0 470.0 C1377.5 496.7 1387.8 523.3 1395.0 550.0 C1402.2 576.7 1406.3 605.0 1408.0 630.0 C1409.7 655.0 1408.8 678.3 1405.0 700.0 C1401.2 721.7 1395.8 741.7 1385.0 760.0 C1374.2 778.3 1359.2 795.8 1340.0 810.0 C1320.8 824.2 1296.7 836.3 1270.0 845.0 C1243.3 853.7 1211.7 858.2 1180.0 862.0 C1148.3 865.8 1110.0 868.0 1080.0 868.0 C1050.0 868.0 1015.8 860.0 1000.0 862.0 C984.2 864.0 985.8 870.3 985.0 880.0 C984.2 889.7 994.2 906.7 995.0 920.0 C995.8 933.3 995.8 948.3 990.0 960.0 C984.2 971.7 975.0 982.8 960.0 990.0 C945.0 997.2 921.7 1002.2 900.0 1003.0 C878.3 1003.8 853.3 1002.2 830.0 995.0 C806.7 987.8 785.0 973.3 760.0 960.0 C735.0 946.7 706.7 930.0 680.0 915.0 C653.3 900.0 626.7 883.3 600.0 870.0 C573.3 856.7 546.7 844.2 520.0 835.0 C493.3 825.8 468.3 820.8 440.0 815.0 C411.7 809.2 380.0 804.2 350.0 800.0 C320.0 795.8 288.3 794.2 260.0 790.0 C231.7 785.8 205.0 782.5 180.0 775.0 C155.0 767.5 129.2 757.5 110.0 745.0 C90.8 732.5 75.8 717.5 65.0 700.0 C54.2 682.5 47.8 661.7 45.0 640.0 C42.2 618.3 43.8 593.3 48.0 570.0 C52.2 546.7 61.3 523.3 70.0 500.0 C78.7 476.7 88.3 453.3 100.0 430.0 C111.7 406.7 125.0 383.3 140.0 360.0 C155.0 336.7 171.7 313.3 190.0 290.0 C208.3 266.7 228.3 241.7 250.0 220.0 C271.7 198.3 295.0 179.2 320.0 160.0 C345.0 140.8 375.0 120.8 400.0 105.0 C425.0 89.2 446.7 75.0 470.0 65.0 C493.3 55.0 515.0 47.5 540.0 45.0Z" fill="#D4508A"/><g filter="url(#jag)"><path d="M230 230 L320 140 L400 90 L380 230 L350 280 L290 260Z" fill="#7E3191"/><path d="M50 500 L100 430 L190 290 L250 220 L290 260 L250 340 L190 360Z" fill="#E86A78"/><path d="M380 150 L470 60 L600 40 L640 180 L660 300 L560 340 L500 290 L360 290Z" fill="#E85488"/><path d="M600 40 L660 40 L700 130 L760 190 L800 200 L800 300 L660 300 L640 180Z" fill="#E4528A"/><path d="M660 40 L820 50 L830 150 L880 200 L760 190 L700 130Z" fill="#F3906A"/><path d="M820 50 L920 80 L1050 130 L1020 200 L880 200 L830 150Z" fill="#8B3593"/><path d="M800 200 L1020 200 L1100 260 L1110 440 L1000 420 L900 395 L800 385Z" fill="#C04592"/><path d="M1040 130 L1110 170 L1200 300 L1180 330 L1230 420 L1130 440 L1100 260 L1020 200Z" fill="#F49E72"/><path d="M1040 130 L1110 170 L1120 230 L1050 230 L1020 200Z" fill="#F07E62"/><path d="M1190 230 L1330 380 L1420 550 L1340 560 L1300 480 L1230 420 L1180 330 L1200 300Z" fill="#7B2F90"/><path d="M1110 440 L1230 420 L1300 480 L1340 560 L1350 660 L1300 720 L1270 790 L1180 800 L1160 740 L1200 620 L1180 560 L1140 510Z" fill="#F3876A"/><path d="M1340 560 L1430 550 L1430 700 L1395 790 L1270 860 L1270 790 L1300 720 L1350 660Z" fill="#9A3995"/><path d="M1010 770 L1070 740 L1130 700 L1160 740 L1180 800 L1180 880 L990 880 L975 810Z" fill="#E85488"/><path d="M1160 760 L1270 790 L1270 860 L1180 880Z" fill="#8B3593"/><path d="M250 340 L290 260 L350 280 L500 290 L560 340 L600 410 L520 450 L480 500 L400 480 L350 440 L300 380Z" fill="#8C3493"/><path d="M560 340 L660 300 L800 300 L800 385 L700 390 L600 410Z" fill="#7A2F92"/><path d="M100 430 L190 360 L250 340 L300 380 L350 440 L400 480 L480 500 L465 580 L490 640 L440 700 L330 680 L240 640 L180 560 L40 560 L60 480Z" fill="#F08A66"/><path d="M185 450 L215 440 L240 520 L215 545 L195 500Z" fill="#FADCA0"/><path d="M330 435 L365 430 L370 465 L340 470Z" fill="#FADCA0"/><path d="M30 570 L180 560 L240 640 L330 680 L300 740 L180 790 L100 760 L50 710Z" fill="#E85C78"/><path d="M50 700 L150 710 L170 780 L100 760Z" fill="#9A3995"/><path d="M330 680 L440 700 L450 830 L350 815 L310 760Z" fill="#F08A66"/><path d="M180 790 L300 740 L310 760 L350 815 L260 805Z" fill="#E86078"/><path d="M440 700 L490 640 L530 700 L590 760 L660 810 L600 885 L520 850 L450 830Z" fill="#D04C8A"/><path d="M590 760 L660 810 L740 850 L800 890 L850 930 L900 950 L940 940 L1010 900 L1000 970 L900 1020 L760 975 L600 885Z" fill="#8B3593"/><path d="M700 900 L780 910 L830 960 L760 965Z" fill="#4B2C7A"/></g><g filter="url(#bb12)" fill="none" stroke="#fff" stroke-linecap="round"><path d="M480 190 C560 250 680 260 780 230" stroke-width="30" opacity="0.20"/><path d="M200 560 C260 620 340 650 430 670" stroke-width="26" opacity="0.25"/><path d="M150 420 C250 380 300 400 360 440" stroke-width="40" opacity="0.15"/></g><g filter="url(#bb12)" fill="none" stroke="#1a0818" stroke-linecap="round"><path d="M235 625 C290 660 350 690 430 705" stroke-width="36" opacity="0.19"/><path d="M500 230 C560 290 680 300 780 270" stroke-width="42" opacity="0.11"/><path d="M330 760 C420 790 520 820 600 860" stroke-width="36" opacity="0.11"/></g><g filter="url(#bb6)" fill="none" stroke="#14060f" stroke-linecap="round"><path d="M235 625 C290 660 350 690 430 705" stroke-width="12" opacity="0.50"/><path d="M500 230 C560 290 680 300 780 270" stroke-width="14" opacity="0.28"/><path d="M330 760 C420 790 520 820 600 860" stroke-width="12" opacity="0.30"/></g><g filter="url(#bb2)"><path d="M480.0 500.0 C489.2 478.3 500.0 465.0 520.0 450.0 C540.0 435.0 570.0 420.0 600.0 410.0 C630.0 400.0 666.7 394.2 700.0 390.0 C733.3 385.8 766.7 384.2 800.0 385.0 C833.3 385.8 866.7 389.2 900.0 395.0 C933.3 400.8 970.0 409.2 1000.0 420.0 C1030.0 430.8 1056.7 445.0 1080.0 460.0 C1103.3 475.0 1123.3 493.3 1140.0 510.0 C1156.7 526.7 1170.0 541.7 1180.0 560.0 C1190.0 578.3 1200.0 603.3 1200.0 620.0 C1200.0 636.7 1191.7 646.7 1180.0 660.0 C1168.3 673.3 1148.3 686.7 1130.0 700.0 C1111.7 713.3 1090.0 728.3 1070.0 740.0 C1050.0 751.7 1025.8 758.3 1010.0 770.0 C994.2 781.7 982.5 795.0 975.0 810.0 C967.5 825.0 967.5 845.0 965.0 860.0 C962.5 875.0 964.2 886.7 960.0 900.0 C955.8 913.3 950.0 931.7 940.0 940.0 C930.0 948.3 915.0 951.7 900.0 950.0 C885.0 948.3 866.7 940.0 850.0 930.0 C833.3 920.0 818.3 903.3 800.0 890.0 C781.7 876.7 763.3 863.3 740.0 850.0 C716.7 836.7 685.0 825.0 660.0 810.0 C635.0 795.0 611.7 778.3 590.0 760.0 C568.3 741.7 546.7 720.0 530.0 700.0 C513.3 680.0 500.8 660.0 490.0 640.0 C479.2 620.0 466.7 603.3 465.0 580.0 C463.3 556.7 470.8 521.7 480.0 500.0Z" fill="#3a3a3a"/></g><g filter="url(#bb2)" fill="none" stroke="#14060f" stroke-linecap="round"><path d="M235 625 C290 660 350 690 430 705" stroke-width="4" opacity="0.40"/><path d="M500 230 C560 290 680 300 780 270" stroke-width="4" opacity="0.22"/><path d="M330 760 C420 790 520 820 600 860" stroke-width="4" opacity="0.24"/></g><rect x="0" y="0" width="1500" height="1010" fill="url(#shade)"/><g filter="url(#bb12)"><path d="M540.0 45.0 C565.0 42.5 590.0 50.5 620.0 50.0 C650.0 49.5 686.7 40.3 720.0 42.0 C753.3 43.7 786.7 52.0 820.0 60.0 C853.3 68.0 886.7 78.3 920.0 90.0 C953.3 101.7 988.3 115.0 1020.0 130.0 C1051.7 145.0 1081.7 161.7 1110.0 180.0 C1138.3 198.3 1165.0 218.3 1190.0 240.0 C1215.0 261.7 1238.3 285.0 1260.0 310.0 C1281.7 335.0 1302.5 363.3 1320.0 390.0 C1337.5 416.7 1352.5 443.3 1365.0 470.0 C1377.5 496.7 1387.8 523.3 1395.0 550.0 C1402.2 576.7 1406.3 605.0 1408.0 630.0 C1409.7 655.0 1408.8 678.3 1405.0 700.0 C1401.2 721.7 1395.8 741.7 1385.0 760.0 C1374.2 778.3 1359.2 795.8 1340.0 810.0 C1320.8 824.2 1296.7 836.3 1270.0 845.0 C1243.3 853.7 1211.7 858.2 1180.0 862.0 C1148.3 865.8 1110.0 868.0 1080.0 868.0 C1050.0 868.0 1015.8 860.0 1000.0 862.0 C984.2 864.0 985.8 870.3 985.0 880.0 C984.2 889.7 994.2 906.7 995.0 920.0 C995.8 933.3 995.8 948.3 990.0 960.0 C984.2 971.7 975.0 982.8 960.0 990.0 C945.0 997.2 921.7 1002.2 900.0 1003.0 C878.3 1003.8 853.3 1002.2 830.0 995.0 C806.7 987.8 785.0 973.3 760.0 960.0 C735.0 946.7 706.7 930.0 680.0 915.0 C653.3 900.0 626.7 883.3 600.0 870.0 C573.3 856.7 546.7 844.2 520.0 835.0 C493.3 825.8 468.3 820.8 440.0 815.0 C411.7 809.2 380.0 804.2 350.0 800.0 C320.0 795.8 288.3 794.2 260.0 790.0 C231.7 785.8 205.0 782.5 180.0 775.0 C155.0 767.5 129.2 757.5 110.0 745.0 C90.8 732.5 75.8 717.5 65.0 700.0 C54.2 682.5 47.8 661.7 45.0 640.0 C42.2 618.3 43.8 593.3 48.0 570.0 C52.2 546.7 61.3 523.3 70.0 500.0 C78.7 476.7 88.3 453.3 100.0 430.0 C111.7 406.7 125.0 383.3 140.0 360.0 C155.0 336.7 171.7 313.3 190.0 290.0 C208.3 266.7 228.3 241.7 250.0 220.0 C271.7 198.3 295.0 179.2 320.0 160.0 C345.0 140.8 375.0 120.8 400.0 105.0 C425.0 89.2 446.7 75.0 470.0 65.0 C493.3 55.0 515.0 47.5 540.0 45.0Z" fill="none" stroke="#1a0a1e" stroke-width="44" opacity=".34"/></g><g filter="url(#bb4)"><path d="M540.0 45.0 C565.0 42.5 590.0 50.5 620.0 50.0 C650.0 49.5 686.7 40.3 720.0 42.0 C753.3 43.7 786.7 52.0 820.0 60.0 C853.3 68.0 886.7 78.3 920.0 90.0 C953.3 101.7 988.3 115.0 1020.0 130.0 C1051.7 145.0 1081.7 161.7 1110.0 180.0 C1138.3 198.3 1165.0 218.3 1190.0 240.0 C1215.0 261.7 1238.3 285.0 1260.0 310.0 C1281.7 335.0 1302.5 363.3 1320.0 390.0 C1337.5 416.7 1352.5 443.3 1365.0 470.0 C1377.5 496.7 1387.8 523.3 1395.0 550.0 C1402.2 576.7 1406.3 605.0 1408.0 630.0 C1409.7 655.0 1408.8 678.3 1405.0 700.0 C1401.2 721.7 1395.8 741.7 1385.0 760.0 C1374.2 778.3 1359.2 795.8 1340.0 810.0 C1320.8 824.2 1296.7 836.3 1270.0 845.0 C1243.3 853.7 1211.7 858.2 1180.0 862.0 C1148.3 865.8 1110.0 868.0 1080.0 868.0 C1050.0 868.0 1015.8 860.0 1000.0 862.0 C984.2 864.0 985.8 870.3 985.0 880.0 C984.2 889.7 994.2 906.7 995.0 920.0 C995.8 933.3 995.8 948.3 990.0 960.0 C984.2 971.7 975.0 982.8 960.0 990.0 C945.0 997.2 921.7 1002.2 900.0 1003.0 C878.3 1003.8 853.3 1002.2 830.0 995.0 C806.7 987.8 785.0 973.3 760.0 960.0 C735.0 946.7 706.7 930.0 680.0 915.0 C653.3 900.0 626.7 883.3 600.0 870.0 C573.3 856.7 546.7 844.2 520.0 835.0 C493.3 825.8 468.3 820.8 440.0 815.0 C411.7 809.2 380.0 804.2 350.0 800.0 C320.0 795.8 288.3 794.2 260.0 790.0 C231.7 785.8 205.0 782.5 180.0 775.0 C155.0 767.5 129.2 757.5 110.0 745.0 C90.8 732.5 75.8 717.5 65.0 700.0 C54.2 682.5 47.8 661.7 45.0 640.0 C42.2 618.3 43.8 593.3 48.0 570.0 C52.2 546.7 61.3 523.3 70.0 500.0 C78.7 476.7 88.3 453.3 100.0 430.0 C111.7 406.7 125.0 383.3 140.0 360.0 C155.0 336.7 171.7 313.3 190.0 290.0 C208.3 266.7 228.3 241.7 250.0 220.0 C271.7 198.3 295.0 179.2 320.0 160.0 C345.0 140.8 375.0 120.8 400.0 105.0 C425.0 89.2 446.7 75.0 470.0 65.0 C493.3 55.0 515.0 47.5 540.0 45.0Z" fill="none" stroke="#1a0a1e" stroke-width="13" opacity=".7"/></g></g></g>
<g transform="translate(670 25) scale(0.22836)"><clipPath id="brc3"><path d="M530.0 12.0 C556.7 10.3 571.7 17.8 600.0 20.0 C628.3 22.2 666.7 22.5 700.0 25.0 C733.3 27.5 766.7 29.2 800.0 35.0 C833.3 40.8 866.7 47.5 900.0 60.0 C933.3 72.5 968.3 90.8 1000.0 110.0 C1031.7 129.2 1061.7 151.7 1090.0 175.0 C1118.3 198.3 1145.0 224.2 1170.0 250.0 C1195.0 275.8 1218.3 301.7 1240.0 330.0 C1261.7 358.3 1282.5 390.0 1300.0 420.0 C1317.5 450.0 1332.5 480.0 1345.0 510.0 C1357.5 540.0 1369.5 571.7 1375.0 600.0 C1380.5 628.3 1381.3 656.7 1378.0 680.0 C1374.7 703.3 1366.3 721.7 1355.0 740.0 C1343.7 758.3 1327.5 776.7 1310.0 790.0 C1292.5 803.3 1271.7 812.5 1250.0 820.0 C1228.3 827.5 1205.0 831.7 1180.0 835.0 C1155.0 838.3 1126.7 839.2 1100.0 840.0 C1073.3 840.8 1043.3 839.2 1020.0 840.0 C996.7 840.8 967.5 835.0 960.0 845.0 C952.5 855.0 973.3 882.5 975.0 900.0 C976.7 917.5 975.8 935.0 970.0 950.0 C964.2 965.0 953.3 981.2 940.0 990.0 C926.7 998.8 910.0 1003.0 890.0 1003.0 C870.0 1003.0 845.0 998.8 820.0 990.0 C795.0 981.2 766.7 963.3 740.0 950.0 C713.3 936.7 688.3 923.3 660.0 910.0 C631.7 896.7 600.0 882.5 570.0 870.0 C540.0 857.5 510.0 845.0 480.0 835.0 C450.0 825.0 420.0 817.5 390.0 810.0 C360.0 802.5 330.0 798.3 300.0 790.0 C270.0 781.7 238.3 771.7 210.0 760.0 C181.7 748.3 153.3 735.0 130.0 720.0 C106.7 705.0 86.7 688.3 70.0 670.0 C53.3 651.7 39.2 630.0 30.0 610.0 C20.8 590.0 15.8 571.7 15.0 550.0 C14.2 528.3 18.3 503.3 25.0 480.0 C31.7 456.7 42.5 433.3 55.0 410.0 C67.5 386.7 84.2 363.3 100.0 340.0 C115.8 316.7 131.7 293.3 150.0 270.0 C168.3 246.7 188.3 223.3 210.0 200.0 C231.7 176.7 255.0 151.7 280.0 130.0 C305.0 108.3 333.3 86.7 360.0 70.0 C386.7 53.3 411.7 39.7 440.0 30.0 C468.3 20.3 503.3 13.7 530.0 12.0Z"/></clipPath><g clip-path="url(#brc3)"><path d="M530.0 12.0 C556.7 10.3 571.7 17.8 600.0 20.0 C628.3 22.2 666.7 22.5 700.0 25.0 C733.3 27.5 766.7 29.2 800.0 35.0 C833.3 40.8 866.7 47.5 900.0 60.0 C933.3 72.5 968.3 90.8 1000.0 110.0 C1031.7 129.2 1061.7 151.7 1090.0 175.0 C1118.3 198.3 1145.0 224.2 1170.0 250.0 C1195.0 275.8 1218.3 301.7 1240.0 330.0 C1261.7 358.3 1282.5 390.0 1300.0 420.0 C1317.5 450.0 1332.5 480.0 1345.0 510.0 C1357.5 540.0 1369.5 571.7 1375.0 600.0 C1380.5 628.3 1381.3 656.7 1378.0 680.0 C1374.7 703.3 1366.3 721.7 1355.0 740.0 C1343.7 758.3 1327.5 776.7 1310.0 790.0 C1292.5 803.3 1271.7 812.5 1250.0 820.0 C1228.3 827.5 1205.0 831.7 1180.0 835.0 C1155.0 838.3 1126.7 839.2 1100.0 840.0 C1073.3 840.8 1043.3 839.2 1020.0 840.0 C996.7 840.8 967.5 835.0 960.0 845.0 C952.5 855.0 973.3 882.5 975.0 900.0 C976.7 917.5 975.8 935.0 970.0 950.0 C964.2 965.0 953.3 981.2 940.0 990.0 C926.7 998.8 910.0 1003.0 890.0 1003.0 C870.0 1003.0 845.0 998.8 820.0 990.0 C795.0 981.2 766.7 963.3 740.0 950.0 C713.3 936.7 688.3 923.3 660.0 910.0 C631.7 896.7 600.0 882.5 570.0 870.0 C540.0 857.5 510.0 845.0 480.0 835.0 C450.0 825.0 420.0 817.5 390.0 810.0 C360.0 802.5 330.0 798.3 300.0 790.0 C270.0 781.7 238.3 771.7 210.0 760.0 C181.7 748.3 153.3 735.0 130.0 720.0 C106.7 705.0 86.7 688.3 70.0 670.0 C53.3 651.7 39.2 630.0 30.0 610.0 C20.8 590.0 15.8 571.7 15.0 550.0 C14.2 528.3 18.3 503.3 25.0 480.0 C31.7 456.7 42.5 433.3 55.0 410.0 C67.5 386.7 84.2 363.3 100.0 340.0 C115.8 316.7 131.7 293.3 150.0 270.0 C168.3 246.7 188.3 223.3 210.0 200.0 C231.7 176.7 255.0 151.7 280.0 130.0 C305.0 108.3 333.3 86.7 360.0 70.0 C386.7 53.3 411.7 39.7 440.0 30.0 C468.3 20.3 503.3 13.7 530.0 12.0Z" fill="#C4468F"/><g filter="url(#jag)"><path d="M190 200 L360 50 L460 20 L400 130 L380 180 L300 220 L230 230Z" fill="#B04094"/><path d="M390 90 L500 70 L520 150 L440 170 L390 160Z" fill="#E85488"/><path d="M500 0 L600 10 L600 140 L520 150 L500 70Z" fill="#9A3995"/><path d="M440 170 L520 150 L600 140 L680 200 L660 240 L560 250 L440 220Z" fill="#F08864"/><path d="M600 10 L720 20 L800 100 L780 200 L800 320 L720 300 L680 200 L600 140Z" fill="#A83C96"/><path d="M780 20 L900 45 L1010 100 L1020 140 L900 130 L800 100Z" fill="#F49A6E"/><path d="M1010 100 L1100 170 L1260 330 L1150 340 L1050 250 L1000 200 L1020 140Z" fill="#7B2F90"/><path d="M800 100 L900 130 L1020 140 L1000 200 L1050 250 L1130 330 L1120 420 L1000 420 L940 300 L870 230 L780 200Z" fill="#C24792"/><path d="M560 250 L660 240 L720 300 L800 320 L860 330 L890 400 L900 480 L940 560 L900 600 L800 560 L700 500 L620 450 L570 380Z" fill="#DC508A"/><path d="M580 260 L700 240 L720 300 L640 340 L580 330Z" fill="#EE6E6E"/><path d="M780 200 L870 230 L850 240 L860 330 L800 320Z" fill="#C24792"/><path d="M850 240 L900 280 L940 380 L1000 440 L1060 500 L1100 580 L1000 600 L940 560 L900 480 L890 400 L860 330Z" fill="#F49A70"/><path d="M1130 330 L1150 340 L1250 320 L1270 400 L1240 470 L1180 450 L1120 420Z" fill="#F08864"/><path d="M1250 320 L1360 500 L1400 680 L1300 700 L1260 600 L1240 470 L1270 400Z" fill="#7E3191"/><path d="M1000 420 L1120 420 L1180 450 L1240 470 L1260 600 L1300 700 L1260 840 L1100 860 L1150 700 L1100 580 L1060 500Z" fill="#C04592"/><path d="M1200 580 L1260 600 L1300 700 L1280 760 L1200 740 L1180 650Z" fill="#E85488"/><path d="M820 620 L900 600 L1000 600 L1100 580 L1150 700 L1100 860 L1000 860 L1000 760 L900 720 L830 680Z" fill="#E85488"/><path d="M230 230 L300 220 L440 220 L470 300 L500 380 L480 470 L520 540 L440 600 L330 560 L230 570 L200 520 L210 440 L190 380 L200 260Z" fill="#7E3191"/><path d="M240 290 L290 265 L300 300 L350 310 L345 410 L235 415Z" fill="#1A1A1A"/><path d="M40 410 L100 330 L150 260 L200 260 L190 380 L210 440 L200 520 L100 520 L20 540Z" fill="#E8686F"/><path d="M40 470 L80 440 L100 520 L40 540Z" fill="#F08864"/><path d="M0 550 L100 520 L200 520 L230 570 L250 700 L210 780 L130 740 L60 680 L20 620Z" fill="#DC508A"/><path d="M110 690 L240 690 L250 790 L180 770 L120 730Z" fill="#F08864"/><path d="M230 570 L330 560 L440 600 L460 680 L480 850 L390 825 L300 805 L250 700Z" fill="#B84294"/><path d="M470 300 L560 250 L570 380 L620 450 L560 500 L480 470 L500 380Z" fill="#C24792"/><path d="M480 470 L560 500 L620 450 L700 500 L800 560 L820 620 L800 620 L700 560 L600 520 L520 540Z" fill="#A83C96"/><path d="M440 600 L520 540 L600 520 L700 560 L800 620 L830 680 L900 720 L960 760 L990 900 L960 1010 L890 1020 L740 965 L570 885 L480 850 L460 680Z" fill="#6D2E8C"/><path d="M460 680 L560 690 L640 740 L740 800 L830 830 L820 900 L740 940 L660 910 L570 870 L490 800Z" fill="#3A2A58"/><path d="M830 690 L900 720 L980 760 L970 840 L900 800 L840 760Z" fill="#5E2C86"/><path d="M1210 790 L1300 760 L1330 800 L1250 840Z" fill="#2A1A30"/></g><g filter="url(#bb12)" fill="none" stroke="#fff" stroke-linecap="round"><path d="M640 60 C680 150 740 230 800 320" stroke-width="26" opacity="0.22"/><path d="M640 440 C720 470 820 500 920 550 C1000 570 1080 560 1140 600" stroke-width="26" opacity="0.22"/><path d="M880 280 C920 380 1000 460 1080 540" stroke-width="28" opacity="0.20"/><path d="M540 620 C640 680 780 760 900 830" stroke-width="40" opacity="0.12"/><path d="M420 260 C500 250 560 270 590 300" stroke-width="22" opacity="0.18"/></g><g filter="url(#bb12)" fill="none" stroke="#1a0818" stroke-linecap="round"><path d="M595 30 C620 90 680 180 730 260 C760 310 790 350 812 385" stroke-width="39" opacity="0.21"/><path d="M610 250 C575 330 560 420 600 470 C680 510 800 540 900 590 C980 615 1080 590 1130 640 C1152 670 1152 700 1140 725" stroke-width="48" opacity="0.23"/><path d="M520 560 C620 620 760 700 900 780 C940 810 960 840 967 865" stroke-width="48" opacity="0.17"/><path d="M800 85 C880 130 960 160 1030 200" stroke-width="36" opacity="0.15"/><path d="M330 235 C450 210 530 215 610 250" stroke-width="36" opacity="0.15"/><path d="M700 45 C740 120 780 160 800 200" stroke-width="30" opacity="0.11"/></g><g filter="url(#bb6)" fill="none" stroke="#14060f" stroke-linecap="round"><path d="M595 30 C620 90 680 180 730 260 C760 310 790 350 812 385" stroke-width="13" opacity="0.55"/><path d="M610 250 C575 330 560 420 600 470 C680 510 800 540 900 590 C980 615 1080 590 1130 640 C1152 670 1152 700 1140 725" stroke-width="16" opacity="0.60"/><path d="M520 560 C620 620 760 700 900 780 C940 810 960 840 967 865" stroke-width="16" opacity="0.45"/><path d="M800 85 C880 130 960 160 1030 200" stroke-width="12" opacity="0.40"/><path d="M330 235 C450 210 530 215 610 250" stroke-width="12" opacity="0.40"/><path d="M700 45 C740 120 780 160 800 200" stroke-width="10" opacity="0.30"/></g><g filter="url(#bb2)" fill="none" stroke="#14060f" stroke-linecap="round"><path d="M595 30 C620 90 680 180 730 260 C760 310 790 350 812 385" stroke-width="4" opacity="0.44"/><path d="M610 250 C575 330 560 420 600 470 C680 510 800 540 900 590 C980 615 1080 590 1130 640 C1152 670 1152 700 1140 725" stroke-width="5" opacity="0.48"/><path d="M520 560 C620 620 760 700 900 780 C940 810 960 840 967 865" stroke-width="5" opacity="0.36"/><path d="M800 85 C880 130 960 160 1030 200" stroke-width="4" opacity="0.32"/><path d="M330 235 C450 210 530 215 610 250" stroke-width="4" opacity="0.32"/><path d="M700 45 C740 120 780 160 800 200" stroke-width="3" opacity="0.24"/></g><rect x="0" y="0" width="1500" height="1010" fill="url(#shade)"/><g filter="url(#bb12)"><path d="M530.0 12.0 C556.7 10.3 571.7 17.8 600.0 20.0 C628.3 22.2 666.7 22.5 700.0 25.0 C733.3 27.5 766.7 29.2 800.0 35.0 C833.3 40.8 866.7 47.5 900.0 60.0 C933.3 72.5 968.3 90.8 1000.0 110.0 C1031.7 129.2 1061.7 151.7 1090.0 175.0 C1118.3 198.3 1145.0 224.2 1170.0 250.0 C1195.0 275.8 1218.3 301.7 1240.0 330.0 C1261.7 358.3 1282.5 390.0 1300.0 420.0 C1317.5 450.0 1332.5 480.0 1345.0 510.0 C1357.5 540.0 1369.5 571.7 1375.0 600.0 C1380.5 628.3 1381.3 656.7 1378.0 680.0 C1374.7 703.3 1366.3 721.7 1355.0 740.0 C1343.7 758.3 1327.5 776.7 1310.0 790.0 C1292.5 803.3 1271.7 812.5 1250.0 820.0 C1228.3 827.5 1205.0 831.7 1180.0 835.0 C1155.0 838.3 1126.7 839.2 1100.0 840.0 C1073.3 840.8 1043.3 839.2 1020.0 840.0 C996.7 840.8 967.5 835.0 960.0 845.0 C952.5 855.0 973.3 882.5 975.0 900.0 C976.7 917.5 975.8 935.0 970.0 950.0 C964.2 965.0 953.3 981.2 940.0 990.0 C926.7 998.8 910.0 1003.0 890.0 1003.0 C870.0 1003.0 845.0 998.8 820.0 990.0 C795.0 981.2 766.7 963.3 740.0 950.0 C713.3 936.7 688.3 923.3 660.0 910.0 C631.7 896.7 600.0 882.5 570.0 870.0 C540.0 857.5 510.0 845.0 480.0 835.0 C450.0 825.0 420.0 817.5 390.0 810.0 C360.0 802.5 330.0 798.3 300.0 790.0 C270.0 781.7 238.3 771.7 210.0 760.0 C181.7 748.3 153.3 735.0 130.0 720.0 C106.7 705.0 86.7 688.3 70.0 670.0 C53.3 651.7 39.2 630.0 30.0 610.0 C20.8 590.0 15.8 571.7 15.0 550.0 C14.2 528.3 18.3 503.3 25.0 480.0 C31.7 456.7 42.5 433.3 55.0 410.0 C67.5 386.7 84.2 363.3 100.0 340.0 C115.8 316.7 131.7 293.3 150.0 270.0 C168.3 246.7 188.3 223.3 210.0 200.0 C231.7 176.7 255.0 151.7 280.0 130.0 C305.0 108.3 333.3 86.7 360.0 70.0 C386.7 53.3 411.7 39.7 440.0 30.0 C468.3 20.3 503.3 13.7 530.0 12.0Z" fill="none" stroke="#1a0a1e" stroke-width="44" opacity=".34"/></g><g filter="url(#bb4)"><path d="M530.0 12.0 C556.7 10.3 571.7 17.8 600.0 20.0 C628.3 22.2 666.7 22.5 700.0 25.0 C733.3 27.5 766.7 29.2 800.0 35.0 C833.3 40.8 866.7 47.5 900.0 60.0 C933.3 72.5 968.3 90.8 1000.0 110.0 C1031.7 129.2 1061.7 151.7 1090.0 175.0 C1118.3 198.3 1145.0 224.2 1170.0 250.0 C1195.0 275.8 1218.3 301.7 1240.0 330.0 C1261.7 358.3 1282.5 390.0 1300.0 420.0 C1317.5 450.0 1332.5 480.0 1345.0 510.0 C1357.5 540.0 1369.5 571.7 1375.0 600.0 C1380.5 628.3 1381.3 656.7 1378.0 680.0 C1374.7 703.3 1366.3 721.7 1355.0 740.0 C1343.7 758.3 1327.5 776.7 1310.0 790.0 C1292.5 803.3 1271.7 812.5 1250.0 820.0 C1228.3 827.5 1205.0 831.7 1180.0 835.0 C1155.0 838.3 1126.7 839.2 1100.0 840.0 C1073.3 840.8 1043.3 839.2 1020.0 840.0 C996.7 840.8 967.5 835.0 960.0 845.0 C952.5 855.0 973.3 882.5 975.0 900.0 C976.7 917.5 975.8 935.0 970.0 950.0 C964.2 965.0 953.3 981.2 940.0 990.0 C926.7 998.8 910.0 1003.0 890.0 1003.0 C870.0 1003.0 845.0 998.8 820.0 990.0 C795.0 981.2 766.7 963.3 740.0 950.0 C713.3 936.7 688.3 923.3 660.0 910.0 C631.7 896.7 600.0 882.5 570.0 870.0 C540.0 857.5 510.0 845.0 480.0 835.0 C450.0 825.0 420.0 817.5 390.0 810.0 C360.0 802.5 330.0 798.3 300.0 790.0 C270.0 781.7 238.3 771.7 210.0 760.0 C181.7 748.3 153.3 735.0 130.0 720.0 C106.7 705.0 86.7 688.3 70.0 670.0 C53.3 651.7 39.2 630.0 30.0 610.0 C20.8 590.0 15.8 571.7 15.0 550.0 C14.2 528.3 18.3 503.3 25.0 480.0 C31.7 456.7 42.5 433.3 55.0 410.0 C67.5 386.7 84.2 363.3 100.0 340.0 C115.8 316.7 131.7 293.3 150.0 270.0 C168.3 246.7 188.3 223.3 210.0 200.0 C231.7 176.7 255.0 151.7 280.0 130.0 C305.0 108.3 333.3 86.7 360.0 70.0 C386.7 53.3 411.7 39.7 440.0 30.0 C468.3 20.3 503.3 13.7 530.0 12.0Z" fill="none" stroke="#1a0a1e" stroke-width="13" opacity=".7"/></g></g></g>
<g transform="translate(985 25) scale(0.22836)"><clipPath id="brc4"><path d="M880.0 12.0 C900.0 13.2 933.3 17.0 960.0 25.0 C986.7 33.0 1013.3 45.0 1040.0 60.0 C1066.7 75.0 1095.0 95.0 1120.0 115.0 C1145.0 135.0 1168.3 157.5 1190.0 180.0 C1211.7 202.5 1231.7 226.7 1250.0 250.0 C1268.3 273.3 1284.2 295.0 1300.0 320.0 C1315.8 345.0 1331.7 373.3 1345.0 400.0 C1358.3 426.7 1370.8 453.3 1380.0 480.0 C1389.2 506.7 1395.8 535.0 1400.0 560.0 C1404.2 585.0 1406.7 608.3 1405.0 630.0 C1403.3 651.7 1399.2 672.5 1390.0 690.0 C1380.8 707.5 1366.7 722.5 1350.0 735.0 C1333.3 747.5 1313.3 755.8 1290.0 765.0 C1266.7 774.2 1238.3 781.7 1210.0 790.0 C1181.7 798.3 1150.0 805.8 1120.0 815.0 C1090.0 824.2 1060.0 834.2 1030.0 845.0 C1000.0 855.8 970.0 868.3 940.0 880.0 C910.0 891.7 880.0 903.3 850.0 915.0 C820.0 926.7 788.3 940.0 760.0 950.0 C731.7 960.0 706.7 967.5 680.0 975.0 C653.3 982.5 625.0 990.8 600.0 995.0 C575.0 999.2 550.8 1002.5 530.0 1000.0 C509.2 997.5 489.2 990.0 475.0 980.0 C460.8 970.0 450.8 955.0 445.0 940.0 C439.2 925.0 437.5 905.0 440.0 890.0 C442.5 875.0 453.3 860.0 460.0 850.0 C466.7 840.0 486.7 833.3 480.0 830.0 C473.3 826.7 445.0 830.8 420.0 830.0 C395.0 829.2 358.3 829.2 330.0 825.0 C301.7 820.8 276.7 814.2 250.0 805.0 C223.3 795.8 193.3 784.2 170.0 770.0 C146.7 755.8 127.5 738.3 110.0 720.0 C92.5 701.7 76.7 681.7 65.0 660.0 C53.3 638.3 44.5 613.3 40.0 590.0 C35.5 566.7 35.5 543.3 38.0 520.0 C40.5 496.7 46.3 473.3 55.0 450.0 C63.7 426.7 75.8 403.3 90.0 380.0 C104.2 356.7 121.7 332.5 140.0 310.0 C158.3 287.5 178.3 265.8 200.0 245.0 C221.7 224.2 245.0 203.3 270.0 185.0 C295.0 166.7 321.7 150.0 350.0 135.0 C378.3 120.0 410.0 107.5 440.0 95.0 C470.0 82.5 500.0 69.2 530.0 60.0 C560.0 50.8 588.3 45.0 620.0 40.0 C651.7 35.0 690.0 32.5 720.0 30.0 C750.0 27.5 780.0 27.0 800.0 25.0 C820.0 23.0 826.7 20.2 840.0 18.0 C853.3 15.8 860.0 10.8 880.0 12.0Z"/></clipPath><g clip-path="url(#brc4)"><path d="M880.0 12.0 C900.0 13.2 933.3 17.0 960.0 25.0 C986.7 33.0 1013.3 45.0 1040.0 60.0 C1066.7 75.0 1095.0 95.0 1120.0 115.0 C1145.0 135.0 1168.3 157.5 1190.0 180.0 C1211.7 202.5 1231.7 226.7 1250.0 250.0 C1268.3 273.3 1284.2 295.0 1300.0 320.0 C1315.8 345.0 1331.7 373.3 1345.0 400.0 C1358.3 426.7 1370.8 453.3 1380.0 480.0 C1389.2 506.7 1395.8 535.0 1400.0 560.0 C1404.2 585.0 1406.7 608.3 1405.0 630.0 C1403.3 651.7 1399.2 672.5 1390.0 690.0 C1380.8 707.5 1366.7 722.5 1350.0 735.0 C1333.3 747.5 1313.3 755.8 1290.0 765.0 C1266.7 774.2 1238.3 781.7 1210.0 790.0 C1181.7 798.3 1150.0 805.8 1120.0 815.0 C1090.0 824.2 1060.0 834.2 1030.0 845.0 C1000.0 855.8 970.0 868.3 940.0 880.0 C910.0 891.7 880.0 903.3 850.0 915.0 C820.0 926.7 788.3 940.0 760.0 950.0 C731.7 960.0 706.7 967.5 680.0 975.0 C653.3 982.5 625.0 990.8 600.0 995.0 C575.0 999.2 550.8 1002.5 530.0 1000.0 C509.2 997.5 489.2 990.0 475.0 980.0 C460.8 970.0 450.8 955.0 445.0 940.0 C439.2 925.0 437.5 905.0 440.0 890.0 C442.5 875.0 453.3 860.0 460.0 850.0 C466.7 840.0 486.7 833.3 480.0 830.0 C473.3 826.7 445.0 830.8 420.0 830.0 C395.0 829.2 358.3 829.2 330.0 825.0 C301.7 820.8 276.7 814.2 250.0 805.0 C223.3 795.8 193.3 784.2 170.0 770.0 C146.7 755.8 127.5 738.3 110.0 720.0 C92.5 701.7 76.7 681.7 65.0 660.0 C53.3 638.3 44.5 613.3 40.0 590.0 C35.5 566.7 35.5 543.3 38.0 520.0 C40.5 496.7 46.3 473.3 55.0 450.0 C63.7 426.7 75.8 403.3 90.0 380.0 C104.2 356.7 121.7 332.5 140.0 310.0 C158.3 287.5 178.3 265.8 200.0 245.0 C221.7 224.2 245.0 203.3 270.0 185.0 C295.0 166.7 321.7 150.0 350.0 135.0 C378.3 120.0 410.0 107.5 440.0 95.0 C470.0 82.5 500.0 69.2 530.0 60.0 C560.0 50.8 588.3 45.0 620.0 40.0 C651.7 35.0 690.0 32.5 720.0 30.0 C750.0 27.5 780.0 27.0 800.0 25.0 C820.0 23.0 826.7 20.2 840.0 18.0 C853.3 15.8 860.0 10.8 880.0 12.0Z" fill="#D04C8A"/><g filter="url(#jag)"><path d="M30 450 L130 300 L200 230 L250 270 L220 330 L140 420 L120 520 L140 640 L170 720 L100 730 L20 600Z" fill="#9A3995"/><path d="M220 330 L250 270 L330 220 L360 280 L300 340 L340 400 L330 470 L290 530 L270 590 L290 640 L270 690 L200 730 L170 720 L140 640 L120 520 L140 420Z" fill="#F49A72"/><path d="M340 125 L440 80 L450 150 L420 200 L360 230 L330 220 L260 180Z" fill="#F08864"/><path d="M360 280 L420 200 L450 150 L560 130 L620 200 L640 310 L560 370 L480 385 L400 420 L340 400 L300 340Z" fill="#A83C96"/><path d="M440 80 L530 45 L640 30 L650 150 L620 200 L560 130 L450 150Z" fill="#E85488"/><path d="M640 30 L720 15 L780 40 L760 140 L700 170 L650 150Z" fill="#F07A6E"/><path d="M650 150 L700 170 L760 140 L780 40 L850 30 L850 100 L830 160 L950 200 L980 300 L860 320 L850 280 L740 280 L640 310 L620 200Z" fill="#E4528A"/><path d="M840 20 L960 10 L1050 50 L1110 110 L980 110 L960 160 L830 160 L850 100Z" fill="#F3906A"/><path d="M980 110 L1110 110 L1200 170 L1150 240 L1160 310 L1100 400 L1000 420 L970 340 L980 300 L950 200 L960 160Z" fill="#8B3593"/><path d="M740 280 L850 280 L860 320 L850 400 L740 380Z" fill="#7A2F92"/><path d="M640 310 L740 280 L740 380 L830 400 L850 400 L860 320 L980 300 L970 340 L1000 420 L1080 440 L1040 520 L985 520 L950 470 L900 430 L740 370 L560 370Z" fill="#C04592"/><path d="M1200 170 L1260 240 L1310 310 L1250 330 L1160 310 L1150 240Z" fill="#E85488"/><path d="M1160 310 L1250 330 L1310 310 L1400 480 L1420 560 L1300 540 L1200 560 L1100 620 L1000 700 L960 760 L940 830 L940 900 L1030 865 L1120 835 L1080 700 L1000 640 L985 520 L1040 520 L1080 440 L1100 400Z" fill="#F08A6A"/><path d="M900 720 L970 620 L1000 640 L1080 700 L1120 835 L940 900 L880 760Z" fill="#F08A6A"/><path d="M1080 400 L1130 400 L1120 460 L1080 470Z" fill="#FADCA0"/><path d="M1200 450 L1260 460 L1270 520 L1210 530Z" fill="#FADCA0"/><path d="M990 530 L1080 540 L1060 620 L1000 680 L940 670 L970 620Z" fill="#F8C890"/><path d="M1000 680 L1090 670 L1100 700 L1010 715Z" fill="#FADCA0"/><path d="M1200 560 L1300 540 L1420 560 L1425 630 L1340 650 L1260 680 L1180 640Z" fill="#EE6E70"/><path d="M1100 700 L1180 640 L1260 680 L1340 650 L1425 630 L1410 700 L1360 750 L1210 805 L1120 835Z" fill="#C04592"/><path d="M1340 650 L1425 630 L1410 700 L1350 700Z" fill="#5E2C86"/><path d="M170 720 L200 730 L270 690 L300 760 L330 840 L250 820 L160 785 L100 730Z" fill="#8B3593"/><path d="M270 690 L290 640 L340 680 L400 720 L460 750 L490 830 L420 845 L330 840 L300 760Z" fill="#E85488"/><path d="M440 850 L490 830 L500 880 L530 920 L570 940 L620 920 L670 880 L720 840 L780 810 L840 790 L880 760 L940 830 L940 900 L760 970 L600 1015 L465 1000 L420 900Z" fill="#8B3593"/><path d="M720 840 L780 810 L840 790 L880 760 L940 830 L850 870 L780 900Z" fill="#C04592"/></g><g filter="url(#bb12)" fill="none" stroke="#fff" stroke-linecap="round"><path d="M620 200 C720 230 800 220 880 190" stroke-width="30" opacity="0.20"/><path d="M1000 650 C1070 630 1130 600 1190 570" stroke-width="24" opacity="0.25"/><path d="M1180 320 C1210 400 1250 450 1290 520" stroke-width="30" opacity="0.20"/><path d="M150 520 C160 420 240 340 320 300" stroke-width="40" opacity="0.15"/></g><g filter="url(#bb12)" fill="none" stroke="#1a0818" stroke-linecap="round"><path d="M1010 690 C1080 665 1140 640 1200 600" stroke-width="36" opacity="0.19"/><path d="M930 800 C990 790 1040 770 1090 750" stroke-width="36" opacity="0.15"/><path d="M640 250 C720 270 800 260 870 230" stroke-width="42" opacity="0.10"/><path d="M1130 330 C1160 420 1200 470 1230 560" stroke-width="42" opacity="0.08"/></g><g filter="url(#bb6)" fill="none" stroke="#14060f" stroke-linecap="round"><path d="M1010 690 C1080 665 1140 640 1200 600" stroke-width="12" opacity="0.50"/><path d="M930 800 C990 790 1040 770 1090 750" stroke-width="12" opacity="0.40"/><path d="M640 250 C720 270 800 260 870 230" stroke-width="14" opacity="0.25"/><path d="M1130 330 C1160 420 1200 470 1230 560" stroke-width="14" opacity="0.20"/></g><g filter="url(#bb2)"><path d="M270.0 590.0 C270.0 571.7 280.0 550.0 290.0 530.0 C300.0 510.0 311.7 488.3 330.0 470.0 C348.3 451.7 375.0 434.2 400.0 420.0 C425.0 405.8 453.3 393.3 480.0 385.0 C506.7 376.7 531.7 372.8 560.0 370.0 C588.3 367.2 620.0 366.3 650.0 368.0 C680.0 369.7 710.0 374.7 740.0 380.0 C770.0 385.3 803.3 391.7 830.0 400.0 C856.7 408.3 880.0 418.3 900.0 430.0 C920.0 441.7 935.8 455.0 950.0 470.0 C964.2 485.0 978.3 503.3 985.0 520.0 C991.7 536.7 992.5 553.3 990.0 570.0 C987.5 586.7 980.0 603.3 970.0 620.0 C960.0 636.7 941.7 653.3 930.0 670.0 C918.3 686.7 908.3 705.0 900.0 720.0 C891.7 735.0 890.0 748.3 880.0 760.0 C870.0 771.7 856.7 781.7 840.0 790.0 C823.3 798.3 800.0 801.7 780.0 810.0 C760.0 818.3 738.3 828.3 720.0 840.0 C701.7 851.7 686.7 866.7 670.0 880.0 C653.3 893.3 636.7 910.0 620.0 920.0 C603.3 930.0 585.0 940.0 570.0 940.0 C555.0 940.0 541.7 930.0 530.0 920.0 C518.3 910.0 506.7 895.0 500.0 880.0 C493.3 865.0 493.3 845.0 490.0 830.0 C486.7 815.0 485.0 803.3 480.0 790.0 C475.0 776.7 473.3 761.7 460.0 750.0 C446.7 738.3 420.0 731.7 400.0 720.0 C380.0 708.3 358.3 693.3 340.0 680.0 C321.7 666.7 301.7 655.0 290.0 640.0 C278.3 625.0 270.0 608.3 270.0 590.0Z" fill="#3a3a3a"/></g><g filter="url(#bb2)" fill="none" stroke="#14060f" stroke-linecap="round"><path d="M1010 690 C1080 665 1140 640 1200 600" stroke-width="4" opacity="0.40"/><path d="M930 800 C990 790 1040 770 1090 750" stroke-width="4" opacity="0.32"/><path d="M640 250 C720 270 800 260 870 230" stroke-width="4" opacity="0.20"/><path d="M1130 330 C1160 420 1200 470 1230 560" stroke-width="4" opacity="0.16"/></g><rect x="0" y="0" width="1500" height="1010" fill="url(#shade)"/><g filter="url(#bb12)"><path d="M880.0 12.0 C900.0 13.2 933.3 17.0 960.0 25.0 C986.7 33.0 1013.3 45.0 1040.0 60.0 C1066.7 75.0 1095.0 95.0 1120.0 115.0 C1145.0 135.0 1168.3 157.5 1190.0 180.0 C1211.7 202.5 1231.7 226.7 1250.0 250.0 C1268.3 273.3 1284.2 295.0 1300.0 320.0 C1315.8 345.0 1331.7 373.3 1345.0 400.0 C1358.3 426.7 1370.8 453.3 1380.0 480.0 C1389.2 506.7 1395.8 535.0 1400.0 560.0 C1404.2 585.0 1406.7 608.3 1405.0 630.0 C1403.3 651.7 1399.2 672.5 1390.0 690.0 C1380.8 707.5 1366.7 722.5 1350.0 735.0 C1333.3 747.5 1313.3 755.8 1290.0 765.0 C1266.7 774.2 1238.3 781.7 1210.0 790.0 C1181.7 798.3 1150.0 805.8 1120.0 815.0 C1090.0 824.2 1060.0 834.2 1030.0 845.0 C1000.0 855.8 970.0 868.3 940.0 880.0 C910.0 891.7 880.0 903.3 850.0 915.0 C820.0 926.7 788.3 940.0 760.0 950.0 C731.7 960.0 706.7 967.5 680.0 975.0 C653.3 982.5 625.0 990.8 600.0 995.0 C575.0 999.2 550.8 1002.5 530.0 1000.0 C509.2 997.5 489.2 990.0 475.0 980.0 C460.8 970.0 450.8 955.0 445.0 940.0 C439.2 925.0 437.5 905.0 440.0 890.0 C442.5 875.0 453.3 860.0 460.0 850.0 C466.7 840.0 486.7 833.3 480.0 830.0 C473.3 826.7 445.0 830.8 420.0 830.0 C395.0 829.2 358.3 829.2 330.0 825.0 C301.7 820.8 276.7 814.2 250.0 805.0 C223.3 795.8 193.3 784.2 170.0 770.0 C146.7 755.8 127.5 738.3 110.0 720.0 C92.5 701.7 76.7 681.7 65.0 660.0 C53.3 638.3 44.5 613.3 40.0 590.0 C35.5 566.7 35.5 543.3 38.0 520.0 C40.5 496.7 46.3 473.3 55.0 450.0 C63.7 426.7 75.8 403.3 90.0 380.0 C104.2 356.7 121.7 332.5 140.0 310.0 C158.3 287.5 178.3 265.8 200.0 245.0 C221.7 224.2 245.0 203.3 270.0 185.0 C295.0 166.7 321.7 150.0 350.0 135.0 C378.3 120.0 410.0 107.5 440.0 95.0 C470.0 82.5 500.0 69.2 530.0 60.0 C560.0 50.8 588.3 45.0 620.0 40.0 C651.7 35.0 690.0 32.5 720.0 30.0 C750.0 27.5 780.0 27.0 800.0 25.0 C820.0 23.0 826.7 20.2 840.0 18.0 C853.3 15.8 860.0 10.8 880.0 12.0Z" fill="none" stroke="#1a0a1e" stroke-width="44" opacity=".34"/></g><g filter="url(#bb4)"><path d="M880.0 12.0 C900.0 13.2 933.3 17.0 960.0 25.0 C986.7 33.0 1013.3 45.0 1040.0 60.0 C1066.7 75.0 1095.0 95.0 1120.0 115.0 C1145.0 135.0 1168.3 157.5 1190.0 180.0 C1211.7 202.5 1231.7 226.7 1250.0 250.0 C1268.3 273.3 1284.2 295.0 1300.0 320.0 C1315.8 345.0 1331.7 373.3 1345.0 400.0 C1358.3 426.7 1370.8 453.3 1380.0 480.0 C1389.2 506.7 1395.8 535.0 1400.0 560.0 C1404.2 585.0 1406.7 608.3 1405.0 630.0 C1403.3 651.7 1399.2 672.5 1390.0 690.0 C1380.8 707.5 1366.7 722.5 1350.0 735.0 C1333.3 747.5 1313.3 755.8 1290.0 765.0 C1266.7 774.2 1238.3 781.7 1210.0 790.0 C1181.7 798.3 1150.0 805.8 1120.0 815.0 C1090.0 824.2 1060.0 834.2 1030.0 845.0 C1000.0 855.8 970.0 868.3 940.0 880.0 C910.0 891.7 880.0 903.3 850.0 915.0 C820.0 926.7 788.3 940.0 760.0 950.0 C731.7 960.0 706.7 967.5 680.0 975.0 C653.3 982.5 625.0 990.8 600.0 995.0 C575.0 999.2 550.8 1002.5 530.0 1000.0 C509.2 997.5 489.2 990.0 475.0 980.0 C460.8 970.0 450.8 955.0 445.0 940.0 C439.2 925.0 437.5 905.0 440.0 890.0 C442.5 875.0 453.3 860.0 460.0 850.0 C466.7 840.0 486.7 833.3 480.0 830.0 C473.3 826.7 445.0 830.8 420.0 830.0 C395.0 829.2 358.3 829.2 330.0 825.0 C301.7 820.8 276.7 814.2 250.0 805.0 C223.3 795.8 193.3 784.2 170.0 770.0 C146.7 755.8 127.5 738.3 110.0 720.0 C92.5 701.7 76.7 681.7 65.0 660.0 C53.3 638.3 44.5 613.3 40.0 590.0 C35.5 566.7 35.5 543.3 38.0 520.0 C40.5 496.7 46.3 473.3 55.0 450.0 C63.7 426.7 75.8 403.3 90.0 380.0 C104.2 356.7 121.7 332.5 140.0 310.0 C158.3 287.5 178.3 265.8 200.0 245.0 C221.7 224.2 245.0 203.3 270.0 185.0 C295.0 166.7 321.7 150.0 350.0 135.0 C378.3 120.0 410.0 107.5 440.0 95.0 C470.0 82.5 500.0 69.2 530.0 60.0 C560.0 50.8 588.3 45.0 620.0 40.0 C651.7 35.0 690.0 32.5 720.0 30.0 C750.0 27.5 780.0 27.0 800.0 25.0 C820.0 23.0 826.7 20.2 840.0 18.0 C853.3 15.8 860.0 10.8 880.0 12.0Z" fill="none" stroke="#1a0a1e" stroke-width="13" opacity=".7"/></g></g></g>
<text x="342.4" y="228.2" font-size="24.9" fill="#231F20">L</text>
<text x="984.3" y="228.2" font-size="24.9" fill="#231F20">R</text>
</g>
<defs><linearGradient id="mg" x1="0" y1="0" x2="0" y2="1"><stop offset="0" stop-color="#FCFBBD"/><stop offset="0.07" stop-color="#FBE7A5"/><stop offset="0.147" stop-color="#FBC98C"/><stop offset="0.243" stop-color="#F6955F"/><stop offset="0.3" stop-color="#F07662"/><stop offset="0.351" stop-color="#E8586A"/><stop offset="0.447" stop-color="#C8427E"/><stop offset="0.567" stop-color="#9A2E88"/><stop offset="0.663" stop-color="#772A8A"/><stop offset="0.76" stop-color="#4F2C80"/><stop offset="0.844" stop-color="#3A2A6A"/><stop offset="0.892" stop-color="#1F1A3A"/><stop offset="0.952" stop-color="#0A0810"/><stop offset="1" stop-color="#020204"/></linearGradient></defs>
<rect x="1364.9" y="100" width="27.3" height="318.7" fill="url(#mg)" stroke="#231F20" stroke-width="1.7"/>
<text x="1377.5" y="88.3" text-anchor="middle" font-size="27.2" font-weight="bold" fill="#231F20">0.42</text>
<text x="1376" y="454.3" text-anchor="middle" font-size="26.7" letter-spacing="-0.7" font-weight="bold" fill="#231F20">-0.01</text>
<g id="panelb">
<path d="M166.4 587 V981 H753.5" fill="none" stroke="#000" stroke-width="4.6" stroke-linejoin="miter"/>
<line x1="150.2" x2="166.4" y1="589.2" y2="589.2" stroke="#000" stroke-width="4.6"/>
<text x="144.5" y="599.5" text-anchor="end" font-size="29.6" font-weight="bold">0.5</text>
<line x1="150.2" x2="166.4" y1="654.5" y2="654.5" stroke="#000" stroke-width="4.6"/>
<text x="144.5" y="664.8" text-anchor="end" font-size="29.6" font-weight="bold">0.4</text>
<line x1="150.2" x2="166.4" y1="719.8" y2="719.8" stroke="#000" stroke-width="4.6"/>
<text x="144.5" y="730.1" text-anchor="end" font-size="29.6" font-weight="bold">0.3</text>
<line x1="150.2" x2="166.4" y1="785.1" y2="785.1" stroke="#000" stroke-width="4.6"/>
<text x="144.5" y="795.4" text-anchor="end" font-size="29.6" font-weight="bold">0.2</text>
<line x1="150.2" x2="166.4" y1="850.4" y2="850.4" stroke="#000" stroke-width="4.6"/>
<text x="144.5" y="860.7" text-anchor="end" font-size="29.6" font-weight="bold">0.1</text>
<line x1="150.2" x2="166.4" y1="915.7" y2="915.7" stroke="#000" stroke-width="4.6"/>
<text x="144.5" y="926.0" text-anchor="end" font-size="29.6" font-weight="bold">0.0</text>
<line x1="150.2" x2="166.4" y1="981.0" y2="981.0" stroke="#000" stroke-width="4.6"/>
<text x="144.5" y="991.3" text-anchor="end" font-size="29.6" font-weight="bold">-0.1</text>
<line x1="208.8" x2="208.8" y1="981" y2="997.7" stroke="#000" stroke-width="4.6"/>
<text transform="translate(214.5 1024.6) rotate(-45)" text-anchor="end" font-size="30" font-weight="bold">VIS</text>
<line x1="271.4" x2="271.4" y1="981" y2="997.7" stroke="#000" stroke-width="4.6"/>
<text transform="translate(277.1 1024.6) rotate(-45)" text-anchor="end" font-size="30" font-weight="bold">SOM</text>
<line x1="334.0" x2="334.0" y1="981" y2="997.7" stroke="#000" stroke-width="4.6"/>
<text transform="translate(339.7 1024.6) rotate(-45)" text-anchor="end" font-size="30" font-weight="bold">DATTN</text>
<line x1="396.6" x2="396.6" y1="981" y2="997.7" stroke="#000" stroke-width="4.6"/>
<text transform="translate(402.3 1024.6) rotate(-45)" text-anchor="end" font-size="30" font-weight="bold">VATTN</text>
<line x1="459.2" x2="459.2" y1="981" y2="997.7" stroke="#000" stroke-width="4.6"/>
<text transform="translate(464.9 1024.6) rotate(-45)" text-anchor="end" font-size="30" font-weight="bold">LIM</text>
<line x1="521.8" x2="521.8" y1="981" y2="997.7" stroke="#000" stroke-width="4.6"/>
<text transform="translate(527.5 1024.6) rotate(-45)" text-anchor="end" font-size="30" font-weight="bold">FPN</text>
<line x1="584.4" x2="584.4" y1="981" y2="997.7" stroke="#000" stroke-width="4.6"/>
<text transform="translate(590.1 1024.6) rotate(-45)" text-anchor="end" font-size="30" font-weight="bold">DMN</text>
<line x1="647.0" x2="647.0" y1="981" y2="997.7" stroke="#000" stroke-width="4.6"/>
<text transform="translate(652.7 1024.6) rotate(-45)" text-anchor="end" font-size="30" font-weight="bold">SUB</text>
<line x1="709.6" x2="709.6" y1="981" y2="997.7" stroke="#000" stroke-width="4.6"/>
<text transform="translate(715.3 1024.6) rotate(-45)" text-anchor="end" font-size="30" font-weight="bold">CER/BS</text>
<text transform="translate(75.3 785) rotate(-90)" text-anchor="middle" font-size="32" font-weight="bold">SC-FC coupling</text>
<line x1="190.9" x2="226.9" y1="726.0" y2="726.0" stroke="#3B6CA9" stroke-width="1.5" stroke-dasharray="1.6 2.2"/>
<line x1="195.8" x2="222.0" y1="788.8" y2="788.8" stroke="#3B6CA9" stroke-width="1.5" stroke-dasharray="1.6 2.2"/>
<line x1="191.1" x2="226.8" y1="748.5" y2="748.5" stroke="#9EC4E8" stroke-width="1.7" stroke-dasharray="6.5 2.5"/>
<path d="M211.07 667.18 C211.10 668.79 210.98 673.89 211.21 676.85 C211.43 679.80 211.41 682.21 212.42 684.90 C213.42 687.58 215.55 690.27 217.25 692.95 C218.95 695.64 221.23 698.32 222.62 701.01 C224.00 703.69 224.85 705.03 225.57 709.06 C226.29 713.09 226.60 719.80 226.91 725.17 C227.23 730.54 227.61 735.91 227.45 741.28 C227.29 746.64 226.62 752.01 225.97 757.38 C225.32 762.75 224.14 769.02 223.56 773.49 C222.98 777.96 222.75 781.54 222.48 784.23 C222.21 786.91 222.44 786.91 221.95 789.60 C221.45 792.28 220.45 796.76 219.53 800.34 C218.61 803.91 217.54 807.05 216.44 811.07 C215.35 815.10 213.83 820.02 212.95 824.50 C212.08 828.97 211.48 833.00 211.21 837.92 C210.94 842.84 211.32 849.55 211.34 854.03 C211.36 858.50 211.39 860.74 211.34 864.77 C211.30 868.79 211.19 873.71 211.07 878.19 C210.96 882.66 210.76 888.03 210.67 891.61 C210.58 895.19 210.56 898.32 210.54 899.66 L207.32 899.66 C207.29 898.32 207.27 895.19 207.18 891.61 C207.09 888.03 206.89 882.66 206.78 878.19 C206.67 873.71 206.55 868.79 206.51 864.77 C206.47 860.74 206.49 858.50 206.51 854.03 C206.53 849.55 206.91 842.84 206.64 837.92 C206.38 833.00 205.77 828.97 204.90 824.50 C204.03 820.02 202.51 815.10 201.41 811.07 C200.31 807.05 199.24 803.91 198.32 800.34 C197.40 796.76 196.40 792.28 195.91 789.60 C195.41 786.91 195.64 786.91 195.37 784.23 C195.10 781.54 194.88 777.96 194.30 773.49 C193.71 769.02 192.53 762.75 191.88 757.38 C191.23 752.01 190.56 746.64 190.40 741.28 C190.25 735.91 190.63 730.54 190.94 725.17 C191.25 719.80 191.57 713.09 192.28 709.06 C193.00 705.03 193.85 703.69 195.23 701.01 C196.62 698.32 198.90 695.64 200.60 692.95 C202.30 690.27 204.43 687.58 205.44 684.90 C206.44 682.21 206.42 679.80 206.64 676.85 C206.87 673.89 206.76 668.79 206.78 667.18 Z" fill="none" stroke="#3B6CA9" stroke-width="5" stroke-linejoin="round"/>
<line x1="258.6" x2="282.7" y1="747.4" y2="747.4" stroke="#6A40A2" stroke-width="1.5" stroke-dasharray="1.6 2.2"/>
<line x1="253.7" x2="287.6" y1="808.9" y2="808.9" stroke="#6A40A2" stroke-width="1.5" stroke-dasharray="1.6 2.2"/>
<line x1="253.3" x2="288.0" y1="776.7" y2="776.7" stroke="#B691D2" stroke-width="1.7" stroke-dasharray="6.5 2.5"/>
<path d="M274.70 698.86 C274.79 701.45 274.70 710.04 275.23 714.43 C275.77 718.81 276.78 721.59 277.92 725.17 C279.06 728.75 281.28 732.33 282.08 735.91 C282.89 739.49 282.75 743.06 282.75 746.64 C282.75 750.22 281.54 754.25 282.08 757.38 C282.62 760.51 284.88 762.53 285.97 765.44 C287.07 768.34 288.75 771.70 288.66 774.83 C288.57 777.96 286.42 780.87 285.44 784.23 C284.45 787.58 282.55 791.83 282.75 794.97 C282.95 798.10 285.77 800.34 286.64 803.02 C287.52 805.70 288.43 807.94 287.99 811.07 C287.54 814.21 285.73 818.23 283.96 821.81 C282.19 825.39 279.15 828.97 277.38 832.55 C275.62 836.13 274.07 840.38 273.36 843.29 C272.64 846.20 273.13 848.88 273.09 850.00 L268.26 850.00 C268.21 848.88 268.70 846.20 267.99 843.29 C267.27 840.38 265.73 836.13 263.96 832.55 C262.19 828.97 259.15 825.39 257.38 821.81 C255.62 818.23 253.80 814.21 253.36 811.07 C252.91 807.94 253.83 805.70 254.70 803.02 C255.57 800.34 258.39 798.10 258.59 794.97 C258.79 791.83 256.89 787.58 255.91 784.23 C254.92 780.87 252.77 777.96 252.68 774.83 C252.60 771.70 254.27 768.34 255.37 765.44 C256.47 762.53 258.72 760.51 259.26 757.38 C259.80 754.25 258.59 750.22 258.59 746.64 C258.59 743.06 258.46 739.49 259.26 735.91 C260.07 732.33 262.28 728.75 263.42 725.17 C264.56 721.59 265.57 718.81 266.11 714.43 C266.64 710.04 266.55 701.45 266.64 698.86 Z" fill="none" stroke="#6A40A2" stroke-width="5" stroke-linejoin="round"/>
<line x1="320.9" x2="347.7" y1="732.7" y2="732.7" stroke="#A7399A" stroke-width="1.5" stroke-dasharray="1.6 2.2"/>
<line x1="316.3" x2="352.3" y1="822.3" y2="822.3" stroke="#A7399A" stroke-width="1.5" stroke-dasharray="1.6 2.2"/>
<line x1="325.4" x2="343.2" y1="772.1" y2="772.1" stroke="#E6A5D8" stroke-width="1.7" stroke-dasharray="6.5 2.5"/>
<path d="M337.25 670.67 C337.36 671.70 337.25 673.58 337.92 676.85 C338.59 680.11 340.22 685.79 341.28 690.27 C342.33 694.74 343.38 699.22 344.23 703.69 C345.08 708.17 345.82 712.64 346.38 717.11 C346.94 721.59 347.27 726.51 347.58 730.54 C347.90 734.56 348.46 737.70 348.26 741.28 C348.05 744.85 347.05 748.43 346.38 752.01 C345.70 755.59 344.79 759.17 344.23 762.75 C343.67 766.33 343.02 769.91 343.02 773.49 C343.02 777.07 343.47 780.20 344.23 784.23 C344.99 788.26 346.44 793.18 347.58 797.65 C348.72 802.13 350.27 807.05 351.07 811.07 C351.88 815.10 352.48 818.68 352.42 821.81 C352.35 824.94 351.68 827.18 350.67 829.87 C349.66 832.55 347.67 835.59 346.38 837.92 C345.08 840.25 343.47 842.84 342.89 843.83 L325.70 843.83 C325.12 842.84 323.51 840.25 322.21 837.92 C320.92 835.59 318.93 832.55 317.92 829.87 C316.91 827.18 316.24 824.94 316.17 821.81 C316.11 818.68 316.71 815.10 317.52 811.07 C318.32 807.05 319.87 802.13 321.01 797.65 C322.15 793.18 323.60 788.26 324.36 784.23 C325.12 780.20 325.57 777.07 325.57 773.49 C325.57 769.91 324.92 766.33 324.36 762.75 C323.80 759.17 322.89 755.59 322.21 752.01 C321.54 748.43 320.54 744.85 320.34 741.28 C320.13 737.70 320.69 734.56 321.01 730.54 C321.32 726.51 321.66 721.59 322.21 717.11 C322.77 712.64 323.51 708.17 324.36 703.69 C325.21 699.22 326.26 694.74 327.32 690.27 C328.37 685.79 330.00 680.11 330.67 676.85 C331.34 673.58 331.23 671.70 331.34 670.67 Z" fill="none" stroke="#A7399A" stroke-width="5" stroke-linejoin="round"/>
<line x1="382.9" x2="409.6" y1="759.3" y2="759.3" stroke="#6AA940" stroke-width="1.5" stroke-dasharray="1.6 2.2"/>
<line x1="384.0" x2="408.5" y1="802.2" y2="802.2" stroke="#6AA940" stroke-width="1.5" stroke-dasharray="1.6 2.2"/>
<line x1="378.2" x2="414.3" y1="787.4" y2="787.4" stroke="#C3E09C" stroke-width="1.7" stroke-dasharray="6.5 2.5"/>
<path d="M398.12 694.83 C398.08 698.55 397.67 711.61 397.85 717.11 C398.03 722.62 398.21 724.27 399.19 727.85 C400.18 731.43 402.28 735.01 403.76 738.59 C405.23 742.17 407.02 746.20 408.05 749.33 C409.08 752.46 409.89 754.70 409.93 757.38 C409.98 760.07 408.72 763.20 408.32 765.44 C407.92 767.67 406.80 768.12 407.52 770.81 C408.23 773.49 411.45 778.64 412.62 781.54 C413.78 784.45 414.61 785.79 414.50 788.26 C414.38 790.72 413.29 793.40 411.95 796.31 C410.60 799.22 408.12 802.35 406.44 805.70 C404.77 809.06 403.22 811.97 401.88 816.44 C400.54 820.92 398.93 828.08 398.39 832.55 C397.85 837.02 398.61 838.81 398.66 843.29 C398.70 847.76 398.75 853.58 398.66 859.40 C398.57 865.21 398.26 873.71 398.12 878.19 C397.99 882.66 397.90 884.90 397.85 886.24 L394.63 886.24 C394.59 884.90 394.50 882.66 394.36 878.19 C394.23 873.71 393.91 865.21 393.83 859.40 C393.74 853.58 393.78 847.76 393.83 843.29 C393.87 838.81 394.63 837.02 394.09 832.55 C393.56 828.08 391.95 820.92 390.60 816.44 C389.26 811.97 387.72 809.06 386.04 805.70 C384.36 802.35 381.88 799.22 380.54 796.31 C379.19 793.40 378.10 790.72 377.99 788.26 C377.87 785.79 378.70 784.45 379.87 781.54 C381.03 778.64 384.25 773.49 384.97 770.81 C385.68 768.12 384.56 767.67 384.16 765.44 C383.76 763.20 382.51 760.07 382.55 757.38 C382.60 754.70 383.40 752.46 384.43 749.33 C385.46 746.20 387.25 742.17 388.72 738.59 C390.20 735.01 392.30 731.43 393.29 727.85 C394.27 724.27 394.45 722.62 394.63 717.11 C394.81 711.61 394.41 698.55 394.36 694.83 Z" fill="none" stroke="#6AA940" stroke-width="5" stroke-linejoin="round"/>
<line x1="444.2" x2="475.5" y1="825.8" y2="825.8" stroke="#06526F" stroke-width="1.5" stroke-dasharray="1.6 2.2"/>
<line x1="443.4" x2="476.4" y1="861.5" y2="861.5" stroke="#06526F" stroke-width="1.5" stroke-dasharray="1.6 2.2"/>
<line x1="441.8" x2="478.0" y1="844.1" y2="844.1" stroke="#4FB3D3" stroke-width="1.7" stroke-dasharray="6.5 2.5"/>
<path d="M462.55 745.30 C462.55 746.42 462.73 749.11 462.55 752.01 C462.37 754.92 461.57 757.38 461.48 762.75 C461.39 768.12 461.88 777.96 462.01 784.23 C462.15 790.49 461.36 795.86 462.28 800.34 C463.20 804.81 465.48 807.49 467.52 811.07 C469.55 814.65 472.89 818.23 474.50 821.81 C476.11 825.39 476.60 828.97 477.18 832.55 C477.76 836.13 477.92 839.71 477.99 843.29 C478.05 846.87 477.94 850.45 477.58 854.03 C477.23 857.61 476.80 861.63 475.84 864.77 C474.88 867.90 473.38 870.13 471.81 872.82 C470.25 875.50 467.45 878.46 466.44 880.87 C465.44 883.29 465.88 886.24 465.77 887.32 L453.96 887.32 C453.85 886.24 454.30 883.29 453.29 880.87 C452.28 878.46 449.49 875.50 447.92 872.82 C446.35 870.13 444.85 867.90 443.89 864.77 C442.93 861.63 442.51 857.61 442.15 854.03 C441.79 850.45 441.68 846.87 441.74 843.29 C441.81 839.71 441.97 836.13 442.55 832.55 C443.13 828.97 443.62 825.39 445.23 821.81 C446.85 818.23 450.18 814.65 452.21 811.07 C454.25 807.49 456.53 804.81 457.45 800.34 C458.37 795.86 457.58 790.49 457.72 784.23 C457.85 777.96 458.34 768.12 458.26 762.75 C458.17 757.38 457.36 754.92 457.18 752.01 C457.00 749.11 457.18 746.42 457.18 745.30 Z" fill="none" stroke="#06526F" stroke-width="5" stroke-linejoin="round"/>
<line x1="504.6" x2="538.7" y1="744.0" y2="744.0" stroke="#4A3869" stroke-width="1.5" stroke-dasharray="1.6 2.2"/>
<line x1="512.1" x2="531.1" y1="793.6" y2="793.6" stroke="#4A3869" stroke-width="1.5" stroke-dasharray="1.6 2.2"/>
<line x1="503.7" x2="539.5" y1="766.0" y2="766.0" stroke="#7B52C2" stroke-width="1.7" stroke-dasharray="6.5 2.5"/>
<path d="M527.65 700.20 C527.65 701.68 527.09 705.79 527.65 709.06 C528.21 712.33 529.84 716.22 531.01 719.80 C532.17 723.38 533.36 726.51 534.63 730.54 C535.91 734.56 537.72 739.49 538.66 743.96 C539.60 748.43 540.11 753.80 540.27 757.38 C540.43 760.96 540.04 762.30 539.60 765.44 C539.15 768.57 538.68 772.15 537.58 776.17 C536.49 780.20 534.63 785.57 533.02 789.60 C531.41 793.62 529.24 796.76 527.92 800.34 C526.60 803.91 525.53 807.05 525.10 811.07 C524.68 815.10 525.50 820.02 525.37 824.50 C525.23 828.97 524.34 833.00 524.30 837.92 C524.25 842.84 525.01 848.66 525.10 854.03 C525.19 859.40 524.97 864.77 524.83 870.13 C524.70 875.50 524.30 881.77 524.30 886.24 C524.30 890.72 524.79 893.94 524.83 896.98 C524.88 900.02 524.61 903.24 524.56 904.50 L518.66 904.50 C518.61 903.24 518.34 900.02 518.39 896.98 C518.43 893.94 518.93 890.72 518.93 886.24 C518.93 881.77 518.52 875.50 518.39 870.13 C518.26 864.77 518.03 859.40 518.12 854.03 C518.21 848.66 518.97 842.84 518.93 837.92 C518.88 833.00 517.99 828.97 517.85 824.50 C517.72 820.02 518.55 815.10 518.12 811.07 C517.70 807.05 516.62 803.91 515.30 800.34 C513.98 796.76 511.81 793.62 510.20 789.60 C508.59 785.57 506.73 780.20 505.64 776.17 C504.54 772.15 504.07 768.57 503.62 765.44 C503.18 762.30 502.80 760.96 502.95 757.38 C503.11 753.80 503.62 748.43 504.56 743.96 C505.50 739.49 507.32 734.56 508.59 730.54 C509.87 726.51 511.05 723.38 512.21 719.80 C513.38 716.22 515.01 712.33 515.57 709.06 C516.13 705.79 515.57 701.68 515.57 700.20 Z" fill="none" stroke="#4A3869" stroke-width="5" stroke-linejoin="round"/>
<line x1="568.8" x2="601.0" y1="785.7" y2="785.7" stroke="#A42424" stroke-width="1.5" stroke-dasharray="1.6 2.2"/>
<line x1="572.3" x2="597.5" y1="860.3" y2="860.3" stroke="#A42424" stroke-width="1.5" stroke-dasharray="1.6 2.2"/>
<line x1="566.3" x2="603.5" y1="827.9" y2="827.9" stroke="#F0959C" stroke-width="1.7" stroke-dasharray="6.5 2.5"/>
<path d="M586.51 686.38 C586.60 687.72 586.73 690.40 587.05 694.43 C587.36 698.46 588.26 705.17 588.39 710.54 C588.52 715.91 588.17 721.28 587.85 726.64 C587.54 732.01 586.69 738.72 586.51 742.75 C586.33 746.78 585.37 747.23 586.78 750.81 C588.19 754.38 592.84 760.20 594.97 764.23 C597.09 768.26 598.52 771.39 599.53 774.97 C600.54 778.55 601.01 782.13 601.01 785.70 C601.01 789.28 599.89 792.86 599.53 796.44 C599.17 800.02 598.52 803.60 598.86 807.18 C599.19 810.76 600.74 814.34 601.54 817.92 C602.35 821.50 603.69 825.08 603.69 828.66 C603.69 832.24 602.44 835.37 601.54 839.40 C600.65 843.42 599.11 848.34 598.32 852.82 C597.54 857.29 597.29 861.32 596.85 866.24 C596.40 871.16 596.29 876.98 595.64 882.35 C594.99 887.72 593.96 893.53 592.95 898.46 C591.95 903.38 590.45 908.21 589.60 911.88 C588.75 915.55 588.14 919.04 587.85 920.47 L581.95 920.47 C581.66 919.04 581.05 915.55 580.20 911.88 C579.35 908.21 577.85 903.38 576.85 898.46 C575.84 893.53 574.81 887.72 574.16 882.35 C573.51 876.98 573.40 871.16 572.95 866.24 C572.51 861.32 572.26 857.29 571.48 852.82 C570.69 848.34 569.15 843.42 568.26 839.40 C567.36 835.37 566.11 832.24 566.11 828.66 C566.11 825.08 567.45 821.50 568.26 817.92 C569.06 814.34 570.60 810.76 570.94 807.18 C571.28 803.60 570.63 800.02 570.27 796.44 C569.91 792.86 568.79 789.28 568.79 785.70 C568.79 782.13 569.26 778.55 570.27 774.97 C571.28 771.39 572.71 768.26 574.83 764.23 C576.96 760.20 581.61 754.38 583.02 750.81 C584.43 747.23 583.47 746.78 583.29 742.75 C583.11 738.72 582.26 732.01 581.95 726.64 C581.63 721.28 581.28 715.91 581.41 710.54 C581.54 705.17 582.44 698.46 582.75 694.43 C583.06 690.40 583.20 687.72 583.29 686.38 Z" fill="none" stroke="#A42424" stroke-width="5" stroke-linejoin="round"/>
<line x1="632.1" x2="662.3" y1="714.8" y2="714.8" stroke="#3F4A35" stroke-width="1.5" stroke-dasharray="1.6 2.2"/>
<line x1="634.0" x2="660.4" y1="794.3" y2="794.3" stroke="#3F4A35" stroke-width="1.5" stroke-dasharray="1.6 2.2"/>
<line x1="629.4" x2="665.0" y1="754.0" y2="754.0" stroke="#A9C38A" stroke-width="1.7" stroke-dasharray="6.5 2.5"/>
<path d="M653.49 646.64 C653.49 650.58 653.40 664.09 653.49 670.27 C653.58 676.44 653.24 679.66 654.03 683.69 C654.81 687.72 656.89 689.96 658.19 694.43 C659.49 698.90 660.92 705.17 661.81 710.54 C662.71 715.91 663.04 721.28 663.56 726.64 C664.07 732.01 664.65 737.83 664.90 742.75 C665.15 747.67 665.15 751.70 665.03 756.17 C664.92 760.65 664.72 764.68 664.23 769.60 C663.74 774.52 662.98 780.34 662.08 785.70 C661.19 791.07 659.73 796.89 658.86 801.81 C657.99 806.73 656.96 810.76 656.85 815.23 C656.73 819.71 658.08 824.18 658.19 828.66 C658.30 833.13 657.96 838.05 657.52 842.08 C657.07 846.11 656.17 850.09 655.50 852.82 C654.83 855.55 653.83 857.52 653.49 858.46 L640.87 858.46 C640.54 857.52 639.53 855.55 638.86 852.82 C638.19 850.09 637.29 846.11 636.85 842.08 C636.40 838.05 636.06 833.13 636.17 828.66 C636.29 824.18 637.63 819.71 637.52 815.23 C637.40 810.76 636.38 806.73 635.50 801.81 C634.63 796.89 633.18 791.07 632.28 785.70 C631.39 780.34 630.63 774.52 630.13 769.60 C629.64 764.68 629.44 760.65 629.33 756.17 C629.22 751.70 629.22 747.67 629.46 742.75 C629.71 737.83 630.29 732.01 630.81 726.64 C631.32 721.28 631.66 715.91 632.55 710.54 C633.45 705.17 634.88 698.90 636.17 694.43 C637.47 689.96 639.55 687.72 640.34 683.69 C641.12 679.66 640.78 676.44 640.87 670.27 C640.96 664.09 640.87 650.58 640.87 646.64 Z" fill="none" stroke="#3F4A35" stroke-width="5" stroke-linejoin="round"/>
<line x1="694.0" x2="726.5" y1="781.7" y2="781.7" stroke="#12315C" stroke-width="1.5" stroke-dasharray="1.6 2.2"/>
<line x1="698.8" x2="721.7" y1="811.7" y2="811.7" stroke="#12315C" stroke-width="1.5" stroke-dasharray="1.6 2.2"/>
<line x1="692.4" x2="728.1" y1="796.4" y2="796.4" stroke="#2463B5" stroke-width="1.7" stroke-dasharray="6.5 2.5"/>
<path d="M711.88 736.58 C711.97 738.05 711.63 742.17 712.42 745.44 C713.20 748.70 714.99 752.15 716.58 756.17 C718.17 760.20 720.20 765.12 721.95 769.60 C723.69 774.07 725.88 779.22 727.05 783.02 C728.21 786.82 728.93 789.28 728.93 792.42 C728.93 795.55 728.32 798.46 727.05 801.81 C725.77 805.17 723.47 808.97 721.28 812.55 C719.08 816.13 715.57 820.38 713.89 823.29 C712.21 826.20 710.98 827.76 711.21 830.00 C711.43 832.24 714.23 834.25 715.23 836.71 C716.24 839.17 717.25 842.08 717.25 844.77 C717.25 847.45 716.13 850.36 715.23 852.82 C714.34 855.28 712.48 857.61 711.88 859.53 C711.28 861.45 711.66 863.56 711.61 864.36 L708.93 864.36 C708.88 863.56 709.26 861.45 708.66 859.53 C708.05 857.61 706.20 855.28 705.30 852.82 C704.41 850.36 703.29 847.45 703.29 844.77 C703.29 842.08 704.30 839.17 705.30 836.71 C706.31 834.25 709.11 832.24 709.33 830.00 C709.55 827.76 708.32 826.20 706.64 823.29 C704.97 820.38 701.45 816.13 699.26 812.55 C697.07 808.97 694.77 805.17 693.49 801.81 C692.21 798.46 691.61 795.55 691.61 792.42 C691.61 789.28 692.33 786.82 693.49 783.02 C694.65 779.22 696.85 774.07 698.59 769.60 C700.34 765.12 702.37 760.20 703.96 756.17 C705.55 752.15 707.34 748.70 708.12 745.44 C708.90 742.17 708.57 738.05 708.66 736.58 Z" fill="none" stroke="#12315C" stroke-width="5" stroke-linejoin="round"/>
</g>
<g id="panelc">
<rect x="910.4" y="564.7" width="460.5" height="461.4" fill="#EBEBE9"/>
<rect x="910.40" y="615.97" width="51.47" height="51.57" fill="#D5E2C9"/>
<rect x="910.40" y="667.24" width="51.47" height="51.57" fill="#EAF2E5"/>
<rect x="961.57" y="667.24" width="51.47" height="51.57" fill="#F5E8F3"/>
<rect x="910.40" y="718.51" width="51.47" height="51.57" fill="#C4D8B6"/>
<rect x="961.57" y="718.51" width="51.47" height="51.57" fill="#EEF5EA"/>
<rect x="1012.74" y="718.51" width="51.47" height="51.57" fill="#E3EDDC"/>
<rect x="910.40" y="769.78" width="51.47" height="51.57" fill="#67A03F"/>
<rect x="961.57" y="769.78" width="51.47" height="51.57" fill="#7AAC56"/>
<rect x="1012.74" y="769.78" width="51.47" height="51.57" fill="#8DB870"/>
<rect x="1063.91" y="769.78" width="51.47" height="51.57" fill="#8FBA74"/>
<rect x="910.40" y="821.05" width="51.47" height="51.57" fill="#DDE8D5"/>
<rect x="961.57" y="821.05" width="51.47" height="51.57" fill="#FEFEFE"/>
<rect x="1012.74" y="821.05" width="51.47" height="51.57" fill="#F5F8F1"/>
<rect x="1063.91" y="821.05" width="51.47" height="51.57" fill="#F4E6F2"/>
<rect x="1115.08" y="821.05" width="51.47" height="51.57" fill="#BE7AB5"/>
<rect x="910.40" y="872.32" width="51.47" height="51.57" fill="#6EA445"/>
<rect x="961.57" y="872.32" width="51.47" height="51.57" fill="#A3C58C"/>
<rect x="1012.74" y="872.32" width="51.47" height="51.57" fill="#A3C58C"/>
<rect x="1063.91" y="872.32" width="51.47" height="51.57" fill="#B9D1A6"/>
<rect x="1115.08" y="872.32" width="51.47" height="51.57" fill="#ECD8EA"/>
<rect x="1166.25" y="872.32" width="51.47" height="51.57" fill="#A6C68F"/>
<rect x="910.40" y="923.59" width="51.47" height="51.57" fill="#FFFFFF"/>
<rect x="961.57" y="923.59" width="51.47" height="51.57" fill="#EBD3E8"/>
<rect x="1012.74" y="923.59" width="51.47" height="51.57" fill="#F4E6F3"/>
<rect x="1063.91" y="923.59" width="51.47" height="51.57" fill="#E3C2DE"/>
<rect x="1115.08" y="923.59" width="51.47" height="51.57" fill="#B064A6"/>
<rect x="1166.25" y="923.59" width="51.47" height="51.57" fill="#F0DDEE"/>
<rect x="1217.42" y="923.59" width="51.47" height="51.57" fill="#BF76B3"/>
<rect x="910.40" y="974.86" width="51.47" height="51.57" fill="#A3C58C"/>
<rect x="961.57" y="974.86" width="51.47" height="51.57" fill="#CDDEC2"/>
<rect x="1012.74" y="974.86" width="51.47" height="51.57" fill="#C9DCBD"/>
<rect x="1063.91" y="974.86" width="51.47" height="51.57" fill="#E6EDE0"/>
<rect x="1115.08" y="974.86" width="51.47" height="51.57" fill="#B96FB0"/>
<rect x="1166.25" y="974.86" width="51.47" height="51.57" fill="#D7E4CD"/>
<rect x="1217.42" y="974.86" width="51.47" height="51.57" fill="#DFBCDA"/>
<rect x="1268.59" y="974.86" width="51.47" height="51.57" fill="#B7D0A4"/>
<text x="934.5" y="701.3" text-anchor="middle" font-size="26.3">ns</text>
<text x="985.7" y="701.3" text-anchor="middle" font-size="26.3">ns</text>
<text x="985.7" y="752.5" text-anchor="middle" font-size="26.3">ns</text>
<text x="1036.8" y="752.5" text-anchor="middle" font-size="26.3">ns</text>
<text x="985.7" y="855.1" text-anchor="middle" font-size="26.3">ns</text>
<text x="1036.8" y="855.1" text-anchor="middle" font-size="26.3">ns</text>
<text x="1088.0" y="855.1" text-anchor="middle" font-size="26.3">ns</text>
<text x="934.5" y="957.6" text-anchor="middle" font-size="26.3">ns</text>
<text x="1036.8" y="957.6" text-anchor="middle" font-size="26.3">ns</text>
<text x="1190.3" y="957.6" text-anchor="middle" font-size="26.3">ns</text>
<text x="1088.0" y="1008.9" text-anchor="middle" font-size="26.3">ns</text>
<line x1="894.4" x2="910.4" y1="590.3" y2="590.3" stroke="#000" stroke-width="4.3"/>
<text x="890.8" y="598.4" text-anchor="end" font-size="23.7" font-weight="bold">VIS</text>
<line x1="936.0" x2="936.0" y1="1023.1" y2="1040.7" stroke="#000" stroke-width="4.3"/>
<text transform="translate(941.8 1060) rotate(-45)" text-anchor="end" font-size="24.2" font-weight="bold">VIS</text>
<line x1="894.4" x2="910.4" y1="641.6" y2="641.6" stroke="#000" stroke-width="4.3"/>
<text x="890.8" y="649.7" text-anchor="end" font-size="23.7" font-weight="bold">SOM</text>
<line x1="987.2" x2="987.2" y1="1023.1" y2="1040.7" stroke="#000" stroke-width="4.3"/>
<text transform="translate(993.0 1060) rotate(-45)" text-anchor="end" font-size="24.2" font-weight="bold">SOM</text>
<line x1="894.4" x2="910.4" y1="692.9" y2="692.9" stroke="#000" stroke-width="4.3"/>
<text x="890.8" y="701.0" text-anchor="end" font-size="23.7" font-weight="bold">DATTN</text>
<line x1="1038.3" x2="1038.3" y1="1023.1" y2="1040.7" stroke="#000" stroke-width="4.3"/>
<text transform="translate(1044.1 1060) rotate(-45)" text-anchor="end" font-size="24.2" font-weight="bold">DATTN</text>
<line x1="894.4" x2="910.4" y1="744.1" y2="744.1" stroke="#000" stroke-width="4.3"/>
<text x="890.8" y="752.2" text-anchor="end" font-size="23.7" font-weight="bold">VATTN</text>
<line x1="1089.5" x2="1089.5" y1="1023.1" y2="1040.7" stroke="#000" stroke-width="4.3"/>
<text transform="translate(1095.3 1060) rotate(-45)" text-anchor="end" font-size="24.2" font-weight="bold">VATTN</text>
<line x1="894.4" x2="910.4" y1="795.4" y2="795.4" stroke="#000" stroke-width="4.3"/>
<text x="890.8" y="803.5" text-anchor="end" font-size="23.7" font-weight="bold">LIM</text>
<line x1="1140.7" x2="1140.7" y1="1023.1" y2="1040.7" stroke="#000" stroke-width="4.3"/>
<text transform="translate(1146.5 1060) rotate(-45)" text-anchor="end" font-size="24.2" font-weight="bold">LIM</text>
<line x1="894.4" x2="910.4" y1="846.7" y2="846.7" stroke="#000" stroke-width="4.3"/>
<text x="890.8" y="854.8" text-anchor="end" font-size="23.7" font-weight="bold">FPN</text>
<line x1="1191.8" x2="1191.8" y1="1023.1" y2="1040.7" stroke="#000" stroke-width="4.3"/>
<text transform="translate(1197.6 1060) rotate(-45)" text-anchor="end" font-size="24.2" font-weight="bold">FPN</text>
<line x1="894.4" x2="910.4" y1="898.0" y2="898.0" stroke="#000" stroke-width="4.3"/>
<text x="890.8" y="906.1" text-anchor="end" font-size="23.7" font-weight="bold">DMN</text>
<line x1="1243.0" x2="1243.0" y1="1023.1" y2="1040.7" stroke="#000" stroke-width="4.3"/>
<text transform="translate(1248.8 1060) rotate(-45)" text-anchor="end" font-size="24.2" font-weight="bold">DMN</text>
<line x1="894.4" x2="910.4" y1="949.2" y2="949.2" stroke="#000" stroke-width="4.3"/>
<text x="890.8" y="957.3" text-anchor="end" font-size="23.7" font-weight="bold">SUB</text>
<line x1="1294.2" x2="1294.2" y1="1023.1" y2="1040.7" stroke="#000" stroke-width="4.3"/>
<text transform="translate(1300.0 1060) rotate(-45)" text-anchor="end" font-size="24.2" font-weight="bold">SUB</text>
<line x1="894.4" x2="910.4" y1="1000.5" y2="1000.5" stroke="#000" stroke-width="4.3"/>
<text x="890.8" y="1008.6" text-anchor="end" font-size="23.7" font-weight="bold">CER/BS</text>
<line x1="1345.3" x2="1345.3" y1="1023.1" y2="1040.7" stroke="#000" stroke-width="4.3"/>
<text transform="translate(1351.1 1060) rotate(-45)" text-anchor="end" font-size="24.2" font-weight="bold">CER/BS</text>
<rect x="910.4" y="564.7" width="460.5" height="461.4" fill="none" stroke="#000" stroke-width="4.6"/>
<defs><linearGradient id="pg" x1="0" y1="0" x2="0" y2="1"><stop offset="0" stop-color="#A03C96"/><stop offset="0.5" stop-color="#FFFFFF"/><stop offset="1" stop-color="#64A03C"/></linearGradient></defs>
<rect x="1413.5" y="566.9" width="39.3" height="456.6" fill="url(#pg)" stroke="#000" stroke-width="3.2"/>
<line x1="1413.5" x2="1420.7" y1="652.9" y2="652.9" stroke="#000" stroke-width="3.2"/>
<line x1="1445.6" x2="1452.8" y1="652.9" y2="652.9" stroke="#000" stroke-width="3.2"/>
<text x="1466.5" y="662.3" font-size="26.3">5</text>
<line x1="1413.5" x2="1420.7" y1="795.8" y2="795.8" stroke="#000" stroke-width="3.2"/>
<line x1="1445.6" x2="1452.8" y1="795.8" y2="795.8" stroke="#000" stroke-width="3.2"/>
<text x="1466.5" y="805.2" font-size="26.3">0</text>
<line x1="1413.5" x2="1420.7" y1="938.7" y2="938.7" stroke="#000" stroke-width="3.2"/>
<line x1="1445.6" x2="1452.8" y1="938.7" y2="938.7" stroke="#000" stroke-width="3.2"/>
<text x="1466.5" y="948.1" font-size="26.3">-5</text>
</g>
<text x="-2.5" y="21.6" font-size="39.5" font-weight="bold" fill="#231F20">a</text>
<text x="14.4" y="555.6" font-size="39.5" font-weight="bold" fill="#231F20">b</text>
<text x="780.5" y="555.6" font-size="39.5" font-weight="bold" fill="#231F20">c</text>
</svg>
</body></html>
